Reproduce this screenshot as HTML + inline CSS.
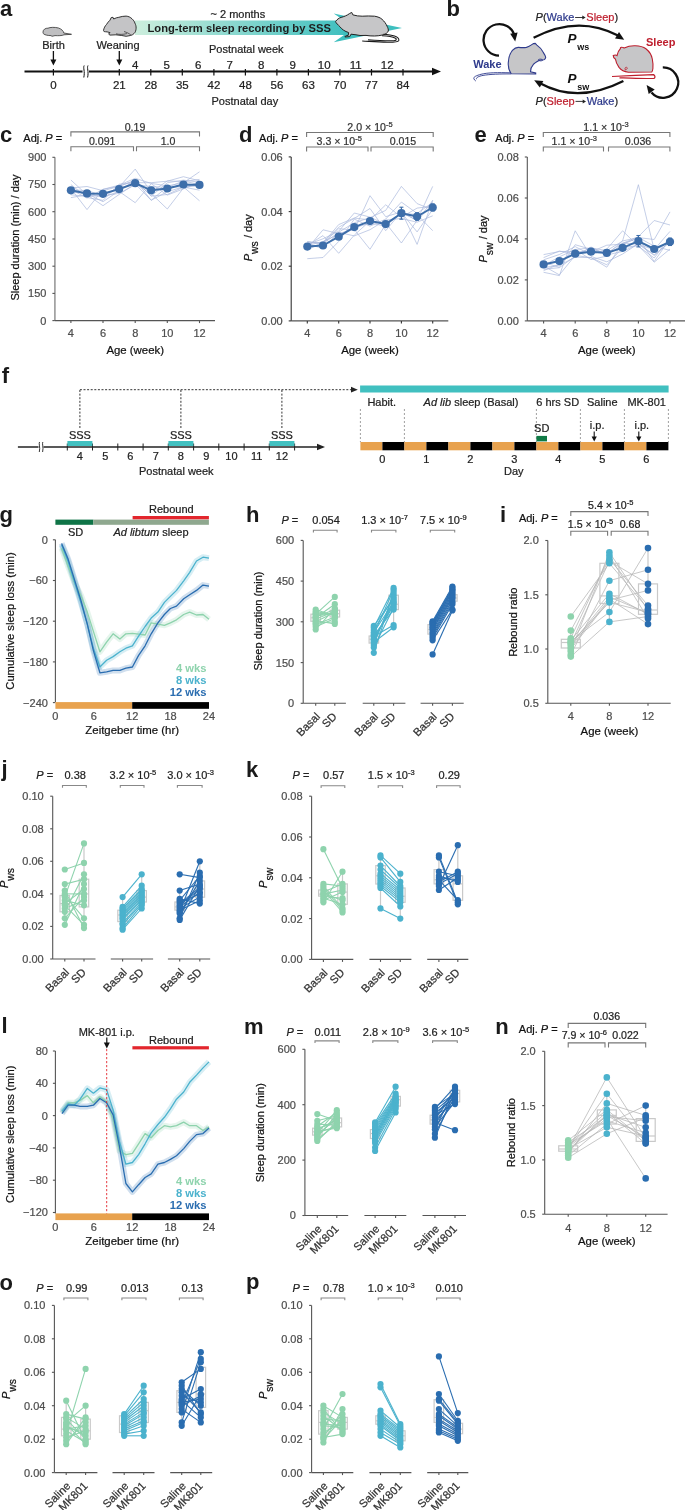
<!DOCTYPE html>
<html><head><meta charset="utf-8"><style>
html,body{margin:0;padding:0;background:#fff;}
svg{display:block;font-family:"Liberation Sans", sans-serif;will-change:transform;}
</style></head><body>
<svg width="685" height="1510" viewBox="0 0 685 1510">
<defs>
<linearGradient id="ban" x1="0" x2="1" y1="0" y2="0"><stop offset="0" stop-color="#cdeedd"/><stop offset="1" stop-color="#3ebfbf"/></linearGradient>
<marker id="ah" viewBox="0 0 10 10" refX="8" refY="5" markerWidth="5" markerHeight="5" orient="auto"><path d="M0,0 L10,5 L0,10 z" fill="#111"/></marker>
</defs>
<text x="0.0" y="16.3" font-size="22" text-anchor="start" fill="#1a1a1a" font-weight="bold">a</text>
<rect x="135.0" y="20.5" width="212.0" height="14.5" fill="url(#ban)"/>
<path d="M344,20.5 L333.7,13.5 L402,28 L333.7,42.3 L344,35 Z" fill="#3ebfbf" stroke="none" stroke-width="1"/>
<text x="147.5" y="32.2" font-size="11.2" text-anchor="start" fill="#1d1d1d" font-weight="bold">Long-term sleep recording by SSS</text>
<text x="210.5" y="18.3" font-size="11" text-anchor="start" fill="#222" stroke="#222" stroke-width="0.22">~ 2 months</text>
<path d="M43,32 C43,29.5 45.5,28 48,28.2 C50,27.2 55,27 58.5,28 C61.5,29 63.5,31 63.8,33 L71.5,34.3 L64,34.8 C62,35.8 58,35.8 55,35.6 L52,36.3 L51,35.6 C48,35.6 45,35 43.8,34 C43,33.5 43,32.8 43,32 Z" fill="#bfbfc1" stroke="#333" stroke-width="0.8"/>
<path d="M103.5,30.4 C104,28 105,26 106.4,24.6 C107.5,22.8 108.8,21.2 110,20.2 L111.2,17.6 L113,17.3 L113.7,19 C115.5,18 117,17.5 118.8,17.3 C121,16.6 123.5,16.1 126.1,16.1 C128.5,16.3 130.5,17.3 132,18.8 C133.5,20.2 134.5,21.5 134.9,23.1 C135.8,24.8 136.2,26.5 136.1,28.2 C136,30.5 135.4,32.2 134.2,33.4 C133,34.6 131.8,35.2 130.5,35.5 L126.1,36.3 L121.8,35.5 L115.9,34.8 L110,35.1 L108.6,34.1 L110,32.6 L107.2,31.9 C106,31.8 105,31.7 104.2,31.6 C103.7,31.3 103.5,30.9 103.5,30.4 Z" fill="#c4c4c6" stroke="#2a2a2a" stroke-width="0.95"/>
<path d="M116,33.8 C119,34.6 123,34.6 127,33.6 M124,31.5 C127,32.5 129.5,33.6 131,35.2" fill="none" stroke="#2a2a2a" stroke-width="0.7"/>
<path d="M335.5,21.7 C337,19.3 339,18 341.1,17.4 C344,16.6 347,15.5 349.5,13.6 L351.7,12.4 L352.9,14.9 C356,15.8 359,16.2 362.2,16.2 C366,16 370.5,15.8 374.6,16.2 C378,16.8 380.5,17.8 382,19.3 C384.5,21.5 386,23.8 387,26.1 C388,28 388.6,29.8 388.3,31 C387.5,33 385.5,34.2 383.3,34.8 C380,35.6 377.5,36 374.6,36 C371.5,36.1 368.5,35.8 366,35.4 L360,35.5 L356,34.8 L351,34.2 L349.8,36.6 L344.9,37 L345.5,36 L348.2,35.4 L348.6,32.5 C345,31.5 342,29.5 339.9,26.7 C338,24.8 336.2,23.2 335.5,21.7 Z" fill="#c6c6c8" stroke="#222" stroke-width="1"/>
<path d="M383.3,34.2 C388,34.6 392,35.2 394.5,36 C397.5,37 399.2,38.5 398.8,40.4 C398,42 394,42.3 387,42.2 C378,42 370,41.4 362.2,41 M382,35.8 C388,36 393,37 395.5,38.3 C397,39.3 396.5,40.6 393.5,40.8 C386,41 378,40.6 368,39.8" fill="none" stroke="#1a1a1a" stroke-width="1.05"/>
<text x="53.5" y="48.7" font-size="11" text-anchor="middle" fill="#222" stroke="#222" stroke-width="0.22">Birth</text>
<text x="118.0" y="48.7" font-size="11" text-anchor="middle" fill="#222" stroke="#222" stroke-width="0.22">Weaning</text>
<line x1="53.4" y1="51.0" x2="53.4" y2="61.0" stroke="#111" stroke-width="1.3"/>
<path d="M50.4,59.5 L56.4,59.5 L53.4,65.5 Z" fill="#111" stroke="none" stroke-width="1"/>
<line x1="119.3" y1="51.0" x2="119.3" y2="61.0" stroke="#111" stroke-width="1.3"/>
<path d="M116.3,59.5 L122.3,59.5 L119.3,65.5 Z" fill="#111" stroke="none" stroke-width="1"/>
<line x1="24.5" y1="71.5" x2="434.0" y2="71.5" stroke="#111" stroke-width="2"/>
<path d="M432,67.8 L441,71.5 L432,75.2 Z" fill="#111" stroke="none" stroke-width="1"/>
<rect x="82.5" y="65.0" width="6.5" height="13.0" fill="#fff"/>
<path d="M84.2,65.5 C82.8,68 85.2,71 83.8,77.5 M88,65.5 C86.6,68 89,71 87.6,77.5" fill="none" stroke="#111" stroke-width="1"/>
<line x1="53.4" y1="69.0" x2="53.4" y2="75.5" stroke="#111" stroke-width="1.2"/>
<text x="53.4" y="88.6" font-size="11.5" text-anchor="middle" fill="#222" stroke="#222" stroke-width="0.22">0</text>
<line x1="119.3" y1="69.0" x2="119.3" y2="75.5" stroke="#111" stroke-width="1.2"/>
<text x="119.3" y="88.6" font-size="11.5" text-anchor="middle" fill="#222" stroke="#222" stroke-width="0.22">21</text>
<text x="135.1" y="69.2" font-size="11.5" text-anchor="middle" fill="#222" stroke="#222" stroke-width="0.22">4</text>
<line x1="150.8" y1="69.0" x2="150.8" y2="75.5" stroke="#111" stroke-width="1.2"/>
<text x="150.8" y="88.6" font-size="11.5" text-anchor="middle" fill="#222" stroke="#222" stroke-width="0.22">28</text>
<text x="166.6" y="69.2" font-size="11.5" text-anchor="middle" fill="#222" stroke="#222" stroke-width="0.22">5</text>
<line x1="182.3" y1="69.0" x2="182.3" y2="75.5" stroke="#111" stroke-width="1.2"/>
<text x="182.3" y="88.6" font-size="11.5" text-anchor="middle" fill="#222" stroke="#222" stroke-width="0.22">35</text>
<text x="198.1" y="69.2" font-size="11.5" text-anchor="middle" fill="#222" stroke="#222" stroke-width="0.22">6</text>
<line x1="213.9" y1="69.0" x2="213.9" y2="75.5" stroke="#111" stroke-width="1.2"/>
<text x="213.9" y="88.6" font-size="11.5" text-anchor="middle" fill="#222" stroke="#222" stroke-width="0.22">42</text>
<text x="229.6" y="69.2" font-size="11.5" text-anchor="middle" fill="#222" stroke="#222" stroke-width="0.22">7</text>
<line x1="245.4" y1="69.0" x2="245.4" y2="75.5" stroke="#111" stroke-width="1.2"/>
<text x="245.4" y="88.6" font-size="11.5" text-anchor="middle" fill="#222" stroke="#222" stroke-width="0.22">48</text>
<text x="261.1" y="69.2" font-size="11.5" text-anchor="middle" fill="#222" stroke="#222" stroke-width="0.22">8</text>
<line x1="276.9" y1="69.0" x2="276.9" y2="75.5" stroke="#111" stroke-width="1.2"/>
<text x="276.9" y="88.6" font-size="11.5" text-anchor="middle" fill="#222" stroke="#222" stroke-width="0.22">56</text>
<text x="292.7" y="69.2" font-size="11.5" text-anchor="middle" fill="#222" stroke="#222" stroke-width="0.22">9</text>
<line x1="308.4" y1="69.0" x2="308.4" y2="75.5" stroke="#111" stroke-width="1.2"/>
<text x="308.4" y="88.6" font-size="11.5" text-anchor="middle" fill="#222" stroke="#222" stroke-width="0.22">63</text>
<text x="324.2" y="69.2" font-size="11.5" text-anchor="middle" fill="#222" stroke="#222" stroke-width="0.22">10</text>
<line x1="339.9" y1="69.0" x2="339.9" y2="75.5" stroke="#111" stroke-width="1.2"/>
<text x="339.9" y="88.6" font-size="11.5" text-anchor="middle" fill="#222" stroke="#222" stroke-width="0.22">70</text>
<text x="355.7" y="69.2" font-size="11.5" text-anchor="middle" fill="#222" stroke="#222" stroke-width="0.22">11</text>
<line x1="371.5" y1="69.0" x2="371.5" y2="75.5" stroke="#111" stroke-width="1.2"/>
<text x="371.5" y="88.6" font-size="11.5" text-anchor="middle" fill="#222" stroke="#222" stroke-width="0.22">77</text>
<text x="387.2" y="69.2" font-size="11.5" text-anchor="middle" fill="#222" stroke="#222" stroke-width="0.22">12</text>
<line x1="403.0" y1="69.0" x2="403.0" y2="75.5" stroke="#111" stroke-width="1.2"/>
<text x="403.0" y="88.6" font-size="11.5" text-anchor="middle" fill="#222" stroke="#222" stroke-width="0.22">84</text>
<text x="209.0" y="53.3" font-size="11" text-anchor="start" fill="#222" stroke="#222" stroke-width="0.22">Postnatal week</text>
<text x="211.5" y="105.0" font-size="11" text-anchor="start" fill="#222" stroke="#222" stroke-width="0.22">Postnatal day</text>
<text x="446.4" y="15.9" font-size="22" text-anchor="start" fill="#1a1a1a" font-weight="bold">b</text>
<text x="535.5" y="21.1" font-size="11" text-anchor="start" fill="#222" font-style="italic" stroke="#222" stroke-width="0.22">P</text>
<text x="542.9" y="21.1" font-size="11" text-anchor="start" fill="#222" stroke="#222" stroke-width="0.22">(</text>
<text x="546.6" y="21.1" font-size="11" text-anchor="start" fill="#2e3a8c" stroke="#2e3a8c" stroke-width="0.22">Wake</text>
<line x1="575.1" y1="17.5" x2="583.8" y2="17.5" stroke="#222" stroke-width="0.9"/>
<path d="M582.3,15.5 L585.6,17.5 L582.3,19.5 Z" fill="#222" stroke="none" stroke-width="1"/>
<text x="586.3" y="21.1" font-size="11" text-anchor="start" fill="#be1e2d" stroke="#be1e2d" stroke-width="0.22">Sleep</text>
<text x="614.4" y="21.1" font-size="11" text-anchor="start" fill="#222" stroke="#222" stroke-width="0.22">)</text>
<text x="535.5" y="105.0" font-size="11" text-anchor="start" fill="#222" font-style="italic" stroke="#222" stroke-width="0.22">P</text>
<text x="542.9" y="105.0" font-size="11" text-anchor="start" fill="#222" stroke="#222" stroke-width="0.22">(</text>
<text x="546.6" y="105.0" font-size="11" text-anchor="start" fill="#be1e2d" stroke="#be1e2d" stroke-width="0.22">Sleep</text>
<line x1="575.5" y1="101.4" x2="584.2" y2="101.4" stroke="#222" stroke-width="0.9"/>
<path d="M582.7,99.4 L586.0,101.4 L582.7,103.4 Z" fill="#222" stroke="none" stroke-width="1"/>
<text x="586.7" y="105.0" font-size="11" text-anchor="start" fill="#2e3a8c" stroke="#2e3a8c" stroke-width="0.22">Wake</text>
<text x="614.4" y="105.0" font-size="11" text-anchor="start" fill="#222" stroke="#222" stroke-width="0.22">)</text>
<path d="M533.6,37.8 Q578,14.5 618,35.5" fill="none" stroke="#111" stroke-width="2.3"/>
<path d="M624.2,39.8 L615.0,38.5 L619.0,32.1 Z" fill="#111" stroke="none" stroke-width="1"/>
<path d="M623.4,80.9 Q578,104 540,83.2" fill="none" stroke="#111" stroke-width="2.3"/>
<path d="M534.2,80.2 L543.4,81.1 L539.8,87.6 Z" fill="#111" stroke="none" stroke-width="1"/>
<text x="567.6" y="42.7" font-size="13.5" text-anchor="start" fill="#111" font-weight="bold" font-style="italic">P</text>
<text x="577.2" y="49.5" font-size="9" text-anchor="start" fill="#111" font-weight="bold">ws</text>
<text x="567.6" y="83.1" font-size="13.5" text-anchor="start" fill="#111" font-weight="bold" font-style="italic">P</text>
<text x="577.2" y="89.7" font-size="9" text-anchor="start" fill="#111" font-weight="bold">sw</text>
<text x="646.0" y="45.8" font-size="11" text-anchor="start" fill="#be1e2d" font-weight="bold">Sleep</text>
<text x="473.2" y="67.9" font-size="11" text-anchor="start" fill="#2e3a8c" font-weight="bold">Wake</text>
<path d="M499,55.7 A15.8,15.8 0 1 1 514.2,34.5" fill="none" stroke="#111" stroke-width="2.3"/>
<path d="M515.2,41.5 L510.2,33.7 L517.6,32.5 Z" fill="#111" stroke="none" stroke-width="1"/>
<path d="M662.8,67.4 A15.2,15.2 0 1 1 651.5,92.5" fill="none" stroke="#111" stroke-width="2.3"/>
<path d="M646.6,85.0 L654.7,89.5 L648.7,94.0 Z" fill="#111" stroke="none" stroke-width="1"/>
<path d="M511.2,73.7 C508.5,70 508,66 508.3,62.5 C508.5,58 509.8,53.5 512.4,50.4 C514.5,48.2 516.5,47.4 518.2,47.4 C521,47.6 523.5,47.8 526.4,47.4 C528.5,46.8 530,45.8 531,45.1 L533.5,43.6 L535.2,43.4 L536.9,45.1 C539.5,47 541.5,49 542.7,51.5 C544,53.5 545.5,55.5 545.7,57.4 C545.5,58.8 544.8,59.5 543.9,59.7 L539.5,60.2 C537,61.5 534.5,62.8 533.4,64.4 C531.5,66.5 530.5,69 530.5,71.8 L535.7,73 L535.7,74 Z" fill="#c6c6c8" stroke="#2e3a8c" stroke-width="1.1"/>
<path d="M538.2,59.8 C539.5,58.8 542,58.8 542.8,60.2 C541.5,61.2 539.2,61.2 538.2,59.8 Z" fill="none" stroke="#2e3a8c" stroke-width="0.8"/>
<path d="M510.5,72.8 C498,72.5 488,72.5 481,74.3 C476.5,75.5 473.5,76.8 473.8,78.5 C474,79.8 475.2,80.6 475.8,81 M511,73.9 C500,73.9 490,74.2 483,75.4 C478.5,76.3 476,77.5 476.5,79.2" fill="none" stroke="#2e3a8c" stroke-width="0.9"/>
<path d="M619,67.4 C617,64.5 615.8,62 615.5,59.2 C614.2,58.6 613.2,57.2 613.2,55.6 C614.8,54.8 616.2,55 617,55.6 C617.5,52.5 619,50 620.4,48.6 C620.2,47.6 621,47 622.2,47.3 C623.2,47.4 623.8,47.8 624.2,48 C627.5,46.4 631.5,45.6 635.4,45.8 C640,46 643.5,47 645.9,48.7 C649.5,51.5 651.6,55 652.3,59 C653,62.5 653.2,66 652.9,68.5 C652.7,70.5 652.2,71.6 651.7,72 L628.4,72.2 C624.5,71.8 621,70 619,67.4 Z" fill="#c6c6c8" stroke="#be1e2d" stroke-width="1.1"/>
<path d="M625.5,70 C624.5,68.5 625,67.2 626.5,67.3 C627.8,67.5 627.5,69.2 625.5,70 Z" fill="none" stroke="#be1e2d" stroke-width="0.8"/>
<path d="M612,76.5 C625,75.8 640,75.2 653.5,74.6 C655.2,75.5 655.5,77.5 654,78.4 C642,78.8 630,78.2 619.5,77.8" fill="none" stroke="#be1e2d" stroke-width="1.2"/>
<text x="0.0" y="141.5" font-size="22" text-anchor="start" fill="#1a1a1a" font-weight="bold">c</text>
<text x="23.3" y="141.5" font-size="11" text-anchor="start" fill="#111" stroke="#111" stroke-width="0.22"><tspan>Adj. </tspan><tspan font-style="italic">P</tspan><tspan> =</tspan></text>
<line x1="54.9" y1="157.3" x2="54.9" y2="320.6" stroke="#9a9a9a" stroke-width="1.6"/>
<line x1="54.9" y1="320.6" x2="215.0" y2="320.6" stroke="#555" stroke-width="1.1"/>
<line x1="52.4" y1="320.6" x2="54.9" y2="320.6" stroke="#555" stroke-width="1.1"/>
<text x="46.4" y="324.5" font-size="11" text-anchor="end" fill="#4d4d4d" stroke="#4d4d4d" stroke-width="0.22">0</text>
<line x1="52.4" y1="293.4" x2="54.9" y2="293.4" stroke="#555" stroke-width="1.1"/>
<text x="46.4" y="297.3" font-size="11" text-anchor="end" fill="#4d4d4d" stroke="#4d4d4d" stroke-width="0.22">150</text>
<line x1="52.4" y1="266.2" x2="54.9" y2="266.2" stroke="#555" stroke-width="1.1"/>
<text x="46.4" y="270.1" font-size="11" text-anchor="end" fill="#4d4d4d" stroke="#4d4d4d" stroke-width="0.22">300</text>
<line x1="52.4" y1="239.0" x2="54.9" y2="239.0" stroke="#555" stroke-width="1.1"/>
<text x="46.4" y="242.9" font-size="11" text-anchor="end" fill="#4d4d4d" stroke="#4d4d4d" stroke-width="0.22">450</text>
<line x1="52.4" y1="211.7" x2="54.9" y2="211.7" stroke="#555" stroke-width="1.1"/>
<text x="46.4" y="215.6" font-size="11" text-anchor="end" fill="#4d4d4d" stroke="#4d4d4d" stroke-width="0.22">600</text>
<line x1="52.4" y1="184.5" x2="54.9" y2="184.5" stroke="#555" stroke-width="1.1"/>
<text x="46.4" y="188.4" font-size="11" text-anchor="end" fill="#4d4d4d" stroke="#4d4d4d" stroke-width="0.22">750</text>
<line x1="52.4" y1="157.3" x2="54.9" y2="157.3" stroke="#555" stroke-width="1.1"/>
<text x="46.4" y="161.2" font-size="11" text-anchor="end" fill="#4d4d4d" stroke="#4d4d4d" stroke-width="0.22">900</text>
<line x1="70.9" y1="320.6" x2="70.9" y2="323.1" stroke="#555" stroke-width="1.1"/>
<text x="70.9" y="337.3" font-size="11" text-anchor="middle" fill="#4d4d4d" stroke="#4d4d4d" stroke-width="0.22">4</text>
<line x1="103.0" y1="320.6" x2="103.0" y2="323.1" stroke="#555" stroke-width="1.1"/>
<text x="103.0" y="337.3" font-size="11" text-anchor="middle" fill="#4d4d4d" stroke="#4d4d4d" stroke-width="0.22">6</text>
<line x1="135.2" y1="320.6" x2="135.2" y2="323.1" stroke="#555" stroke-width="1.1"/>
<text x="135.2" y="337.3" font-size="11" text-anchor="middle" fill="#4d4d4d" stroke="#4d4d4d" stroke-width="0.22">8</text>
<line x1="167.3" y1="320.6" x2="167.3" y2="323.1" stroke="#555" stroke-width="1.1"/>
<text x="167.3" y="337.3" font-size="11" text-anchor="middle" fill="#4d4d4d" stroke="#4d4d4d" stroke-width="0.22">10</text>
<line x1="199.5" y1="320.6" x2="199.5" y2="323.1" stroke="#555" stroke-width="1.1"/>
<text x="199.5" y="337.3" font-size="11" text-anchor="middle" fill="#4d4d4d" stroke="#4d4d4d" stroke-width="0.22">12</text>
<text x="135.2" y="354.0" font-size="11.4" text-anchor="middle" fill="#111" stroke="#111" stroke-width="0.22">Age (week)</text>
<text x="19.0" y="237.6" font-size="11" text-anchor="middle" fill="#111" transform="rotate(-90 19.0 237.6)" stroke="#111" stroke-width="0.22">Sleep duration (min) / day</text>
<polyline points="70.9,180.0 87.0,194.9 103.0,195.6 119.1,193.4 135.2,184.7 151.2,186.5 167.3,187.4 183.4,181.0 199.5,184.5" fill="none" stroke="#a7b7dc" stroke-width="0.8" stroke-linejoin="round" stroke-opacity="0.85"/>
<polyline points="70.9,188.6 87.0,209.6 103.0,189.4 119.1,186.1 135.2,180.3 151.2,196.1 167.3,194.5 183.4,187.1 199.5,185.8" fill="none" stroke="#a7b7dc" stroke-width="0.8" stroke-linejoin="round" stroke-opacity="0.85"/>
<polyline points="70.9,189.8 87.0,190.6 103.0,195.6 119.1,187.1 135.2,169.1 151.2,192.2 167.3,180.9 183.4,181.6 199.5,179.4" fill="none" stroke="#a7b7dc" stroke-width="0.8" stroke-linejoin="round" stroke-opacity="0.85"/>
<polyline points="70.9,194.8 87.0,196.3 103.0,195.7 119.1,188.0 135.2,183.7 151.2,193.6 167.3,209.0 183.4,188.1 199.5,181.5" fill="none" stroke="#a7b7dc" stroke-width="0.8" stroke-linejoin="round" stroke-opacity="0.85"/>
<polyline points="70.9,191.3 87.0,193.6 103.0,201.7 119.1,190.8 135.2,180.0 151.2,200.3 167.3,191.7 183.4,186.9 199.5,200.8" fill="none" stroke="#a7b7dc" stroke-width="0.8" stroke-linejoin="round" stroke-opacity="0.85"/>
<polyline points="70.9,189.4 87.0,198.1 103.0,189.3 119.1,185.2 135.2,178.3 151.2,183.4 167.3,185.9 183.4,182.8 199.5,171.8" fill="none" stroke="#a7b7dc" stroke-width="0.8" stroke-linejoin="round" stroke-opacity="0.85"/>
<polyline points="70.9,191.3 87.0,193.7 103.0,197.3 119.1,191.4 135.2,202.7 151.2,183.7 167.3,195.1 183.4,188.9 199.5,182.5" fill="none" stroke="#a7b7dc" stroke-width="0.8" stroke-linejoin="round" stroke-opacity="0.85"/>
<polyline points="70.9,184.6 87.0,197.5 103.0,200.4 119.1,184.2 135.2,182.7 151.2,182.7 167.3,181.2 183.4,176.7 199.5,180.8" fill="none" stroke="#a7b7dc" stroke-width="0.8" stroke-linejoin="round" stroke-opacity="0.85"/>
<polyline points="70.9,188.0 87.0,186.5 103.0,190.7 119.1,186.4 135.2,180.5 151.2,196.0 167.3,182.8 183.4,180.1 199.5,182.2" fill="none" stroke="#a7b7dc" stroke-width="0.8" stroke-linejoin="round" stroke-opacity="0.85"/>
<polyline points="70.9,197.6 87.0,194.8 103.0,205.7 119.1,194.5 135.2,183.9 151.2,200.3 167.3,186.8 183.4,187.0 199.5,190.2" fill="none" stroke="#a7b7dc" stroke-width="0.8" stroke-linejoin="round" stroke-opacity="0.85"/>
<polyline points="70.9,190.3 87.0,193.4 103.0,193.8 119.1,189.1 135.2,183.2 151.2,190.3 167.3,188.5 183.4,184.5 199.5,184.9" fill="none" stroke="#3d6eaa" stroke-width="2" stroke-linejoin="round"/>
<circle cx="70.9" cy="190.3" r="4.1" fill="#3d6eaa"/>
<circle cx="87.0" cy="193.4" r="4.1" fill="#3d6eaa"/>
<circle cx="103.0" cy="193.8" r="4.1" fill="#3d6eaa"/>
<circle cx="119.1" cy="189.1" r="4.1" fill="#3d6eaa"/>
<circle cx="135.2" cy="183.2" r="4.1" fill="#3d6eaa"/>
<circle cx="151.2" cy="190.3" r="4.1" fill="#3d6eaa"/>
<circle cx="167.3" cy="188.5" r="4.1" fill="#3d6eaa"/>
<circle cx="183.4" cy="184.5" r="4.1" fill="#3d6eaa"/>
<circle cx="199.5" cy="184.9" r="4.1" fill="#3d6eaa"/>
<path d="M70.9,136.4 L70.9,131.9 L199.5,131.9 L199.5,136.4" fill="none" stroke="#777" stroke-width="1.1"/>
<text x="135.0" y="130.6" font-size="10.6" text-anchor="middle" fill="#333" stroke="#333" stroke-width="0.22">0.19</text>
<path d="M70.9,151.3 L70.9,146.8 L133.5,146.8 L133.5,151.3" fill="none" stroke="#777" stroke-width="1.1"/>
<path d="M136.5,151.3 L136.5,146.8 L199.5,146.8 L199.5,151.3" fill="none" stroke="#777" stroke-width="1.1"/>
<text x="102.2" y="145.0" font-size="10.6" text-anchor="middle" fill="#333" stroke="#333" stroke-width="0.22">0.091</text>
<text x="168.0" y="145.0" font-size="10.6" text-anchor="middle" fill="#333" stroke="#333" stroke-width="0.22">1.0</text>
<text x="239.0" y="142.0" font-size="22" text-anchor="start" fill="#1a1a1a" font-weight="bold">d</text>
<text x="259.1" y="141.7" font-size="11" text-anchor="start" fill="#111" stroke="#111" stroke-width="0.22"><tspan>Adj. </tspan><tspan font-style="italic">P</tspan><tspan> =</tspan></text>
<line x1="291.2" y1="156.9" x2="291.2" y2="320.9" stroke="#333" stroke-width="1.1"/>
<line x1="291.2" y1="320.9" x2="448.3" y2="320.9" stroke="#555" stroke-width="1.1"/>
<line x1="288.7" y1="320.9" x2="291.2" y2="320.9" stroke="#333" stroke-width="1.1"/>
<text x="282.7" y="324.8" font-size="11" text-anchor="end" fill="#4d4d4d" stroke="#4d4d4d" stroke-width="0.22">0.00</text>
<line x1="288.7" y1="266.2" x2="291.2" y2="266.2" stroke="#333" stroke-width="1.1"/>
<text x="282.7" y="270.1" font-size="11" text-anchor="end" fill="#4d4d4d" stroke="#4d4d4d" stroke-width="0.22">0.02</text>
<line x1="288.7" y1="211.6" x2="291.2" y2="211.6" stroke="#333" stroke-width="1.1"/>
<text x="282.7" y="215.5" font-size="11" text-anchor="end" fill="#4d4d4d" stroke="#4d4d4d" stroke-width="0.22">0.04</text>
<line x1="288.7" y1="156.9" x2="291.2" y2="156.9" stroke="#333" stroke-width="1.1"/>
<text x="282.7" y="160.8" font-size="11" text-anchor="end" fill="#4d4d4d" stroke="#4d4d4d" stroke-width="0.22">0.06</text>
<line x1="307.3" y1="320.9" x2="307.3" y2="323.4" stroke="#333" stroke-width="1.1"/>
<text x="307.3" y="337.3" font-size="11" text-anchor="middle" fill="#4d4d4d" stroke="#4d4d4d" stroke-width="0.22">4</text>
<line x1="338.7" y1="320.9" x2="338.7" y2="323.4" stroke="#333" stroke-width="1.1"/>
<text x="338.7" y="337.3" font-size="11" text-anchor="middle" fill="#4d4d4d" stroke="#4d4d4d" stroke-width="0.22">6</text>
<line x1="370.0" y1="320.9" x2="370.0" y2="323.4" stroke="#333" stroke-width="1.1"/>
<text x="370.0" y="337.3" font-size="11" text-anchor="middle" fill="#4d4d4d" stroke="#4d4d4d" stroke-width="0.22">8</text>
<line x1="401.4" y1="320.9" x2="401.4" y2="323.4" stroke="#333" stroke-width="1.1"/>
<text x="401.4" y="337.3" font-size="11" text-anchor="middle" fill="#4d4d4d" stroke="#4d4d4d" stroke-width="0.22">10</text>
<line x1="432.7" y1="320.9" x2="432.7" y2="323.4" stroke="#333" stroke-width="1.1"/>
<text x="432.7" y="337.3" font-size="11" text-anchor="middle" fill="#4d4d4d" stroke="#4d4d4d" stroke-width="0.22">12</text>
<text x="370.0" y="354.0" font-size="11.4" text-anchor="middle" fill="#111" stroke="#111" stroke-width="0.22">Age (week)</text>
<text x="251.9" y="237.8" font-size="11" text-anchor="middle" fill="#111" transform="rotate(-90 251.9 237.8)" stroke="#111" stroke-width="0.22"><tspan font-style="italic">P</tspan><tspan font-size="10.5" dy="5.8">ws</tspan><tspan dy="-5.8"> / day</tspan></text>
<polyline points="307.3,241.5 323.0,243.6 338.7,228.7 354.3,230.0 370.0,195.7 385.7,216.7 401.4,211.9 417.1,220.6 432.7,200.6" fill="none" stroke="#a7b7dc" stroke-width="0.8" stroke-linejoin="round" stroke-opacity="0.85"/>
<polyline points="307.3,243.9 323.0,248.5 338.7,232.2 354.3,222.8 370.0,217.6 385.7,210.4 401.4,186.4 417.1,203.6 432.7,209.8" fill="none" stroke="#a7b7dc" stroke-width="0.8" stroke-linejoin="round" stroke-opacity="0.85"/>
<polyline points="307.3,245.6 323.0,241.5 338.7,234.4 354.3,227.9 370.0,223.1 385.7,226.1 401.4,212.6 417.1,220.4 432.7,186.4" fill="none" stroke="#a7b7dc" stroke-width="0.8" stroke-linejoin="round" stroke-opacity="0.85"/>
<polyline points="307.3,244.5 323.0,238.8 338.7,231.2 354.3,213.0 370.0,217.1 385.7,224.6 401.4,213.4 417.1,214.5 432.7,230.7" fill="none" stroke="#a7b7dc" stroke-width="0.8" stroke-linejoin="round" stroke-opacity="0.85"/>
<polyline points="307.3,245.4 323.0,235.6 338.7,253.3 354.3,235.1 370.0,220.9 385.7,223.0 401.4,243.0 417.1,220.3 432.7,204.7" fill="none" stroke="#a7b7dc" stroke-width="0.8" stroke-linejoin="round" stroke-opacity="0.85"/>
<polyline points="307.3,248.7 323.0,229.8 338.7,233.6 354.3,229.5 370.0,249.3 385.7,224.5 401.4,212.6 417.1,231.9 432.7,209.4" fill="none" stroke="#a7b7dc" stroke-width="0.8" stroke-linejoin="round" stroke-opacity="0.85"/>
<polyline points="307.3,249.9 323.0,242.2 338.7,227.3 354.3,218.4 370.0,208.5 385.7,230.7 401.4,211.7 417.1,244.4 432.7,200.1" fill="none" stroke="#a7b7dc" stroke-width="0.8" stroke-linejoin="round" stroke-opacity="0.85"/>
<polyline points="307.3,258.7 323.0,257.5 338.7,241.5 354.3,219.1 370.0,226.2 385.7,219.1 401.4,202.1 417.1,213.4 432.7,202.4" fill="none" stroke="#a7b7dc" stroke-width="0.8" stroke-linejoin="round" stroke-opacity="0.85"/>
<polyline points="307.3,242.8 323.0,243.1 338.7,224.6 354.3,218.0 370.0,220.0 385.7,204.8 401.4,217.2 417.1,208.1 432.7,206.2" fill="none" stroke="#a7b7dc" stroke-width="0.8" stroke-linejoin="round" stroke-opacity="0.85"/>
<polyline points="307.3,241.8 323.0,243.6 338.7,232.4 354.3,235.9 370.0,229.7 385.7,220.0 401.4,218.5 417.1,222.2 432.7,215.8" fill="none" stroke="#a7b7dc" stroke-width="0.8" stroke-linejoin="round" stroke-opacity="0.85"/>
<line x1="401.4" y1="207.2" x2="401.4" y2="219.2" stroke="#3d6eaa" stroke-width="1.2"/>
<line x1="399.4" y1="207.2" x2="403.4" y2="207.2" stroke="#3d6eaa" stroke-width="1.1"/>
<line x1="399.4" y1="219.2" x2="403.4" y2="219.2" stroke="#3d6eaa" stroke-width="1.1"/>
<line x1="417.1" y1="212.7" x2="417.1" y2="220.3" stroke="#3d6eaa" stroke-width="1.2"/>
<line x1="415.1" y1="212.7" x2="419.1" y2="212.7" stroke="#3d6eaa" stroke-width="1.1"/>
<line x1="415.1" y1="220.3" x2="419.1" y2="220.3" stroke="#3d6eaa" stroke-width="1.1"/>
<line x1="432.7" y1="203.9" x2="432.7" y2="211.0" stroke="#3d6eaa" stroke-width="1.2"/>
<line x1="430.7" y1="203.9" x2="434.7" y2="203.9" stroke="#3d6eaa" stroke-width="1.1"/>
<line x1="430.7" y1="211.0" x2="434.7" y2="211.0" stroke="#3d6eaa" stroke-width="1.1"/>
<polyline points="307.3,246.6 323.0,245.5 338.7,236.7 354.3,227.1 370.0,221.1 385.7,224.1 401.4,213.2 417.1,216.5 432.7,207.5" fill="none" stroke="#3d6eaa" stroke-width="2" stroke-linejoin="round"/>
<circle cx="307.3" cy="246.6" r="4.1" fill="#3d6eaa"/>
<circle cx="323.0" cy="245.5" r="4.1" fill="#3d6eaa"/>
<circle cx="338.7" cy="236.7" r="4.1" fill="#3d6eaa"/>
<circle cx="354.3" cy="227.1" r="4.1" fill="#3d6eaa"/>
<circle cx="370.0" cy="221.1" r="4.1" fill="#3d6eaa"/>
<circle cx="385.7" cy="224.1" r="4.1" fill="#3d6eaa"/>
<circle cx="401.4" cy="213.2" r="4.1" fill="#3d6eaa"/>
<circle cx="417.1" cy="216.5" r="4.1" fill="#3d6eaa"/>
<circle cx="432.7" cy="207.5" r="4.1" fill="#3d6eaa"/>
<path d="M306.6,137.0 L306.6,132.5 L433.2,132.5 L433.2,137.0" fill="none" stroke="#777" stroke-width="1.1"/>
<text x="370.0" y="130.5" font-size="10.6" text-anchor="middle" fill="#333" stroke="#333" stroke-width="0.22">2.0 × 10<tspan dy="-4" font-size="7.5">-5</tspan></text>
<path d="M306.6,151.5 L306.6,147.0 L368.0,147.0 L368.0,151.5" fill="none" stroke="#777" stroke-width="1.1"/>
<path d="M371.0,151.5 L371.0,147.0 L433.2,147.0 L433.2,151.5" fill="none" stroke="#777" stroke-width="1.1"/>
<text x="339.2" y="145.0" font-size="10.6" text-anchor="middle" fill="#333" stroke="#333" stroke-width="0.22">3.3 × 10<tspan dy="-4" font-size="7.5">-5</tspan></text>
<text x="403.0" y="145.0" font-size="10.6" text-anchor="middle" fill="#333" stroke="#333" stroke-width="0.22">0.015</text>
<text x="474.5" y="142.0" font-size="22" text-anchor="start" fill="#1a1a1a" font-weight="bold">e</text>
<text x="495.3" y="141.7" font-size="11" text-anchor="start" fill="#111" stroke="#111" stroke-width="0.22"><tspan>Adj. </tspan><tspan font-style="italic">P</tspan><tspan> =</tspan></text>
<line x1="527.3" y1="157.0" x2="527.3" y2="320.9" stroke="#555" stroke-width="1.1"/>
<line x1="527.3" y1="320.9" x2="685.0" y2="320.9" stroke="#555" stroke-width="1.1"/>
<line x1="524.8" y1="320.9" x2="527.3" y2="320.9" stroke="#555" stroke-width="1.1"/>
<text x="518.8" y="324.8" font-size="11" text-anchor="end" fill="#4d4d4d" stroke="#4d4d4d" stroke-width="0.22">0.00</text>
<line x1="524.8" y1="279.9" x2="527.3" y2="279.9" stroke="#555" stroke-width="1.1"/>
<text x="518.8" y="283.8" font-size="11" text-anchor="end" fill="#4d4d4d" stroke="#4d4d4d" stroke-width="0.22">0.02</text>
<line x1="524.8" y1="238.9" x2="527.3" y2="238.9" stroke="#555" stroke-width="1.1"/>
<text x="518.8" y="242.8" font-size="11" text-anchor="end" fill="#4d4d4d" stroke="#4d4d4d" stroke-width="0.22">0.04</text>
<line x1="524.8" y1="198.0" x2="527.3" y2="198.0" stroke="#555" stroke-width="1.1"/>
<text x="518.8" y="201.9" font-size="11" text-anchor="end" fill="#4d4d4d" stroke="#4d4d4d" stroke-width="0.22">0.06</text>
<line x1="524.8" y1="157.0" x2="527.3" y2="157.0" stroke="#555" stroke-width="1.1"/>
<text x="518.8" y="160.9" font-size="11" text-anchor="end" fill="#4d4d4d" stroke="#4d4d4d" stroke-width="0.22">0.08</text>
<line x1="543.6" y1="320.9" x2="543.6" y2="323.4" stroke="#555" stroke-width="1.1"/>
<text x="543.6" y="337.3" font-size="11" text-anchor="middle" fill="#4d4d4d" stroke="#4d4d4d" stroke-width="0.22">4</text>
<line x1="575.2" y1="320.9" x2="575.2" y2="323.4" stroke="#555" stroke-width="1.1"/>
<text x="575.2" y="337.3" font-size="11" text-anchor="middle" fill="#4d4d4d" stroke="#4d4d4d" stroke-width="0.22">6</text>
<line x1="606.8" y1="320.9" x2="606.8" y2="323.4" stroke="#555" stroke-width="1.1"/>
<text x="606.8" y="337.3" font-size="11" text-anchor="middle" fill="#4d4d4d" stroke="#4d4d4d" stroke-width="0.22">8</text>
<line x1="638.4" y1="320.9" x2="638.4" y2="323.4" stroke="#555" stroke-width="1.1"/>
<text x="638.4" y="337.3" font-size="11" text-anchor="middle" fill="#4d4d4d" stroke="#4d4d4d" stroke-width="0.22">10</text>
<line x1="670.0" y1="320.9" x2="670.0" y2="323.4" stroke="#555" stroke-width="1.1"/>
<text x="670.0" y="337.3" font-size="11" text-anchor="middle" fill="#4d4d4d" stroke="#4d4d4d" stroke-width="0.22">12</text>
<text x="606.8" y="354.0" font-size="11.4" text-anchor="middle" fill="#111" stroke="#111" stroke-width="0.22">Age (week)</text>
<text x="487.2" y="239.0" font-size="11" text-anchor="middle" fill="#111" transform="rotate(-90 487.2 239.0)" stroke="#111" stroke-width="0.22"><tspan font-style="italic">P</tspan><tspan font-size="10.5" dy="5.8">sw</tspan><tspan dy="-5.8"> / day</tspan></text>
<polyline points="543.6,257.6 559.4,251.0 575.2,254.5 591.0,248.2 606.8,254.6 622.6,240.9 638.4,184.7 654.2,249.6 670.0,231.4" fill="none" stroke="#a7b7dc" stroke-width="0.8" stroke-linejoin="round" stroke-opacity="0.85"/>
<polyline points="543.6,262.5 559.4,267.3 575.2,244.7 591.0,249.4 606.8,252.9 622.6,243.3 638.4,236.7 654.2,220.5 670.0,225.0" fill="none" stroke="#a7b7dc" stroke-width="0.8" stroke-linejoin="round" stroke-opacity="0.85"/>
<polyline points="543.6,254.6 559.4,251.5 575.2,251.4 591.0,251.9 606.8,245.2 622.6,244.2 638.4,237.6 654.2,239.5 670.0,211.9" fill="none" stroke="#a7b7dc" stroke-width="0.8" stroke-linejoin="round" stroke-opacity="0.85"/>
<polyline points="543.6,272.3 559.4,275.6 575.2,230.8 591.0,256.4 606.8,261.8 622.6,254.0 638.4,243.7 654.2,254.8 670.0,242.1" fill="none" stroke="#a7b7dc" stroke-width="0.8" stroke-linejoin="round" stroke-opacity="0.85"/>
<polyline points="543.6,259.8 559.4,254.5 575.2,246.6 591.0,254.8 606.8,249.1 622.6,230.8 638.4,246.3 654.2,258.0 670.0,237.2" fill="none" stroke="#a7b7dc" stroke-width="0.8" stroke-linejoin="round" stroke-opacity="0.85"/>
<polyline points="543.6,267.7 559.4,265.3 575.2,257.2 591.0,257.6 606.8,267.2 622.6,243.0 638.4,244.3 654.2,249.9 670.0,240.6" fill="none" stroke="#a7b7dc" stroke-width="0.8" stroke-linejoin="round" stroke-opacity="0.85"/>
<polyline points="543.6,270.6 559.4,264.1 575.2,249.4 591.0,259.6 606.8,256.1 622.6,243.8 638.4,238.2 654.2,261.5 670.0,238.7" fill="none" stroke="#a7b7dc" stroke-width="0.8" stroke-linejoin="round" stroke-opacity="0.85"/>
<polyline points="543.6,269.2 559.4,267.7 575.2,256.1 591.0,247.0 606.8,255.0 622.6,251.4 638.4,244.2 654.2,255.4 670.0,241.9" fill="none" stroke="#a7b7dc" stroke-width="0.8" stroke-linejoin="round" stroke-opacity="0.85"/>
<polyline points="543.6,265.9 559.4,274.9 575.2,255.4 591.0,257.7 606.8,264.8 622.6,247.7 638.4,245.6 654.2,262.2 670.0,249.0" fill="none" stroke="#a7b7dc" stroke-width="0.8" stroke-linejoin="round" stroke-opacity="0.85"/>
<polyline points="543.6,265.6 559.4,256.8 575.2,249.5 591.0,247.9 606.8,250.6 622.6,241.0 638.4,237.4 654.2,246.2 670.0,250.4" fill="none" stroke="#a7b7dc" stroke-width="0.8" stroke-linejoin="round" stroke-opacity="0.85"/>
<line x1="638.4" y1="235.5" x2="638.4" y2="246.9" stroke="#3d6eaa" stroke-width="1.2"/>
<line x1="636.4" y1="235.5" x2="640.4" y2="235.5" stroke="#3d6eaa" stroke-width="1.1"/>
<line x1="636.4" y1="246.9" x2="640.4" y2="246.9" stroke="#3d6eaa" stroke-width="1.1"/>
<line x1="670.0" y1="238.1" x2="670.0" y2="245.5" stroke="#3d6eaa" stroke-width="1.2"/>
<line x1="668.0" y1="238.1" x2="672.0" y2="238.1" stroke="#3d6eaa" stroke-width="1.1"/>
<line x1="668.0" y1="245.5" x2="672.0" y2="245.5" stroke="#3d6eaa" stroke-width="1.1"/>
<polyline points="543.6,264.4 559.4,261.1 575.2,253.7 591.0,251.7 606.8,252.9 622.6,247.8 638.4,241.2 654.2,249.0 670.0,241.8" fill="none" stroke="#3d6eaa" stroke-width="2" stroke-linejoin="round"/>
<circle cx="543.6" cy="264.4" r="4.1" fill="#3d6eaa"/>
<circle cx="559.4" cy="261.1" r="4.1" fill="#3d6eaa"/>
<circle cx="575.2" cy="253.7" r="4.1" fill="#3d6eaa"/>
<circle cx="591.0" cy="251.7" r="4.1" fill="#3d6eaa"/>
<circle cx="606.8" cy="252.9" r="4.1" fill="#3d6eaa"/>
<circle cx="622.6" cy="247.8" r="4.1" fill="#3d6eaa"/>
<circle cx="638.4" cy="241.2" r="4.1" fill="#3d6eaa"/>
<circle cx="654.2" cy="249.0" r="4.1" fill="#3d6eaa"/>
<circle cx="670.0" cy="241.8" r="4.1" fill="#3d6eaa"/>
<path d="M543.3,137.0 L543.3,132.5 L669.9,132.5 L669.9,137.0" fill="none" stroke="#777" stroke-width="1.1"/>
<text x="606.0" y="130.5" font-size="10.6" text-anchor="middle" fill="#333" stroke="#333" stroke-width="0.22">1.1 × 10<tspan dy="-4" font-size="7.5">-3</tspan></text>
<path d="M543.3,151.5 L543.3,147.0 L603.5,147.0 L603.5,151.5" fill="none" stroke="#777" stroke-width="1.1"/>
<path d="M608.5,151.5 L608.5,147.0 L669.9,147.0 L669.9,151.5" fill="none" stroke="#777" stroke-width="1.1"/>
<text x="574.2" y="145.0" font-size="10.6" text-anchor="middle" fill="#333" stroke="#333" stroke-width="0.22">1.1 × 10<tspan dy="-4" font-size="7.5">-3</tspan></text>
<text x="638.0" y="145.0" font-size="10.6" text-anchor="middle" fill="#333" stroke="#333" stroke-width="0.22">0.036</text>
<text x="1.8" y="383.0" font-size="22" text-anchor="start" fill="#1a1a1a" font-weight="bold">f</text>
<line x1="17.9" y1="447.0" x2="318.0" y2="447.0" stroke="#222" stroke-width="1.5"/>
<path d="M317,443.8 L325,447 L317,450.2 Z" fill="#222" stroke="none" stroke-width="1"/>
<rect x="38.5" y="441.0" width="5.0" height="12.0" fill="#fff"/>
<path d="M39.5,442 C38.5,444 40.5,447 39.3,452 M42.8,442 C41.8,444 43.8,447 42.6,452" fill="none" stroke="#222" stroke-width="0.9"/>
<text x="79.9" y="459.6" font-size="11" text-anchor="middle" fill="#222" stroke="#222" stroke-width="0.22">4</text>
<text x="105.2" y="459.6" font-size="11" text-anchor="middle" fill="#222" stroke="#222" stroke-width="0.22">5</text>
<text x="130.4" y="459.6" font-size="11" text-anchor="middle" fill="#222" stroke="#222" stroke-width="0.22">6</text>
<text x="155.7" y="459.6" font-size="11" text-anchor="middle" fill="#222" stroke="#222" stroke-width="0.22">7</text>
<text x="180.9" y="459.6" font-size="11" text-anchor="middle" fill="#222" stroke="#222" stroke-width="0.22">8</text>
<text x="206.2" y="459.6" font-size="11" text-anchor="middle" fill="#222" stroke="#222" stroke-width="0.22">9</text>
<text x="231.4" y="459.6" font-size="11" text-anchor="middle" fill="#222" stroke="#222" stroke-width="0.22">10</text>
<text x="256.6" y="459.6" font-size="11" text-anchor="middle" fill="#222" stroke="#222" stroke-width="0.22">11</text>
<text x="281.9" y="459.6" font-size="11" text-anchor="middle" fill="#222" stroke="#222" stroke-width="0.22">12</text>
<line x1="67.3" y1="443.5" x2="67.3" y2="450.5" stroke="#222" stroke-width="1"/>
<line x1="92.5" y1="443.5" x2="92.5" y2="450.5" stroke="#222" stroke-width="1"/>
<line x1="117.8" y1="443.5" x2="117.8" y2="450.5" stroke="#222" stroke-width="1"/>
<line x1="143.1" y1="443.5" x2="143.1" y2="450.5" stroke="#222" stroke-width="1"/>
<line x1="168.3" y1="443.5" x2="168.3" y2="450.5" stroke="#222" stroke-width="1"/>
<line x1="193.6" y1="443.5" x2="193.6" y2="450.5" stroke="#222" stroke-width="1"/>
<line x1="218.8" y1="443.5" x2="218.8" y2="450.5" stroke="#222" stroke-width="1"/>
<line x1="244.1" y1="443.5" x2="244.1" y2="450.5" stroke="#222" stroke-width="1"/>
<line x1="269.3" y1="443.5" x2="269.3" y2="450.5" stroke="#222" stroke-width="1"/>
<line x1="294.6" y1="443.5" x2="294.6" y2="450.5" stroke="#222" stroke-width="1"/>
<rect x="67.4" y="441.0" width="25.0" height="5.0" fill="#41c0c0"/>
<text x="79.9" y="439.2" font-size="11" text-anchor="middle" fill="#222" stroke="#222" stroke-width="0.22">SSS</text>
<line x1="79.9" y1="390.0" x2="79.9" y2="428.0" stroke="#333" stroke-width="1" stroke-dasharray="2,1.6"/>
<rect x="168.4" y="441.0" width="25.0" height="5.0" fill="#41c0c0"/>
<text x="180.9" y="439.2" font-size="11" text-anchor="middle" fill="#222" stroke="#222" stroke-width="0.22">SSS</text>
<line x1="180.9" y1="390.0" x2="180.9" y2="428.0" stroke="#333" stroke-width="1" stroke-dasharray="2,1.6"/>
<rect x="269.4" y="441.0" width="25.0" height="5.0" fill="#41c0c0"/>
<text x="281.9" y="439.2" font-size="11" text-anchor="middle" fill="#222" stroke="#222" stroke-width="0.22">SSS</text>
<line x1="281.9" y1="390.0" x2="281.9" y2="428.0" stroke="#333" stroke-width="1" stroke-dasharray="2,1.6"/>
<text x="176.3" y="475.4" font-size="11" text-anchor="middle" fill="#222" stroke="#222" stroke-width="0.22">Postnatal week</text>
<line x1="79.9" y1="389.7" x2="352.0" y2="389.7" stroke="#333" stroke-width="1" stroke-dasharray="2,1.6"/>
<path d="M351,386.8 L357.8,389.7 L351,392.6 Z" fill="#222" stroke="none" stroke-width="1"/>
<rect x="360.1" y="385.5" width="308.5" height="7.0" fill="#41c0c0"/>
<rect x="360.4" y="442.0" width="22.0" height="8.3" fill="#e8a24e"/>
<rect x="382.4" y="442.0" width="22.0" height="8.3" fill="#000"/>
<text x="382.4" y="463.4" font-size="11" text-anchor="middle" fill="#222" stroke="#222" stroke-width="0.22">0</text>
<rect x="404.4" y="442.0" width="22.0" height="8.3" fill="#e8a24e"/>
<rect x="426.4" y="442.0" width="22.0" height="8.3" fill="#000"/>
<text x="426.4" y="463.4" font-size="11" text-anchor="middle" fill="#222" stroke="#222" stroke-width="0.22">1</text>
<rect x="448.4" y="442.0" width="22.0" height="8.3" fill="#e8a24e"/>
<rect x="470.4" y="442.0" width="22.0" height="8.3" fill="#000"/>
<text x="470.4" y="463.4" font-size="11" text-anchor="middle" fill="#222" stroke="#222" stroke-width="0.22">2</text>
<rect x="492.4" y="442.0" width="22.0" height="8.3" fill="#e8a24e"/>
<rect x="514.4" y="442.0" width="22.0" height="8.3" fill="#000"/>
<text x="514.4" y="463.4" font-size="11" text-anchor="middle" fill="#222" stroke="#222" stroke-width="0.22">3</text>
<rect x="536.4" y="442.0" width="22.0" height="8.3" fill="#e8a24e"/>
<rect x="558.4" y="442.0" width="22.0" height="8.3" fill="#000"/>
<text x="558.4" y="463.4" font-size="11" text-anchor="middle" fill="#222" stroke="#222" stroke-width="0.22">4</text>
<rect x="580.4" y="442.0" width="22.0" height="8.3" fill="#e8a24e"/>
<rect x="602.4" y="442.0" width="22.0" height="8.3" fill="#000"/>
<text x="602.4" y="463.4" font-size="11" text-anchor="middle" fill="#222" stroke="#222" stroke-width="0.22">5</text>
<rect x="624.4" y="442.0" width="22.0" height="8.3" fill="#e8a24e"/>
<rect x="646.4" y="442.0" width="22.0" height="8.3" fill="#000"/>
<text x="646.4" y="463.4" font-size="11" text-anchor="middle" fill="#222" stroke="#222" stroke-width="0.22">6</text>
<line x1="360.4" y1="409.0" x2="360.4" y2="442.0" stroke="#777" stroke-width="0.7" stroke-dasharray="2,2"/>
<line x1="404.4" y1="409.0" x2="404.4" y2="442.0" stroke="#777" stroke-width="0.7" stroke-dasharray="2,2"/>
<line x1="536.4" y1="409.0" x2="536.4" y2="442.0" stroke="#777" stroke-width="0.7" stroke-dasharray="2,2"/>
<line x1="580.4" y1="409.0" x2="580.4" y2="442.0" stroke="#777" stroke-width="0.7" stroke-dasharray="2,2"/>
<line x1="624.4" y1="409.0" x2="624.4" y2="442.0" stroke="#777" stroke-width="0.7" stroke-dasharray="2,2"/>
<line x1="668.4" y1="409.0" x2="668.4" y2="442.0" stroke="#777" stroke-width="0.7" stroke-dasharray="2,2"/>
<text x="381.8" y="406.0" font-size="11" text-anchor="middle" fill="#222" stroke="#222" stroke-width="0.22">Habit.</text>
<text x="471.0" y="406.0" font-size="11" text-anchor="middle" fill="#222" stroke="#222" stroke-width="0.22"><tspan font-style="italic">Ad lib</tspan> sleep (Basal)</text>
<text x="557.7" y="406.0" font-size="11" text-anchor="middle" fill="#222" stroke="#222" stroke-width="0.22">6 hrs SD</text>
<text x="602.3" y="406.0" font-size="11" text-anchor="middle" fill="#222" stroke="#222" stroke-width="0.22">Saline</text>
<text x="646.7" y="406.0" font-size="11" text-anchor="middle" fill="#222" stroke="#222" stroke-width="0.22">MK-801</text>
<text x="541.7" y="431.8" font-size="11" text-anchor="middle" fill="#222" stroke="#222" stroke-width="0.22">SD</text>
<rect x="536.4" y="435.9" width="10.6" height="5.5" fill="#0f7a45"/>
<text x="597.2" y="428.9" font-size="11" text-anchor="middle" fill="#222" stroke="#222" stroke-width="0.22">i.p.</text>
<line x1="594.2" y1="431.5" x2="594.2" y2="437.5" stroke="#111" stroke-width="1.1"/>
<path d="M591.6,436.5 L596.8,436.5 L594.2,441.5 Z" fill="#111" stroke="none" stroke-width="1"/>
<text x="641.8" y="428.9" font-size="11" text-anchor="middle" fill="#222" stroke="#222" stroke-width="0.22">i.p.</text>
<line x1="638.8" y1="431.5" x2="638.8" y2="437.5" stroke="#111" stroke-width="1.1"/>
<path d="M636.2,436.5 L641.4,436.5 L638.8,441.5 Z" fill="#111" stroke="none" stroke-width="1"/>
<text x="513.8" y="474.7" font-size="11" text-anchor="middle" fill="#222" stroke="#222" stroke-width="0.22">Day</text>
<text x="-0.5" y="521.8" font-size="22" text-anchor="start" fill="#1a1a1a" font-weight="bold">g</text>
<rect x="55.4" y="519.6" width="38.0" height="5.2" fill="#0f7447"/>
<rect x="93.4" y="519.6" width="115.5" height="5.2" fill="#8fa88f"/>
<rect x="132.6" y="516.0" width="76.3" height="3.3" fill="#e3262d"/>
<text x="171.3" y="513.4" font-size="11" text-anchor="middle" fill="#222" stroke="#222" stroke-width="0.22">Rebound</text>
<text x="75.6" y="536.0" font-size="11" text-anchor="middle" fill="#222" stroke="#222" stroke-width="0.22">SD</text>
<text x="151.0" y="536.0" font-size="11" text-anchor="middle" fill="#222" stroke="#222" stroke-width="0.22"><tspan font-style="italic">Ad libtum</tspan> sleep</text>
<line x1="55.4" y1="539.8" x2="55.4" y2="702.1" stroke="#555" stroke-width="1.1"/>
<line x1="52.9" y1="539.8" x2="55.4" y2="539.8" stroke="#555" stroke-width="1.1"/>
<text x="47.9" y="543.7" font-size="11" text-anchor="end" fill="#4d4d4d" stroke="#4d4d4d" stroke-width="0.22">0</text>
<line x1="52.9" y1="580.5" x2="55.4" y2="580.5" stroke="#555" stroke-width="1.1"/>
<text x="47.9" y="584.4" font-size="11" text-anchor="end" fill="#4d4d4d" stroke="#4d4d4d" stroke-width="0.22">−60</text>
<line x1="52.9" y1="621.2" x2="55.4" y2="621.2" stroke="#555" stroke-width="1.1"/>
<text x="47.9" y="625.1" font-size="11" text-anchor="end" fill="#4d4d4d" stroke="#4d4d4d" stroke-width="0.22">−120</text>
<line x1="52.9" y1="661.9" x2="55.4" y2="661.9" stroke="#555" stroke-width="1.1"/>
<text x="47.9" y="665.8" font-size="11" text-anchor="end" fill="#4d4d4d" stroke="#4d4d4d" stroke-width="0.22">−180</text>
<line x1="52.9" y1="702.6" x2="55.4" y2="702.6" stroke="#555" stroke-width="1.1"/>
<text x="47.9" y="706.5" font-size="11" text-anchor="end" fill="#4d4d4d" stroke="#4d4d4d" stroke-width="0.22">−240</text>
<rect x="55.4" y="702.1" width="76.8" height="6.7" fill="#e8a24e"/>
<rect x="132.2" y="702.1" width="76.8" height="6.7" fill="#000"/>
<text x="55.4" y="719.6" font-size="11" text-anchor="middle" fill="#4d4d4d" stroke="#4d4d4d" stroke-width="0.22">0</text>
<text x="93.8" y="719.6" font-size="11" text-anchor="middle" fill="#4d4d4d" stroke="#4d4d4d" stroke-width="0.22">6</text>
<text x="132.2" y="719.6" font-size="11" text-anchor="middle" fill="#4d4d4d" stroke="#4d4d4d" stroke-width="0.22">12</text>
<text x="170.5" y="719.6" font-size="11" text-anchor="middle" fill="#4d4d4d" stroke="#4d4d4d" stroke-width="0.22">18</text>
<text x="208.9" y="719.6" font-size="11" text-anchor="middle" fill="#4d4d4d" stroke="#4d4d4d" stroke-width="0.22">24</text>
<text x="132.2" y="734.0" font-size="11.4" text-anchor="middle" fill="#111" stroke="#111" stroke-width="0.22">Zeitgeber time (hr)</text>
<text x="14.0" y="621.0" font-size="11.2" text-anchor="middle" fill="#111" transform="rotate(-90 14.0 621.0)" stroke="#111" stroke-width="0.22">Cumulative sleep loss (min)</text>
<polyline points="61.6,548.2 68.1,566.3 74.1,582.0 80.8,595.2 87.3,612.1 93.4,631.4 99.9,651.8 106.6,642.2 113.1,633.8 119.9,639.1 125.9,633.8 132.4,633.3 138.6,634.2 145.1,635.0 151.2,622.9 157.9,624.1 164.4,625.3 170.4,622.9 176.5,619.8 183.7,614.5 189.7,612.1 196.5,615.0 203.0,614.5 209.0,619.3" fill="none" stroke="#8ed3ad" stroke-width="6" stroke-linejoin="round" stroke-opacity="0.22"/>
<polyline points="61.6,545.1 68.1,561.5 74.1,580.8 80.8,602.4 87.3,624.1 93.4,648.2 99.9,667.0 106.6,660.3 113.1,656.6 119.9,651.8 125.9,648.2 132.4,645.8 138.6,636.2 145.1,626.5 151.2,618.1 157.9,612.1 164.4,602.4 170.4,596.4 176.5,590.4 183.7,580.8 189.7,572.3 196.5,561.0 203.0,557.2 209.0,558.1" fill="none" stroke="#4bb2cd" stroke-width="6" stroke-linejoin="round" stroke-opacity="0.22"/>
<polyline points="61.6,543.4 68.1,559.1 74.1,578.4 80.8,600.0 87.3,624.1 93.4,650.6 99.9,672.8 106.6,671.8 113.1,670.4 119.9,670.4 125.9,668.2 132.4,667.0 138.6,655.4 145.1,645.8 151.2,633.8 157.9,622.9 164.4,614.5 170.4,608.5 176.5,606.1 183.7,598.8 189.7,594.7 196.5,590.4 203.0,585.1 209.0,586.1" fill="none" stroke="#2a6db0" stroke-width="6" stroke-linejoin="round" stroke-opacity="0.22"/>
<polyline points="61.6,548.2 68.1,566.3 74.1,582.0 80.8,595.2 87.3,612.1 93.4,631.4 99.9,651.8 106.6,642.2 113.1,633.8 119.9,639.1 125.9,633.8 132.4,633.3 138.6,634.2 145.1,635.0 151.2,622.9 157.9,624.1 164.4,625.3 170.4,622.9 176.5,619.8 183.7,614.5 189.7,612.1 196.5,615.0 203.0,614.5 209.0,619.3" fill="none" stroke="#8ed3ad" stroke-width="1.3" stroke-linejoin="round"/>
<polyline points="61.6,545.1 68.1,561.5 74.1,580.8 80.8,602.4 87.3,624.1 93.4,648.2 99.9,667.0 106.6,660.3 113.1,656.6 119.9,651.8 125.9,648.2 132.4,645.8 138.6,636.2 145.1,626.5 151.2,618.1 157.9,612.1 164.4,602.4 170.4,596.4 176.5,590.4 183.7,580.8 189.7,572.3 196.5,561.0 203.0,557.2 209.0,558.1" fill="none" stroke="#4bb2cd" stroke-width="1.3" stroke-linejoin="round"/>
<polyline points="61.6,543.4 68.1,559.1 74.1,578.4 80.8,600.0 87.3,624.1 93.4,650.6 99.9,672.8 106.6,671.8 113.1,670.4 119.9,670.4 125.9,668.2 132.4,667.0 138.6,655.4 145.1,645.8 151.2,633.8 157.9,622.9 164.4,614.5 170.4,608.5 176.5,606.1 183.7,598.8 189.7,594.7 196.5,590.4 203.0,585.1 209.0,586.1" fill="none" stroke="#2a6db0" stroke-width="1.3" stroke-linejoin="round"/>
<text x="206.5" y="671.5" font-size="11.2" text-anchor="end" fill="#8ed3ad" font-weight="bold">4 wks</text>
<text x="206.5" y="683.6" font-size="11.2" text-anchor="end" fill="#4bb2cd" font-weight="bold">8 wks</text>
<text x="206.5" y="696.0" font-size="11.2" text-anchor="end" fill="#2a6db0" font-weight="bold">12 wks</text>
<line x1="303.2" y1="540.4" x2="303.2" y2="703.3" stroke="#555" stroke-width="1.1"/>
<line x1="300.7" y1="703.3" x2="303.2" y2="703.3" stroke="#555" stroke-width="1.1"/>
<text x="294.2" y="707.2" font-size="11" text-anchor="end" fill="#4d4d4d" stroke="#4d4d4d" stroke-width="0.22">0</text>
<line x1="300.7" y1="662.6" x2="303.2" y2="662.6" stroke="#555" stroke-width="1.1"/>
<text x="294.2" y="666.5" font-size="11" text-anchor="end" fill="#4d4d4d" stroke="#4d4d4d" stroke-width="0.22">150</text>
<line x1="300.7" y1="621.8" x2="303.2" y2="621.8" stroke="#555" stroke-width="1.1"/>
<text x="294.2" y="625.7" font-size="11" text-anchor="end" fill="#4d4d4d" stroke="#4d4d4d" stroke-width="0.22">300</text>
<line x1="300.7" y1="581.1" x2="303.2" y2="581.1" stroke="#555" stroke-width="1.1"/>
<text x="294.2" y="585.0" font-size="11" text-anchor="end" fill="#4d4d4d" stroke="#4d4d4d" stroke-width="0.22">450</text>
<line x1="300.7" y1="540.4" x2="303.2" y2="540.4" stroke="#555" stroke-width="1.1"/>
<text x="294.2" y="544.3" font-size="11" text-anchor="end" fill="#4d4d4d" stroke="#4d4d4d" stroke-width="0.22">600</text>
<line x1="303.2" y1="703.3" x2="345.9" y2="703.3" stroke="#555" stroke-width="1.1"/>
<line x1="362.7" y1="703.3" x2="405.4" y2="703.3" stroke="#555" stroke-width="1.1"/>
<line x1="420.6" y1="703.3" x2="463.7" y2="703.3" stroke="#555" stroke-width="1.1"/>
<line x1="315.7" y1="703.3" x2="315.7" y2="705.8" stroke="#555" stroke-width="1.1"/>
<line x1="334.8" y1="703.3" x2="334.8" y2="705.8" stroke="#555" stroke-width="1.1"/>
<line x1="315.7" y1="609.6" x2="315.7" y2="614.2" stroke="#c9c9c9" stroke-width="1.2"/>
<line x1="315.7" y1="629.5" x2="315.7" y2="621.3" stroke="#c9c9c9" stroke-width="1.2"/>
<rect x="310.9" y="614.2" width="9.5" height="7.1" fill="none" stroke="#c9c9c9" stroke-width="1.2"/>
<line x1="310.9" y1="617.8" x2="320.4" y2="617.8" stroke="#c9c9c9" stroke-width="1.2"/>
<line x1="334.8" y1="604.2" x2="334.8" y2="610.2" stroke="#c9c9c9" stroke-width="1.2"/>
<line x1="334.8" y1="624.0" x2="334.8" y2="617.0" stroke="#c9c9c9" stroke-width="1.2"/>
<rect x="330.1" y="610.2" width="9.5" height="6.8" fill="none" stroke="#c9c9c9" stroke-width="1.2"/>
<line x1="330.1" y1="613.7" x2="339.6" y2="613.7" stroke="#c9c9c9" stroke-width="1.2"/>
<line x1="315.7" y1="609.6" x2="334.8" y2="615.9" stroke="#8ed3ad" stroke-width="1.1"/>
<line x1="315.7" y1="611.5" x2="334.8" y2="615.1" stroke="#8ed3ad" stroke-width="1.1"/>
<line x1="315.7" y1="613.2" x2="334.8" y2="613.7" stroke="#8ed3ad" stroke-width="1.1"/>
<line x1="315.7" y1="614.2" x2="334.8" y2="596.9" stroke="#8ed3ad" stroke-width="1.1"/>
<line x1="315.7" y1="615.9" x2="334.8" y2="613.2" stroke="#8ed3ad" stroke-width="1.1"/>
<line x1="315.7" y1="617.0" x2="334.8" y2="609.6" stroke="#8ed3ad" stroke-width="1.1"/>
<line x1="315.7" y1="617.8" x2="334.8" y2="604.2" stroke="#8ed3ad" stroke-width="1.1"/>
<line x1="315.7" y1="619.1" x2="334.8" y2="611.5" stroke="#8ed3ad" stroke-width="1.1"/>
<line x1="315.7" y1="620.5" x2="334.8" y2="624.0" stroke="#8ed3ad" stroke-width="1.1"/>
<line x1="315.7" y1="621.8" x2="334.8" y2="612.3" stroke="#8ed3ad" stroke-width="1.1"/>
<line x1="315.7" y1="623.2" x2="334.8" y2="621.8" stroke="#8ed3ad" stroke-width="1.1"/>
<line x1="315.7" y1="624.6" x2="334.8" y2="617.0" stroke="#8ed3ad" stroke-width="1.1"/>
<line x1="315.7" y1="626.7" x2="334.8" y2="618.6" stroke="#8ed3ad" stroke-width="1.1"/>
<line x1="315.7" y1="629.5" x2="334.8" y2="608.3" stroke="#8ed3ad" stroke-width="1.1"/>
<circle cx="315.7" cy="609.6" r="3.1" fill="#8ed3ad"/>
<circle cx="315.7" cy="611.5" r="3.1" fill="#8ed3ad"/>
<circle cx="315.7" cy="613.2" r="3.1" fill="#8ed3ad"/>
<circle cx="315.7" cy="614.2" r="3.1" fill="#8ed3ad"/>
<circle cx="315.7" cy="615.9" r="3.1" fill="#8ed3ad"/>
<circle cx="315.7" cy="617.0" r="3.1" fill="#8ed3ad"/>
<circle cx="315.7" cy="617.8" r="3.1" fill="#8ed3ad"/>
<circle cx="315.7" cy="619.1" r="3.1" fill="#8ed3ad"/>
<circle cx="315.7" cy="620.5" r="3.1" fill="#8ed3ad"/>
<circle cx="315.7" cy="621.8" r="3.1" fill="#8ed3ad"/>
<circle cx="315.7" cy="623.2" r="3.1" fill="#8ed3ad"/>
<circle cx="315.7" cy="624.6" r="3.1" fill="#8ed3ad"/>
<circle cx="315.7" cy="626.7" r="3.1" fill="#8ed3ad"/>
<circle cx="315.7" cy="629.5" r="3.1" fill="#8ed3ad"/>
<circle cx="334.8" cy="615.9" r="3.1" fill="#8ed3ad"/>
<circle cx="334.8" cy="615.1" r="3.1" fill="#8ed3ad"/>
<circle cx="334.8" cy="613.7" r="3.1" fill="#8ed3ad"/>
<circle cx="334.8" cy="596.9" r="3.1" fill="#8ed3ad"/>
<circle cx="334.8" cy="613.2" r="3.1" fill="#8ed3ad"/>
<circle cx="334.8" cy="609.6" r="3.1" fill="#8ed3ad"/>
<circle cx="334.8" cy="604.2" r="3.1" fill="#8ed3ad"/>
<circle cx="334.8" cy="611.5" r="3.1" fill="#8ed3ad"/>
<circle cx="334.8" cy="624.0" r="3.1" fill="#8ed3ad"/>
<circle cx="334.8" cy="612.3" r="3.1" fill="#8ed3ad"/>
<circle cx="334.8" cy="621.8" r="3.1" fill="#8ed3ad"/>
<circle cx="334.8" cy="617.0" r="3.1" fill="#8ed3ad"/>
<circle cx="334.8" cy="618.6" r="3.1" fill="#8ed3ad"/>
<circle cx="334.8" cy="608.3" r="3.1" fill="#8ed3ad"/>
<text x="320.7" y="717.3" font-size="11.2" text-anchor="end" fill="#333" transform="rotate(-45 320.7 717.3)" stroke="#333" stroke-width="0.22">Basal</text>
<text x="337.5" y="717.3" font-size="11.2" text-anchor="end" fill="#333" transform="rotate(-45 337.5 717.3)" stroke="#333" stroke-width="0.22">SD</text>
<path d="M313.4,532.4 L313.4,530.2 L337.1,530.2 L337.1,532.4" fill="none" stroke="#888" stroke-width="1.1"/>
<text x="326.1" y="524.0" font-size="11" text-anchor="middle" fill="#222" stroke="#222" stroke-width="0.22">0.054</text>
<line x1="373.8" y1="703.3" x2="373.8" y2="705.8" stroke="#555" stroke-width="1.1"/>
<line x1="393.6" y1="703.3" x2="393.6" y2="705.8" stroke="#555" stroke-width="1.1"/>
<line x1="373.8" y1="625.9" x2="373.8" y2="636.0" stroke="#c9c9c9" stroke-width="1.2"/>
<line x1="373.8" y1="652.8" x2="373.8" y2="643.0" stroke="#c9c9c9" stroke-width="1.2"/>
<rect x="369.1" y="636.0" width="9.5" height="7.1" fill="none" stroke="#c9c9c9" stroke-width="1.2"/>
<line x1="369.1" y1="639.2" x2="378.6" y2="639.2" stroke="#c9c9c9" stroke-width="1.2"/>
<line x1="393.6" y1="587.9" x2="393.6" y2="595.2" stroke="#c9c9c9" stroke-width="1.2"/>
<line x1="393.6" y1="627.3" x2="393.6" y2="609.6" stroke="#c9c9c9" stroke-width="1.2"/>
<rect x="388.9" y="595.2" width="9.5" height="14.4" fill="none" stroke="#c9c9c9" stroke-width="1.2"/>
<line x1="388.9" y1="604.2" x2="398.4" y2="604.2" stroke="#c9c9c9" stroke-width="1.2"/>
<line x1="373.8" y1="625.9" x2="393.6" y2="598.8" stroke="#4bb2cd" stroke-width="1.1"/>
<line x1="373.8" y1="627.8" x2="393.6" y2="587.9" stroke="#4bb2cd" stroke-width="1.1"/>
<line x1="373.8" y1="630.0" x2="393.6" y2="596.9" stroke="#4bb2cd" stroke-width="1.1"/>
<line x1="373.8" y1="632.2" x2="393.6" y2="602.3" stroke="#4bb2cd" stroke-width="1.1"/>
<line x1="373.8" y1="634.1" x2="393.6" y2="589.8" stroke="#4bb2cd" stroke-width="1.1"/>
<line x1="373.8" y1="635.4" x2="393.6" y2="609.6" stroke="#4bb2cd" stroke-width="1.1"/>
<line x1="373.8" y1="636.5" x2="393.6" y2="625.1" stroke="#4bb2cd" stroke-width="1.1"/>
<line x1="373.8" y1="638.1" x2="393.6" y2="605.6" stroke="#4bb2cd" stroke-width="1.1"/>
<line x1="373.8" y1="639.5" x2="393.6" y2="603.4" stroke="#4bb2cd" stroke-width="1.1"/>
<line x1="373.8" y1="640.9" x2="393.6" y2="600.7" stroke="#4bb2cd" stroke-width="1.1"/>
<line x1="373.8" y1="642.2" x2="393.6" y2="627.3" stroke="#4bb2cd" stroke-width="1.1"/>
<line x1="373.8" y1="644.9" x2="393.6" y2="594.7" stroke="#4bb2cd" stroke-width="1.1"/>
<line x1="373.8" y1="647.6" x2="393.6" y2="607.7" stroke="#4bb2cd" stroke-width="1.1"/>
<line x1="373.8" y1="652.8" x2="393.6" y2="592.0" stroke="#4bb2cd" stroke-width="1.1"/>
<circle cx="373.8" cy="625.9" r="3.1" fill="#4bb2cd"/>
<circle cx="373.8" cy="627.8" r="3.1" fill="#4bb2cd"/>
<circle cx="373.8" cy="630.0" r="3.1" fill="#4bb2cd"/>
<circle cx="373.8" cy="632.2" r="3.1" fill="#4bb2cd"/>
<circle cx="373.8" cy="634.1" r="3.1" fill="#4bb2cd"/>
<circle cx="373.8" cy="635.4" r="3.1" fill="#4bb2cd"/>
<circle cx="373.8" cy="636.5" r="3.1" fill="#4bb2cd"/>
<circle cx="373.8" cy="638.1" r="3.1" fill="#4bb2cd"/>
<circle cx="373.8" cy="639.5" r="3.1" fill="#4bb2cd"/>
<circle cx="373.8" cy="640.9" r="3.1" fill="#4bb2cd"/>
<circle cx="373.8" cy="642.2" r="3.1" fill="#4bb2cd"/>
<circle cx="373.8" cy="644.9" r="3.1" fill="#4bb2cd"/>
<circle cx="373.8" cy="647.6" r="3.1" fill="#4bb2cd"/>
<circle cx="373.8" cy="652.8" r="3.1" fill="#4bb2cd"/>
<circle cx="393.6" cy="598.8" r="3.1" fill="#4bb2cd"/>
<circle cx="393.6" cy="587.9" r="3.1" fill="#4bb2cd"/>
<circle cx="393.6" cy="596.9" r="3.1" fill="#4bb2cd"/>
<circle cx="393.6" cy="602.3" r="3.1" fill="#4bb2cd"/>
<circle cx="393.6" cy="589.8" r="3.1" fill="#4bb2cd"/>
<circle cx="393.6" cy="609.6" r="3.1" fill="#4bb2cd"/>
<circle cx="393.6" cy="625.1" r="3.1" fill="#4bb2cd"/>
<circle cx="393.6" cy="605.6" r="3.1" fill="#4bb2cd"/>
<circle cx="393.6" cy="603.4" r="3.1" fill="#4bb2cd"/>
<circle cx="393.6" cy="600.7" r="3.1" fill="#4bb2cd"/>
<circle cx="393.6" cy="627.3" r="3.1" fill="#4bb2cd"/>
<circle cx="393.6" cy="594.7" r="3.1" fill="#4bb2cd"/>
<circle cx="393.6" cy="607.7" r="3.1" fill="#4bb2cd"/>
<circle cx="393.6" cy="592.0" r="3.1" fill="#4bb2cd"/>
<text x="378.8" y="717.3" font-size="11.2" text-anchor="end" fill="#333" transform="rotate(-45 378.8 717.3)" stroke="#333" stroke-width="0.22">Basal</text>
<text x="396.3" y="717.3" font-size="11.2" text-anchor="end" fill="#333" transform="rotate(-45 396.3 717.3)" stroke="#333" stroke-width="0.22">SD</text>
<path d="M371.5,532.4 L371.5,530.2 L395.9,530.2 L395.9,532.4" fill="none" stroke="#888" stroke-width="1.1"/>
<text x="384.5" y="524.0" font-size="11" text-anchor="middle" fill="#222" stroke="#222" stroke-width="0.22">1.3 × 10<tspan dy="-4" font-size="7.5">-7</tspan></text>
<line x1="432.6" y1="703.3" x2="432.6" y2="705.8" stroke="#555" stroke-width="1.1"/>
<line x1="452.4" y1="703.3" x2="452.4" y2="705.8" stroke="#555" stroke-width="1.1"/>
<line x1="432.6" y1="621.3" x2="432.6" y2="624.6" stroke="#c9c9c9" stroke-width="1.2"/>
<line x1="432.6" y1="640.3" x2="432.6" y2="634.1" stroke="#c9c9c9" stroke-width="1.2"/>
<rect x="427.9" y="624.6" width="9.5" height="9.5" fill="none" stroke="#c9c9c9" stroke-width="1.2"/>
<line x1="427.9" y1="629.5" x2="437.4" y2="629.5" stroke="#c9c9c9" stroke-width="1.2"/>
<line x1="452.4" y1="586.6" x2="452.4" y2="594.7" stroke="#c9c9c9" stroke-width="1.2"/>
<line x1="452.4" y1="610.4" x2="452.4" y2="601.2" stroke="#c9c9c9" stroke-width="1.2"/>
<rect x="447.6" y="594.7" width="9.5" height="6.5" fill="none" stroke="#c9c9c9" stroke-width="1.2"/>
<line x1="447.6" y1="598.0" x2="457.1" y2="598.0" stroke="#c9c9c9" stroke-width="1.2"/>
<line x1="432.6" y1="621.3" x2="452.4" y2="586.6" stroke="#2a6db0" stroke-width="1.1"/>
<line x1="432.6" y1="622.4" x2="452.4" y2="587.9" stroke="#2a6db0" stroke-width="1.1"/>
<line x1="432.6" y1="623.2" x2="452.4" y2="589.3" stroke="#2a6db0" stroke-width="1.1"/>
<line x1="432.6" y1="624.6" x2="452.4" y2="590.6" stroke="#2a6db0" stroke-width="1.1"/>
<line x1="432.6" y1="625.9" x2="452.4" y2="592.0" stroke="#2a6db0" stroke-width="1.1"/>
<line x1="432.6" y1="627.3" x2="452.4" y2="593.6" stroke="#2a6db0" stroke-width="1.1"/>
<line x1="432.6" y1="628.6" x2="452.4" y2="595.2" stroke="#2a6db0" stroke-width="1.1"/>
<line x1="432.6" y1="630.0" x2="452.4" y2="596.9" stroke="#2a6db0" stroke-width="1.1"/>
<line x1="432.6" y1="632.2" x2="452.4" y2="598.0" stroke="#2a6db0" stroke-width="1.1"/>
<line x1="432.6" y1="634.1" x2="452.4" y2="600.1" stroke="#2a6db0" stroke-width="1.1"/>
<line x1="432.6" y1="636.0" x2="452.4" y2="602.3" stroke="#2a6db0" stroke-width="1.1"/>
<line x1="432.6" y1="638.1" x2="452.4" y2="604.2" stroke="#2a6db0" stroke-width="1.1"/>
<line x1="432.6" y1="640.3" x2="452.4" y2="609.6" stroke="#2a6db0" stroke-width="1.1"/>
<line x1="432.6" y1="654.4" x2="452.4" y2="610.4" stroke="#2a6db0" stroke-width="1.1"/>
<circle cx="432.6" cy="621.3" r="3.1" fill="#2a6db0"/>
<circle cx="432.6" cy="622.4" r="3.1" fill="#2a6db0"/>
<circle cx="432.6" cy="623.2" r="3.1" fill="#2a6db0"/>
<circle cx="432.6" cy="624.6" r="3.1" fill="#2a6db0"/>
<circle cx="432.6" cy="625.9" r="3.1" fill="#2a6db0"/>
<circle cx="432.6" cy="627.3" r="3.1" fill="#2a6db0"/>
<circle cx="432.6" cy="628.6" r="3.1" fill="#2a6db0"/>
<circle cx="432.6" cy="630.0" r="3.1" fill="#2a6db0"/>
<circle cx="432.6" cy="632.2" r="3.1" fill="#2a6db0"/>
<circle cx="432.6" cy="634.1" r="3.1" fill="#2a6db0"/>
<circle cx="432.6" cy="636.0" r="3.1" fill="#2a6db0"/>
<circle cx="432.6" cy="638.1" r="3.1" fill="#2a6db0"/>
<circle cx="432.6" cy="640.3" r="3.1" fill="#2a6db0"/>
<circle cx="432.6" cy="654.4" r="3.1" fill="#2a6db0"/>
<circle cx="452.4" cy="586.6" r="3.1" fill="#2a6db0"/>
<circle cx="452.4" cy="587.9" r="3.1" fill="#2a6db0"/>
<circle cx="452.4" cy="589.3" r="3.1" fill="#2a6db0"/>
<circle cx="452.4" cy="590.6" r="3.1" fill="#2a6db0"/>
<circle cx="452.4" cy="592.0" r="3.1" fill="#2a6db0"/>
<circle cx="452.4" cy="593.6" r="3.1" fill="#2a6db0"/>
<circle cx="452.4" cy="595.2" r="3.1" fill="#2a6db0"/>
<circle cx="452.4" cy="596.9" r="3.1" fill="#2a6db0"/>
<circle cx="452.4" cy="598.0" r="3.1" fill="#2a6db0"/>
<circle cx="452.4" cy="600.1" r="3.1" fill="#2a6db0"/>
<circle cx="452.4" cy="602.3" r="3.1" fill="#2a6db0"/>
<circle cx="452.4" cy="604.2" r="3.1" fill="#2a6db0"/>
<circle cx="452.4" cy="609.6" r="3.1" fill="#2a6db0"/>
<circle cx="452.4" cy="610.4" r="3.1" fill="#2a6db0"/>
<text x="437.6" y="717.3" font-size="11.2" text-anchor="end" fill="#333" transform="rotate(-45 437.6 717.3)" stroke="#333" stroke-width="0.22">Basal</text>
<text x="455.1" y="717.3" font-size="11.2" text-anchor="end" fill="#333" transform="rotate(-45 455.1 717.3)" stroke="#333" stroke-width="0.22">SD</text>
<path d="M430.3,532.4 L430.3,530.2 L454.7,530.2 L454.7,532.4" fill="none" stroke="#888" stroke-width="1.1"/>
<text x="443.3" y="524.0" font-size="11" text-anchor="middle" fill="#222" stroke="#222" stroke-width="0.22">7.5 × 10<tspan dy="-4" font-size="7.5">-9</tspan></text>
<text x="261.9" y="621.0" font-size="11" text-anchor="middle" fill="#111" transform="rotate(-90 261.9 621.0)" stroke="#111" stroke-width="0.22">Sleep duration (min)</text>
<text x="246.0" y="522.0" font-size="22" text-anchor="start" fill="#1a1a1a" font-weight="bold">h</text>
<text x="281.4" y="524.0" font-size="11" text-anchor="start" fill="#222" stroke="#222" stroke-width="0.22"><tspan font-style="italic">P</tspan> =</text>
<text x="500.0" y="521.9" font-size="22" text-anchor="start" fill="#1a1a1a" font-weight="bold">i</text>
<text x="518.9" y="521.7" font-size="11" text-anchor="start" fill="#111" stroke="#111" stroke-width="0.22"><tspan>Adj. </tspan><tspan font-style="italic">P</tspan><tspan> =</tspan></text>
<line x1="547.8" y1="540.5" x2="547.8" y2="703.3" stroke="#555" stroke-width="1.1"/>
<line x1="545.3" y1="703.3" x2="547.8" y2="703.3" stroke="#555" stroke-width="1.1"/>
<text x="538.8" y="707.2" font-size="11" text-anchor="end" fill="#4d4d4d" stroke="#4d4d4d" stroke-width="0.22">0.5</text>
<line x1="545.3" y1="649.0" x2="547.8" y2="649.0" stroke="#555" stroke-width="1.1"/>
<text x="538.8" y="652.9" font-size="11" text-anchor="end" fill="#4d4d4d" stroke="#4d4d4d" stroke-width="0.22">1.0</text>
<line x1="545.3" y1="594.8" x2="547.8" y2="594.8" stroke="#555" stroke-width="1.1"/>
<text x="538.8" y="598.7" font-size="11" text-anchor="end" fill="#4d4d4d" stroke="#4d4d4d" stroke-width="0.22">1.5</text>
<line x1="545.3" y1="540.5" x2="547.8" y2="540.5" stroke="#555" stroke-width="1.1"/>
<text x="538.8" y="544.4" font-size="11" text-anchor="end" fill="#4d4d4d" stroke="#4d4d4d" stroke-width="0.22">2.0</text>
<line x1="547.8" y1="703.3" x2="670.7" y2="703.3" stroke="#555" stroke-width="1.1"/>
<line x1="570.8" y1="703.3" x2="570.8" y2="705.8" stroke="#555" stroke-width="1.1"/>
<line x1="609.4" y1="703.3" x2="609.4" y2="705.8" stroke="#555" stroke-width="1.1"/>
<line x1="648.0" y1="703.3" x2="648.0" y2="705.8" stroke="#555" stroke-width="1.1"/>
<polyline points="570.8,616.5 609.4,563.3 648.0,608.9" fill="none" stroke="#b4b4b4" stroke-width="0.75" stroke-linejoin="round"/>
<polyline points="570.8,630.6 609.4,559.0 648.0,605.6" fill="none" stroke="#b4b4b4" stroke-width="0.75" stroke-linejoin="round"/>
<polyline points="570.8,638.2 609.4,555.7 648.0,618.6" fill="none" stroke="#b4b4b4" stroke-width="0.75" stroke-linejoin="round"/>
<polyline points="570.8,640.4 609.4,593.7 648.0,614.3" fill="none" stroke="#b4b4b4" stroke-width="0.75" stroke-linejoin="round"/>
<polyline points="570.8,641.4 609.4,612.1 648.0,548.1" fill="none" stroke="#b4b4b4" stroke-width="0.75" stroke-linejoin="round"/>
<polyline points="570.8,642.5 609.4,602.4 648.0,612.1" fill="none" stroke="#b4b4b4" stroke-width="0.75" stroke-linejoin="round"/>
<polyline points="570.8,643.6 609.4,561.1 648.0,583.9" fill="none" stroke="#b4b4b4" stroke-width="0.75" stroke-linejoin="round"/>
<polyline points="570.8,644.7 609.4,596.9 648.0,613.2" fill="none" stroke="#b4b4b4" stroke-width="0.75" stroke-linejoin="round"/>
<polyline points="570.8,646.9 609.4,599.1 648.0,624.1" fill="none" stroke="#b4b4b4" stroke-width="0.75" stroke-linejoin="round"/>
<polyline points="570.8,649.0 609.4,600.2 648.0,590.4" fill="none" stroke="#b4b4b4" stroke-width="0.75" stroke-linejoin="round"/>
<polyline points="570.8,651.2 609.4,552.4 648.0,610.0" fill="none" stroke="#b4b4b4" stroke-width="0.75" stroke-linejoin="round"/>
<polyline points="570.8,654.5 609.4,580.7 648.0,569.8" fill="none" stroke="#b4b4b4" stroke-width="0.75" stroke-linejoin="round"/>
<polyline points="570.8,656.6 609.4,621.9 648.0,616.5" fill="none" stroke="#b4b4b4" stroke-width="0.75" stroke-linejoin="round"/>
<line x1="570.8" y1="630.6" x2="570.8" y2="639.3" stroke="#c9c9c9" stroke-width="1.2"/>
<line x1="570.8" y1="656.6" x2="570.8" y2="647.9" stroke="#c9c9c9" stroke-width="1.2"/>
<rect x="561.3" y="639.3" width="19.0" height="8.7" fill="none" stroke="#c9c9c9" stroke-width="1.2"/>
<line x1="561.3" y1="642.5" x2="580.3" y2="642.5" stroke="#c9c9c9" stroke-width="1.2"/>
<line x1="609.4" y1="552.4" x2="609.4" y2="563.3" stroke="#c9c9c9" stroke-width="1.2"/>
<line x1="609.4" y1="621.9" x2="609.4" y2="603.4" stroke="#c9c9c9" stroke-width="1.2"/>
<rect x="599.9" y="563.3" width="19.0" height="40.2" fill="none" stroke="#c9c9c9" stroke-width="1.2"/>
<line x1="599.9" y1="595.9" x2="618.9" y2="595.9" stroke="#c9c9c9" stroke-width="1.2"/>
<line x1="648.0" y1="548.1" x2="648.0" y2="583.9" stroke="#c9c9c9" stroke-width="1.2"/>
<line x1="648.0" y1="624.1" x2="648.0" y2="614.3" stroke="#c9c9c9" stroke-width="1.2"/>
<rect x="638.5" y="583.9" width="19.0" height="30.4" fill="none" stroke="#c9c9c9" stroke-width="1.2"/>
<line x1="638.5" y1="610.0" x2="657.5" y2="610.0" stroke="#c9c9c9" stroke-width="1.2"/>
<circle cx="570.8" cy="616.5" r="3.3" fill="#8ed3ad"/>
<circle cx="570.8" cy="630.6" r="3.3" fill="#8ed3ad"/>
<circle cx="570.8" cy="638.2" r="3.3" fill="#8ed3ad"/>
<circle cx="570.8" cy="640.4" r="3.3" fill="#8ed3ad"/>
<circle cx="570.8" cy="641.4" r="3.3" fill="#8ed3ad"/>
<circle cx="570.8" cy="642.5" r="3.3" fill="#8ed3ad"/>
<circle cx="570.8" cy="643.6" r="3.3" fill="#8ed3ad"/>
<circle cx="570.8" cy="644.7" r="3.3" fill="#8ed3ad"/>
<circle cx="570.8" cy="646.9" r="3.3" fill="#8ed3ad"/>
<circle cx="570.8" cy="649.0" r="3.3" fill="#8ed3ad"/>
<circle cx="570.8" cy="651.2" r="3.3" fill="#8ed3ad"/>
<circle cx="570.8" cy="654.5" r="3.3" fill="#8ed3ad"/>
<circle cx="570.8" cy="656.6" r="3.3" fill="#8ed3ad"/>
<circle cx="609.4" cy="552.4" r="3.3" fill="#4bb2cd"/>
<circle cx="609.4" cy="555.7" r="3.3" fill="#4bb2cd"/>
<circle cx="609.4" cy="559.0" r="3.3" fill="#4bb2cd"/>
<circle cx="609.4" cy="561.1" r="3.3" fill="#4bb2cd"/>
<circle cx="609.4" cy="563.3" r="3.3" fill="#4bb2cd"/>
<circle cx="609.4" cy="580.7" r="3.3" fill="#4bb2cd"/>
<circle cx="609.4" cy="593.7" r="3.3" fill="#4bb2cd"/>
<circle cx="609.4" cy="596.9" r="3.3" fill="#4bb2cd"/>
<circle cx="609.4" cy="599.1" r="3.3" fill="#4bb2cd"/>
<circle cx="609.4" cy="602.4" r="3.3" fill="#4bb2cd"/>
<circle cx="609.4" cy="612.1" r="3.3" fill="#4bb2cd"/>
<circle cx="609.4" cy="621.9" r="3.3" fill="#4bb2cd"/>
<circle cx="609.4" cy="600.2" r="3.3" fill="#4bb2cd"/>
<circle cx="648.0" cy="548.1" r="3.3" fill="#2a6db0"/>
<circle cx="648.0" cy="569.8" r="3.3" fill="#2a6db0"/>
<circle cx="648.0" cy="583.9" r="3.3" fill="#2a6db0"/>
<circle cx="648.0" cy="590.4" r="3.3" fill="#2a6db0"/>
<circle cx="648.0" cy="605.6" r="3.3" fill="#2a6db0"/>
<circle cx="648.0" cy="608.9" r="3.3" fill="#2a6db0"/>
<circle cx="648.0" cy="612.1" r="3.3" fill="#2a6db0"/>
<circle cx="648.0" cy="614.3" r="3.3" fill="#2a6db0"/>
<circle cx="648.0" cy="616.5" r="3.3" fill="#2a6db0"/>
<circle cx="648.0" cy="618.6" r="3.3" fill="#2a6db0"/>
<circle cx="648.0" cy="624.1" r="3.3" fill="#2a6db0"/>
<circle cx="648.0" cy="610.0" r="3.3" fill="#2a6db0"/>
<circle cx="648.0" cy="613.2" r="3.3" fill="#2a6db0"/>
<text x="570.8" y="720.2" font-size="11" text-anchor="middle" fill="#4d4d4d" stroke="#4d4d4d" stroke-width="0.22">4</text>
<text x="609.4" y="720.2" font-size="11" text-anchor="middle" fill="#4d4d4d" stroke="#4d4d4d" stroke-width="0.22">8</text>
<text x="648.0" y="720.2" font-size="11" text-anchor="middle" fill="#4d4d4d" stroke="#4d4d4d" stroke-width="0.22">12</text>
<text x="609.4" y="734.5" font-size="11.4" text-anchor="middle" fill="#111" stroke="#111" stroke-width="0.22">Age (week)</text>
<text x="517.4" y="622.3" font-size="11" text-anchor="middle" fill="#111" transform="rotate(-90 517.4 622.3)" stroke="#111" stroke-width="0.22">Rebound ratio</text>
<path d="M570.8,516.1 L570.8,511.6 L648.0,511.6 L648.0,516.1" fill="none" stroke="#777" stroke-width="1.1"/>
<text x="610.7" y="508.8" font-size="10.6" text-anchor="middle" fill="#222" stroke="#222" stroke-width="0.22">5.4 × 10<tspan dy="-4" font-size="7.5">-5</tspan></text>
<path d="M570.8,535.8 L570.8,531.3 L607.6,531.3 L607.6,535.8" fill="none" stroke="#777" stroke-width="1.1"/>
<path d="M611.2,535.8 L611.2,531.3 L648.0,531.3 L648.0,535.8" fill="none" stroke="#777" stroke-width="1.1"/>
<text x="590.5" y="528.2" font-size="10.6" text-anchor="middle" fill="#222" stroke="#222" stroke-width="0.22">1.5 × 10<tspan dy="-4" font-size="7.5">-5</tspan></text>
<text x="630.0" y="528.2" font-size="10.6" text-anchor="middle" fill="#222" stroke="#222" stroke-width="0.22">0.68</text>
<line x1="52.7" y1="796.2" x2="52.7" y2="959.0" stroke="#555" stroke-width="1.1"/>
<line x1="50.2" y1="959.0" x2="52.7" y2="959.0" stroke="#555" stroke-width="1.1"/>
<text x="43.7" y="962.9" font-size="11" text-anchor="end" fill="#4d4d4d" stroke="#4d4d4d" stroke-width="0.22">0.00</text>
<line x1="50.2" y1="926.4" x2="52.7" y2="926.4" stroke="#555" stroke-width="1.1"/>
<text x="43.7" y="930.3" font-size="11" text-anchor="end" fill="#4d4d4d" stroke="#4d4d4d" stroke-width="0.22">0.02</text>
<line x1="50.2" y1="893.9" x2="52.7" y2="893.9" stroke="#555" stroke-width="1.1"/>
<text x="43.7" y="897.8" font-size="11" text-anchor="end" fill="#4d4d4d" stroke="#4d4d4d" stroke-width="0.22">0.04</text>
<line x1="50.2" y1="861.3" x2="52.7" y2="861.3" stroke="#555" stroke-width="1.1"/>
<text x="43.7" y="865.2" font-size="11" text-anchor="end" fill="#4d4d4d" stroke="#4d4d4d" stroke-width="0.22">0.06</text>
<line x1="50.2" y1="828.8" x2="52.7" y2="828.8" stroke="#555" stroke-width="1.1"/>
<text x="43.7" y="832.7" font-size="11" text-anchor="end" fill="#4d4d4d" stroke="#4d4d4d" stroke-width="0.22">0.08</text>
<line x1="50.2" y1="796.2" x2="52.7" y2="796.2" stroke="#555" stroke-width="1.1"/>
<text x="43.7" y="800.1" font-size="11" text-anchor="end" fill="#4d4d4d" stroke="#4d4d4d" stroke-width="0.22">0.10</text>
<line x1="52.7" y1="959.0" x2="95.5" y2="959.0" stroke="#555" stroke-width="1.1"/>
<line x1="110.8" y1="959.0" x2="153.1" y2="959.0" stroke="#555" stroke-width="1.1"/>
<line x1="167.9" y1="959.0" x2="210.2" y2="959.0" stroke="#555" stroke-width="1.1"/>
<line x1="64.8" y1="959.0" x2="64.8" y2="961.5" stroke="#555" stroke-width="1.1"/>
<line x1="84.0" y1="959.0" x2="84.0" y2="961.5" stroke="#555" stroke-width="1.1"/>
<line x1="64.8" y1="884.1" x2="64.8" y2="895.5" stroke="#c9c9c9" stroke-width="1.2"/>
<line x1="64.8" y1="924.8" x2="64.8" y2="911.8" stroke="#c9c9c9" stroke-width="1.2"/>
<rect x="60.0" y="895.5" width="9.5" height="16.3" fill="none" stroke="#c9c9c9" stroke-width="1.2"/>
<line x1="60.0" y1="903.6" x2="69.5" y2="903.6" stroke="#c9c9c9" stroke-width="1.2"/>
<line x1="84.0" y1="843.4" x2="84.0" y2="879.2" stroke="#c9c9c9" stroke-width="1.2"/>
<line x1="84.0" y1="928.1" x2="84.0" y2="906.9" stroke="#c9c9c9" stroke-width="1.2"/>
<rect x="79.2" y="879.2" width="9.5" height="27.7" fill="none" stroke="#c9c9c9" stroke-width="1.2"/>
<line x1="79.2" y1="893.9" x2="88.8" y2="893.9" stroke="#c9c9c9" stroke-width="1.2"/>
<line x1="64.8" y1="869.5" x2="84.0" y2="862.9" stroke="#8ed3ad" stroke-width="1.1"/>
<line x1="64.8" y1="884.1" x2="84.0" y2="879.2" stroke="#8ed3ad" stroke-width="1.1"/>
<line x1="64.8" y1="890.6" x2="84.0" y2="928.1" stroke="#8ed3ad" stroke-width="1.1"/>
<line x1="64.8" y1="895.5" x2="84.0" y2="918.3" stroke="#8ed3ad" stroke-width="1.1"/>
<line x1="64.8" y1="897.1" x2="84.0" y2="843.4" stroke="#8ed3ad" stroke-width="1.1"/>
<line x1="64.8" y1="900.4" x2="84.0" y2="905.3" stroke="#8ed3ad" stroke-width="1.1"/>
<line x1="64.8" y1="903.6" x2="84.0" y2="889.0" stroke="#8ed3ad" stroke-width="1.1"/>
<line x1="64.8" y1="908.5" x2="84.0" y2="900.4" stroke="#8ed3ad" stroke-width="1.1"/>
<line x1="64.8" y1="911.8" x2="84.0" y2="874.3" stroke="#8ed3ad" stroke-width="1.1"/>
<line x1="64.8" y1="918.3" x2="84.0" y2="897.1" stroke="#8ed3ad" stroke-width="1.1"/>
<line x1="64.8" y1="924.8" x2="84.0" y2="884.1" stroke="#8ed3ad" stroke-width="1.1"/>
<line x1="64.8" y1="905.3" x2="84.0" y2="924.8" stroke="#8ed3ad" stroke-width="1.1"/>
<line x1="64.8" y1="893.9" x2="84.0" y2="893.9" stroke="#8ed3ad" stroke-width="1.1"/>
<circle cx="64.8" cy="869.5" r="3.1" fill="#8ed3ad"/>
<circle cx="64.8" cy="884.1" r="3.1" fill="#8ed3ad"/>
<circle cx="64.8" cy="890.6" r="3.1" fill="#8ed3ad"/>
<circle cx="64.8" cy="895.5" r="3.1" fill="#8ed3ad"/>
<circle cx="64.8" cy="897.1" r="3.1" fill="#8ed3ad"/>
<circle cx="64.8" cy="900.4" r="3.1" fill="#8ed3ad"/>
<circle cx="64.8" cy="903.6" r="3.1" fill="#8ed3ad"/>
<circle cx="64.8" cy="908.5" r="3.1" fill="#8ed3ad"/>
<circle cx="64.8" cy="911.8" r="3.1" fill="#8ed3ad"/>
<circle cx="64.8" cy="918.3" r="3.1" fill="#8ed3ad"/>
<circle cx="64.8" cy="924.8" r="3.1" fill="#8ed3ad"/>
<circle cx="64.8" cy="905.3" r="3.1" fill="#8ed3ad"/>
<circle cx="64.8" cy="893.9" r="3.1" fill="#8ed3ad"/>
<circle cx="84.0" cy="862.9" r="3.1" fill="#8ed3ad"/>
<circle cx="84.0" cy="879.2" r="3.1" fill="#8ed3ad"/>
<circle cx="84.0" cy="928.1" r="3.1" fill="#8ed3ad"/>
<circle cx="84.0" cy="918.3" r="3.1" fill="#8ed3ad"/>
<circle cx="84.0" cy="843.4" r="3.1" fill="#8ed3ad"/>
<circle cx="84.0" cy="905.3" r="3.1" fill="#8ed3ad"/>
<circle cx="84.0" cy="889.0" r="3.1" fill="#8ed3ad"/>
<circle cx="84.0" cy="900.4" r="3.1" fill="#8ed3ad"/>
<circle cx="84.0" cy="874.3" r="3.1" fill="#8ed3ad"/>
<circle cx="84.0" cy="897.1" r="3.1" fill="#8ed3ad"/>
<circle cx="84.0" cy="884.1" r="3.1" fill="#8ed3ad"/>
<circle cx="84.0" cy="924.8" r="3.1" fill="#8ed3ad"/>
<circle cx="84.0" cy="893.9" r="3.1" fill="#8ed3ad"/>
<text x="69.8" y="973.0" font-size="11.2" text-anchor="end" fill="#333" transform="rotate(-45 69.8 973.0)" stroke="#333" stroke-width="0.22">Basal</text>
<text x="86.7" y="973.0" font-size="11.2" text-anchor="end" fill="#333" transform="rotate(-45 86.7 973.0)" stroke="#333" stroke-width="0.22">SD</text>
<path d="M62.5,787.7 L62.5,785.5 L86.3,785.5 L86.3,787.7" fill="none" stroke="#888" stroke-width="1.1"/>
<text x="75.2" y="779.3" font-size="11" text-anchor="middle" fill="#222" stroke="#222" stroke-width="0.22">0.38</text>
<line x1="122.6" y1="959.0" x2="122.6" y2="961.5" stroke="#555" stroke-width="1.1"/>
<line x1="141.7" y1="959.0" x2="141.7" y2="961.5" stroke="#555" stroke-width="1.1"/>
<line x1="122.6" y1="897.1" x2="122.6" y2="910.2" stroke="#c9c9c9" stroke-width="1.2"/>
<line x1="122.6" y1="929.7" x2="122.6" y2="921.6" stroke="#c9c9c9" stroke-width="1.2"/>
<rect x="117.8" y="910.2" width="9.5" height="11.4" fill="none" stroke="#c9c9c9" stroke-width="1.2"/>
<line x1="117.8" y1="915.0" x2="127.3" y2="915.0" stroke="#c9c9c9" stroke-width="1.2"/>
<line x1="141.7" y1="874.3" x2="141.7" y2="890.6" stroke="#c9c9c9" stroke-width="1.2"/>
<line x1="141.7" y1="908.5" x2="141.7" y2="902.0" stroke="#c9c9c9" stroke-width="1.2"/>
<rect x="136.9" y="890.6" width="9.5" height="11.4" fill="none" stroke="#c9c9c9" stroke-width="1.2"/>
<line x1="136.9" y1="897.1" x2="146.4" y2="897.1" stroke="#c9c9c9" stroke-width="1.2"/>
<line x1="122.6" y1="897.1" x2="141.7" y2="874.3" stroke="#4bb2cd" stroke-width="1.1"/>
<line x1="122.6" y1="906.9" x2="141.7" y2="885.7" stroke="#4bb2cd" stroke-width="1.1"/>
<line x1="122.6" y1="910.2" x2="141.7" y2="890.6" stroke="#4bb2cd" stroke-width="1.1"/>
<line x1="122.6" y1="911.8" x2="141.7" y2="892.3" stroke="#4bb2cd" stroke-width="1.1"/>
<line x1="122.6" y1="913.4" x2="141.7" y2="893.9" stroke="#4bb2cd" stroke-width="1.1"/>
<line x1="122.6" y1="915.0" x2="141.7" y2="895.5" stroke="#4bb2cd" stroke-width="1.1"/>
<line x1="122.6" y1="916.7" x2="141.7" y2="897.1" stroke="#4bb2cd" stroke-width="1.1"/>
<line x1="122.6" y1="918.3" x2="141.7" y2="898.8" stroke="#4bb2cd" stroke-width="1.1"/>
<line x1="122.6" y1="919.9" x2="141.7" y2="900.4" stroke="#4bb2cd" stroke-width="1.1"/>
<line x1="122.6" y1="923.2" x2="141.7" y2="902.0" stroke="#4bb2cd" stroke-width="1.1"/>
<line x1="122.6" y1="924.8" x2="141.7" y2="903.6" stroke="#4bb2cd" stroke-width="1.1"/>
<line x1="122.6" y1="928.1" x2="141.7" y2="905.3" stroke="#4bb2cd" stroke-width="1.1"/>
<line x1="122.6" y1="929.7" x2="141.7" y2="908.5" stroke="#4bb2cd" stroke-width="1.1"/>
<line x1="122.6" y1="908.5" x2="141.7" y2="889.0" stroke="#4bb2cd" stroke-width="1.1"/>
<circle cx="122.6" cy="897.1" r="3.1" fill="#4bb2cd"/>
<circle cx="122.6" cy="906.9" r="3.1" fill="#4bb2cd"/>
<circle cx="122.6" cy="910.2" r="3.1" fill="#4bb2cd"/>
<circle cx="122.6" cy="911.8" r="3.1" fill="#4bb2cd"/>
<circle cx="122.6" cy="913.4" r="3.1" fill="#4bb2cd"/>
<circle cx="122.6" cy="915.0" r="3.1" fill="#4bb2cd"/>
<circle cx="122.6" cy="916.7" r="3.1" fill="#4bb2cd"/>
<circle cx="122.6" cy="918.3" r="3.1" fill="#4bb2cd"/>
<circle cx="122.6" cy="919.9" r="3.1" fill="#4bb2cd"/>
<circle cx="122.6" cy="923.2" r="3.1" fill="#4bb2cd"/>
<circle cx="122.6" cy="924.8" r="3.1" fill="#4bb2cd"/>
<circle cx="122.6" cy="928.1" r="3.1" fill="#4bb2cd"/>
<circle cx="122.6" cy="929.7" r="3.1" fill="#4bb2cd"/>
<circle cx="122.6" cy="908.5" r="3.1" fill="#4bb2cd"/>
<circle cx="141.7" cy="874.3" r="3.1" fill="#4bb2cd"/>
<circle cx="141.7" cy="885.7" r="3.1" fill="#4bb2cd"/>
<circle cx="141.7" cy="890.6" r="3.1" fill="#4bb2cd"/>
<circle cx="141.7" cy="892.3" r="3.1" fill="#4bb2cd"/>
<circle cx="141.7" cy="893.9" r="3.1" fill="#4bb2cd"/>
<circle cx="141.7" cy="895.5" r="3.1" fill="#4bb2cd"/>
<circle cx="141.7" cy="897.1" r="3.1" fill="#4bb2cd"/>
<circle cx="141.7" cy="898.8" r="3.1" fill="#4bb2cd"/>
<circle cx="141.7" cy="900.4" r="3.1" fill="#4bb2cd"/>
<circle cx="141.7" cy="902.0" r="3.1" fill="#4bb2cd"/>
<circle cx="141.7" cy="903.6" r="3.1" fill="#4bb2cd"/>
<circle cx="141.7" cy="905.3" r="3.1" fill="#4bb2cd"/>
<circle cx="141.7" cy="908.5" r="3.1" fill="#4bb2cd"/>
<circle cx="141.7" cy="889.0" r="3.1" fill="#4bb2cd"/>
<text x="127.6" y="973.0" font-size="11.2" text-anchor="end" fill="#333" transform="rotate(-45 127.6 973.0)" stroke="#333" stroke-width="0.22">Basal</text>
<text x="144.4" y="973.0" font-size="11.2" text-anchor="end" fill="#333" transform="rotate(-45 144.4 973.0)" stroke="#333" stroke-width="0.22">SD</text>
<path d="M120.3,787.7 L120.3,785.5 L144.0,785.5 L144.0,787.7" fill="none" stroke="#888" stroke-width="1.1"/>
<text x="132.9" y="779.3" font-size="11" text-anchor="middle" fill="#222" stroke="#222" stroke-width="0.22">3.2 × 10<tspan dy="-4" font-size="7.5">-5</tspan></text>
<line x1="179.7" y1="959.0" x2="179.7" y2="961.5" stroke="#555" stroke-width="1.1"/>
<line x1="199.8" y1="959.0" x2="199.8" y2="961.5" stroke="#555" stroke-width="1.1"/>
<line x1="179.7" y1="890.6" x2="179.7" y2="902.0" stroke="#c9c9c9" stroke-width="1.2"/>
<line x1="179.7" y1="919.9" x2="179.7" y2="910.2" stroke="#c9c9c9" stroke-width="1.2"/>
<rect x="174.9" y="902.0" width="9.5" height="8.1" fill="none" stroke="#c9c9c9" stroke-width="1.2"/>
<line x1="174.9" y1="906.9" x2="184.4" y2="906.9" stroke="#c9c9c9" stroke-width="1.2"/>
<line x1="199.8" y1="861.3" x2="199.8" y2="880.9" stroke="#c9c9c9" stroke-width="1.2"/>
<line x1="199.8" y1="903.6" x2="199.8" y2="897.1" stroke="#c9c9c9" stroke-width="1.2"/>
<rect x="195.1" y="880.9" width="9.5" height="16.3" fill="none" stroke="#c9c9c9" stroke-width="1.2"/>
<line x1="195.1" y1="889.0" x2="204.6" y2="889.0" stroke="#c9c9c9" stroke-width="1.2"/>
<line x1="179.7" y1="874.3" x2="199.8" y2="877.6" stroke="#2a6db0" stroke-width="1.1"/>
<line x1="179.7" y1="890.6" x2="199.8" y2="884.1" stroke="#2a6db0" stroke-width="1.1"/>
<line x1="179.7" y1="898.8" x2="199.8" y2="903.6" stroke="#2a6db0" stroke-width="1.1"/>
<line x1="179.7" y1="900.4" x2="199.8" y2="876.0" stroke="#2a6db0" stroke-width="1.1"/>
<line x1="179.7" y1="902.0" x2="199.8" y2="893.9" stroke="#2a6db0" stroke-width="1.1"/>
<line x1="179.7" y1="903.6" x2="199.8" y2="887.4" stroke="#2a6db0" stroke-width="1.1"/>
<line x1="179.7" y1="905.3" x2="199.8" y2="889.0" stroke="#2a6db0" stroke-width="1.1"/>
<line x1="179.7" y1="906.9" x2="199.8" y2="892.3" stroke="#2a6db0" stroke-width="1.1"/>
<line x1="179.7" y1="908.5" x2="199.8" y2="897.1" stroke="#2a6db0" stroke-width="1.1"/>
<line x1="179.7" y1="910.2" x2="199.8" y2="900.4" stroke="#2a6db0" stroke-width="1.1"/>
<line x1="179.7" y1="911.8" x2="199.8" y2="861.3" stroke="#2a6db0" stroke-width="1.1"/>
<line x1="179.7" y1="913.4" x2="199.8" y2="880.9" stroke="#2a6db0" stroke-width="1.1"/>
<line x1="179.7" y1="918.3" x2="199.8" y2="872.7" stroke="#2a6db0" stroke-width="1.1"/>
<line x1="179.7" y1="919.9" x2="199.8" y2="885.7" stroke="#2a6db0" stroke-width="1.1"/>
<circle cx="179.7" cy="874.3" r="3.1" fill="#2a6db0"/>
<circle cx="179.7" cy="890.6" r="3.1" fill="#2a6db0"/>
<circle cx="179.7" cy="898.8" r="3.1" fill="#2a6db0"/>
<circle cx="179.7" cy="900.4" r="3.1" fill="#2a6db0"/>
<circle cx="179.7" cy="902.0" r="3.1" fill="#2a6db0"/>
<circle cx="179.7" cy="903.6" r="3.1" fill="#2a6db0"/>
<circle cx="179.7" cy="905.3" r="3.1" fill="#2a6db0"/>
<circle cx="179.7" cy="906.9" r="3.1" fill="#2a6db0"/>
<circle cx="179.7" cy="908.5" r="3.1" fill="#2a6db0"/>
<circle cx="179.7" cy="910.2" r="3.1" fill="#2a6db0"/>
<circle cx="179.7" cy="911.8" r="3.1" fill="#2a6db0"/>
<circle cx="179.7" cy="913.4" r="3.1" fill="#2a6db0"/>
<circle cx="179.7" cy="918.3" r="3.1" fill="#2a6db0"/>
<circle cx="179.7" cy="919.9" r="3.1" fill="#2a6db0"/>
<circle cx="199.8" cy="877.6" r="3.1" fill="#2a6db0"/>
<circle cx="199.8" cy="884.1" r="3.1" fill="#2a6db0"/>
<circle cx="199.8" cy="903.6" r="3.1" fill="#2a6db0"/>
<circle cx="199.8" cy="876.0" r="3.1" fill="#2a6db0"/>
<circle cx="199.8" cy="893.9" r="3.1" fill="#2a6db0"/>
<circle cx="199.8" cy="887.4" r="3.1" fill="#2a6db0"/>
<circle cx="199.8" cy="889.0" r="3.1" fill="#2a6db0"/>
<circle cx="199.8" cy="892.3" r="3.1" fill="#2a6db0"/>
<circle cx="199.8" cy="897.1" r="3.1" fill="#2a6db0"/>
<circle cx="199.8" cy="900.4" r="3.1" fill="#2a6db0"/>
<circle cx="199.8" cy="861.3" r="3.1" fill="#2a6db0"/>
<circle cx="199.8" cy="880.9" r="3.1" fill="#2a6db0"/>
<circle cx="199.8" cy="872.7" r="3.1" fill="#2a6db0"/>
<circle cx="199.8" cy="885.7" r="3.1" fill="#2a6db0"/>
<text x="184.7" y="973.0" font-size="11.2" text-anchor="end" fill="#333" transform="rotate(-45 184.7 973.0)" stroke="#333" stroke-width="0.22">Basal</text>
<text x="202.5" y="973.0" font-size="11.2" text-anchor="end" fill="#333" transform="rotate(-45 202.5 973.0)" stroke="#333" stroke-width="0.22">SD</text>
<path d="M177.4,787.7 L177.4,785.5 L202.1,785.5 L202.1,787.7" fill="none" stroke="#888" stroke-width="1.1"/>
<text x="190.6" y="779.3" font-size="11" text-anchor="middle" fill="#222" stroke="#222" stroke-width="0.22">3.0 × 10<tspan dy="-4" font-size="7.5">-3</tspan></text>
<text x="7.8" y="878.0" font-size="11" text-anchor="middle" fill="#111" transform="rotate(-90 7.8 878.0)" stroke="#111" stroke-width="0.22"><tspan font-style="italic">P</tspan><tspan font-size="10.5" dy="6">ws</tspan></text>
<text x="1.5" y="776.0" font-size="22" text-anchor="start" fill="#1a1a1a" font-weight="bold">j</text>
<text x="36.3" y="779.3" font-size="11" text-anchor="start" fill="#222" stroke="#222" stroke-width="0.22"><tspan font-style="italic">P</tspan> =</text>
<line x1="311.6" y1="796.2" x2="311.6" y2="959.4" stroke="#555" stroke-width="1.1"/>
<line x1="309.1" y1="959.4" x2="311.6" y2="959.4" stroke="#555" stroke-width="1.1"/>
<text x="302.6" y="963.3" font-size="11" text-anchor="end" fill="#4d4d4d" stroke="#4d4d4d" stroke-width="0.22">0.00</text>
<line x1="309.1" y1="918.6" x2="311.6" y2="918.6" stroke="#555" stroke-width="1.1"/>
<text x="302.6" y="922.5" font-size="11" text-anchor="end" fill="#4d4d4d" stroke="#4d4d4d" stroke-width="0.22">0.02</text>
<line x1="309.1" y1="877.8" x2="311.6" y2="877.8" stroke="#555" stroke-width="1.1"/>
<text x="302.6" y="881.7" font-size="11" text-anchor="end" fill="#4d4d4d" stroke="#4d4d4d" stroke-width="0.22">0.04</text>
<line x1="309.1" y1="837.0" x2="311.6" y2="837.0" stroke="#555" stroke-width="1.1"/>
<text x="302.6" y="840.9" font-size="11" text-anchor="end" fill="#4d4d4d" stroke="#4d4d4d" stroke-width="0.22">0.06</text>
<line x1="309.1" y1="796.2" x2="311.6" y2="796.2" stroke="#555" stroke-width="1.1"/>
<text x="302.6" y="800.1" font-size="11" text-anchor="end" fill="#4d4d4d" stroke="#4d4d4d" stroke-width="0.22">0.08</text>
<line x1="311.6" y1="959.4" x2="353.3" y2="959.4" stroke="#555" stroke-width="1.1"/>
<line x1="369.4" y1="959.4" x2="411.4" y2="959.4" stroke="#555" stroke-width="1.1"/>
<line x1="427.2" y1="959.4" x2="468.3" y2="959.4" stroke="#555" stroke-width="1.1"/>
<line x1="323.4" y1="959.4" x2="323.4" y2="961.9" stroke="#555" stroke-width="1.1"/>
<line x1="342.5" y1="959.4" x2="342.5" y2="961.9" stroke="#555" stroke-width="1.1"/>
<line x1="323.4" y1="883.9" x2="323.4" y2="890.0" stroke="#c9c9c9" stroke-width="1.2"/>
<line x1="323.4" y1="902.3" x2="323.4" y2="896.2" stroke="#c9c9c9" stroke-width="1.2"/>
<rect x="318.6" y="890.0" width="9.5" height="6.1" fill="none" stroke="#c9c9c9" stroke-width="1.2"/>
<line x1="318.6" y1="894.1" x2="328.1" y2="894.1" stroke="#c9c9c9" stroke-width="1.2"/>
<line x1="342.5" y1="871.7" x2="342.5" y2="883.9" stroke="#c9c9c9" stroke-width="1.2"/>
<line x1="342.5" y1="912.5" x2="342.5" y2="904.3" stroke="#c9c9c9" stroke-width="1.2"/>
<rect x="337.8" y="883.9" width="9.5" height="20.4" fill="none" stroke="#c9c9c9" stroke-width="1.2"/>
<line x1="337.8" y1="892.1" x2="347.2" y2="892.1" stroke="#c9c9c9" stroke-width="1.2"/>
<line x1="323.4" y1="849.2" x2="342.5" y2="888.0" stroke="#8ed3ad" stroke-width="1.1"/>
<line x1="323.4" y1="883.9" x2="342.5" y2="886.0" stroke="#8ed3ad" stroke-width="1.1"/>
<line x1="323.4" y1="886.0" x2="342.5" y2="908.4" stroke="#8ed3ad" stroke-width="1.1"/>
<line x1="323.4" y1="888.0" x2="342.5" y2="910.4" stroke="#8ed3ad" stroke-width="1.1"/>
<line x1="323.4" y1="890.0" x2="342.5" y2="912.5" stroke="#8ed3ad" stroke-width="1.1"/>
<line x1="323.4" y1="892.1" x2="342.5" y2="883.9" stroke="#8ed3ad" stroke-width="1.1"/>
<line x1="323.4" y1="894.1" x2="342.5" y2="900.2" stroke="#8ed3ad" stroke-width="1.1"/>
<line x1="323.4" y1="894.1" x2="342.5" y2="890.0" stroke="#8ed3ad" stroke-width="1.1"/>
<line x1="323.4" y1="896.2" x2="342.5" y2="898.2" stroke="#8ed3ad" stroke-width="1.1"/>
<line x1="323.4" y1="898.2" x2="342.5" y2="904.3" stroke="#8ed3ad" stroke-width="1.1"/>
<line x1="323.4" y1="900.2" x2="342.5" y2="892.1" stroke="#8ed3ad" stroke-width="1.1"/>
<line x1="323.4" y1="902.3" x2="342.5" y2="871.7" stroke="#8ed3ad" stroke-width="1.1"/>
<circle cx="323.4" cy="849.2" r="3.1" fill="#8ed3ad"/>
<circle cx="323.4" cy="883.9" r="3.1" fill="#8ed3ad"/>
<circle cx="323.4" cy="886.0" r="3.1" fill="#8ed3ad"/>
<circle cx="323.4" cy="888.0" r="3.1" fill="#8ed3ad"/>
<circle cx="323.4" cy="890.0" r="3.1" fill="#8ed3ad"/>
<circle cx="323.4" cy="892.1" r="3.1" fill="#8ed3ad"/>
<circle cx="323.4" cy="894.1" r="3.1" fill="#8ed3ad"/>
<circle cx="323.4" cy="894.1" r="3.1" fill="#8ed3ad"/>
<circle cx="323.4" cy="896.2" r="3.1" fill="#8ed3ad"/>
<circle cx="323.4" cy="898.2" r="3.1" fill="#8ed3ad"/>
<circle cx="323.4" cy="900.2" r="3.1" fill="#8ed3ad"/>
<circle cx="323.4" cy="902.3" r="3.1" fill="#8ed3ad"/>
<circle cx="342.5" cy="888.0" r="3.1" fill="#8ed3ad"/>
<circle cx="342.5" cy="886.0" r="3.1" fill="#8ed3ad"/>
<circle cx="342.5" cy="908.4" r="3.1" fill="#8ed3ad"/>
<circle cx="342.5" cy="910.4" r="3.1" fill="#8ed3ad"/>
<circle cx="342.5" cy="912.5" r="3.1" fill="#8ed3ad"/>
<circle cx="342.5" cy="883.9" r="3.1" fill="#8ed3ad"/>
<circle cx="342.5" cy="900.2" r="3.1" fill="#8ed3ad"/>
<circle cx="342.5" cy="890.0" r="3.1" fill="#8ed3ad"/>
<circle cx="342.5" cy="898.2" r="3.1" fill="#8ed3ad"/>
<circle cx="342.5" cy="904.3" r="3.1" fill="#8ed3ad"/>
<circle cx="342.5" cy="892.1" r="3.1" fill="#8ed3ad"/>
<circle cx="342.5" cy="871.7" r="3.1" fill="#8ed3ad"/>
<text x="328.4" y="973.4" font-size="11.2" text-anchor="end" fill="#333" transform="rotate(-45 328.4 973.4)" stroke="#333" stroke-width="0.22">Basal</text>
<text x="345.2" y="973.4" font-size="11.2" text-anchor="end" fill="#333" transform="rotate(-45 345.2 973.4)" stroke="#333" stroke-width="0.22">SD</text>
<path d="M321.1,787.9 L321.1,785.7 L344.8,785.7 L344.8,787.9" fill="none" stroke="#888" stroke-width="1.1"/>
<text x="333.8" y="779.3" font-size="11" text-anchor="middle" fill="#222" stroke="#222" stroke-width="0.22">0.57</text>
<line x1="380.5" y1="959.4" x2="380.5" y2="961.9" stroke="#555" stroke-width="1.1"/>
<line x1="400.3" y1="959.4" x2="400.3" y2="961.9" stroke="#555" stroke-width="1.1"/>
<line x1="380.5" y1="855.4" x2="380.5" y2="865.6" stroke="#c9c9c9" stroke-width="1.2"/>
<line x1="380.5" y1="908.4" x2="380.5" y2="883.9" stroke="#c9c9c9" stroke-width="1.2"/>
<rect x="375.8" y="865.6" width="9.5" height="18.4" fill="none" stroke="#c9c9c9" stroke-width="1.2"/>
<line x1="375.8" y1="875.8" x2="385.2" y2="875.8" stroke="#c9c9c9" stroke-width="1.2"/>
<line x1="400.3" y1="873.7" x2="400.3" y2="888.0" stroke="#c9c9c9" stroke-width="1.2"/>
<line x1="400.3" y1="918.6" x2="400.3" y2="902.3" stroke="#c9c9c9" stroke-width="1.2"/>
<rect x="395.6" y="888.0" width="9.5" height="14.3" fill="none" stroke="#c9c9c9" stroke-width="1.2"/>
<line x1="395.6" y1="896.2" x2="405.1" y2="896.2" stroke="#c9c9c9" stroke-width="1.2"/>
<line x1="380.5" y1="855.4" x2="400.3" y2="873.7" stroke="#4bb2cd" stroke-width="1.1"/>
<line x1="380.5" y1="857.4" x2="400.3" y2="881.9" stroke="#4bb2cd" stroke-width="1.1"/>
<line x1="380.5" y1="865.6" x2="400.3" y2="886.0" stroke="#4bb2cd" stroke-width="1.1"/>
<line x1="380.5" y1="869.6" x2="400.3" y2="888.0" stroke="#4bb2cd" stroke-width="1.1"/>
<line x1="380.5" y1="873.7" x2="400.3" y2="890.0" stroke="#4bb2cd" stroke-width="1.1"/>
<line x1="380.5" y1="875.8" x2="400.3" y2="892.1" stroke="#4bb2cd" stroke-width="1.1"/>
<line x1="380.5" y1="877.8" x2="400.3" y2="894.1" stroke="#4bb2cd" stroke-width="1.1"/>
<line x1="380.5" y1="879.8" x2="400.3" y2="896.2" stroke="#4bb2cd" stroke-width="1.1"/>
<line x1="380.5" y1="881.9" x2="400.3" y2="898.2" stroke="#4bb2cd" stroke-width="1.1"/>
<line x1="380.5" y1="883.9" x2="400.3" y2="900.2" stroke="#4bb2cd" stroke-width="1.1"/>
<line x1="380.5" y1="886.0" x2="400.3" y2="902.3" stroke="#4bb2cd" stroke-width="1.1"/>
<line x1="380.5" y1="888.0" x2="400.3" y2="906.4" stroke="#4bb2cd" stroke-width="1.1"/>
<line x1="380.5" y1="908.4" x2="400.3" y2="918.6" stroke="#4bb2cd" stroke-width="1.1"/>
<circle cx="380.5" cy="855.4" r="3.1" fill="#4bb2cd"/>
<circle cx="380.5" cy="857.4" r="3.1" fill="#4bb2cd"/>
<circle cx="380.5" cy="865.6" r="3.1" fill="#4bb2cd"/>
<circle cx="380.5" cy="869.6" r="3.1" fill="#4bb2cd"/>
<circle cx="380.5" cy="873.7" r="3.1" fill="#4bb2cd"/>
<circle cx="380.5" cy="875.8" r="3.1" fill="#4bb2cd"/>
<circle cx="380.5" cy="877.8" r="3.1" fill="#4bb2cd"/>
<circle cx="380.5" cy="879.8" r="3.1" fill="#4bb2cd"/>
<circle cx="380.5" cy="881.9" r="3.1" fill="#4bb2cd"/>
<circle cx="380.5" cy="883.9" r="3.1" fill="#4bb2cd"/>
<circle cx="380.5" cy="886.0" r="3.1" fill="#4bb2cd"/>
<circle cx="380.5" cy="888.0" r="3.1" fill="#4bb2cd"/>
<circle cx="380.5" cy="908.4" r="3.1" fill="#4bb2cd"/>
<circle cx="400.3" cy="873.7" r="3.1" fill="#4bb2cd"/>
<circle cx="400.3" cy="881.9" r="3.1" fill="#4bb2cd"/>
<circle cx="400.3" cy="886.0" r="3.1" fill="#4bb2cd"/>
<circle cx="400.3" cy="888.0" r="3.1" fill="#4bb2cd"/>
<circle cx="400.3" cy="890.0" r="3.1" fill="#4bb2cd"/>
<circle cx="400.3" cy="892.1" r="3.1" fill="#4bb2cd"/>
<circle cx="400.3" cy="894.1" r="3.1" fill="#4bb2cd"/>
<circle cx="400.3" cy="896.2" r="3.1" fill="#4bb2cd"/>
<circle cx="400.3" cy="898.2" r="3.1" fill="#4bb2cd"/>
<circle cx="400.3" cy="900.2" r="3.1" fill="#4bb2cd"/>
<circle cx="400.3" cy="902.3" r="3.1" fill="#4bb2cd"/>
<circle cx="400.3" cy="906.4" r="3.1" fill="#4bb2cd"/>
<circle cx="400.3" cy="918.6" r="3.1" fill="#4bb2cd"/>
<text x="385.5" y="973.4" font-size="11.2" text-anchor="end" fill="#333" transform="rotate(-45 385.5 973.4)" stroke="#333" stroke-width="0.22">Basal</text>
<text x="403.0" y="973.4" font-size="11.2" text-anchor="end" fill="#333" transform="rotate(-45 403.0 973.4)" stroke="#333" stroke-width="0.22">SD</text>
<path d="M378.2,787.9 L378.2,785.7 L402.6,785.7 L402.6,787.9" fill="none" stroke="#888" stroke-width="1.1"/>
<text x="391.2" y="779.3" font-size="11" text-anchor="middle" fill="#222" stroke="#222" stroke-width="0.22">1.5 × 10<tspan dy="-4" font-size="7.5">-3</tspan></text>
<line x1="438.9" y1="959.4" x2="438.9" y2="961.9" stroke="#555" stroke-width="1.1"/>
<line x1="457.8" y1="959.4" x2="457.8" y2="961.9" stroke="#555" stroke-width="1.1"/>
<line x1="438.9" y1="855.4" x2="438.9" y2="869.6" stroke="#c9c9c9" stroke-width="1.2"/>
<line x1="438.9" y1="890.0" x2="438.9" y2="883.9" stroke="#c9c9c9" stroke-width="1.2"/>
<rect x="434.1" y="869.6" width="9.5" height="14.3" fill="none" stroke="#c9c9c9" stroke-width="1.2"/>
<line x1="434.1" y1="879.8" x2="443.6" y2="879.8" stroke="#c9c9c9" stroke-width="1.2"/>
<line x1="457.8" y1="845.2" x2="457.8" y2="875.8" stroke="#c9c9c9" stroke-width="1.2"/>
<line x1="457.8" y1="904.3" x2="457.8" y2="900.2" stroke="#c9c9c9" stroke-width="1.2"/>
<rect x="453.1" y="875.8" width="9.5" height="24.5" fill="none" stroke="#c9c9c9" stroke-width="1.2"/>
<line x1="453.1" y1="883.9" x2="462.6" y2="883.9" stroke="#c9c9c9" stroke-width="1.2"/>
<line x1="438.9" y1="855.4" x2="457.8" y2="902.3" stroke="#2a6db0" stroke-width="1.1"/>
<line x1="438.9" y1="857.4" x2="457.8" y2="904.3" stroke="#2a6db0" stroke-width="1.1"/>
<line x1="438.9" y1="871.7" x2="457.8" y2="875.8" stroke="#2a6db0" stroke-width="1.1"/>
<line x1="438.9" y1="875.8" x2="457.8" y2="881.9" stroke="#2a6db0" stroke-width="1.1"/>
<line x1="438.9" y1="877.8" x2="457.8" y2="879.8" stroke="#2a6db0" stroke-width="1.1"/>
<line x1="438.9" y1="879.8" x2="457.8" y2="900.2" stroke="#2a6db0" stroke-width="1.1"/>
<line x1="438.9" y1="881.9" x2="457.8" y2="871.7" stroke="#2a6db0" stroke-width="1.1"/>
<line x1="438.9" y1="883.9" x2="457.8" y2="873.7" stroke="#2a6db0" stroke-width="1.1"/>
<line x1="438.9" y1="886.0" x2="457.8" y2="845.2" stroke="#2a6db0" stroke-width="1.1"/>
<line x1="438.9" y1="890.0" x2="457.8" y2="877.8" stroke="#2a6db0" stroke-width="1.1"/>
<circle cx="438.9" cy="855.4" r="3.1" fill="#2a6db0"/>
<circle cx="438.9" cy="857.4" r="3.1" fill="#2a6db0"/>
<circle cx="438.9" cy="871.7" r="3.1" fill="#2a6db0"/>
<circle cx="438.9" cy="875.8" r="3.1" fill="#2a6db0"/>
<circle cx="438.9" cy="877.8" r="3.1" fill="#2a6db0"/>
<circle cx="438.9" cy="879.8" r="3.1" fill="#2a6db0"/>
<circle cx="438.9" cy="881.9" r="3.1" fill="#2a6db0"/>
<circle cx="438.9" cy="883.9" r="3.1" fill="#2a6db0"/>
<circle cx="438.9" cy="886.0" r="3.1" fill="#2a6db0"/>
<circle cx="438.9" cy="890.0" r="3.1" fill="#2a6db0"/>
<circle cx="457.8" cy="902.3" r="3.1" fill="#2a6db0"/>
<circle cx="457.8" cy="904.3" r="3.1" fill="#2a6db0"/>
<circle cx="457.8" cy="875.8" r="3.1" fill="#2a6db0"/>
<circle cx="457.8" cy="881.9" r="3.1" fill="#2a6db0"/>
<circle cx="457.8" cy="879.8" r="3.1" fill="#2a6db0"/>
<circle cx="457.8" cy="900.2" r="3.1" fill="#2a6db0"/>
<circle cx="457.8" cy="871.7" r="3.1" fill="#2a6db0"/>
<circle cx="457.8" cy="873.7" r="3.1" fill="#2a6db0"/>
<circle cx="457.8" cy="845.2" r="3.1" fill="#2a6db0"/>
<circle cx="457.8" cy="877.8" r="3.1" fill="#2a6db0"/>
<text x="443.9" y="973.4" font-size="11.2" text-anchor="end" fill="#333" transform="rotate(-45 443.9 973.4)" stroke="#333" stroke-width="0.22">Basal</text>
<text x="460.5" y="973.4" font-size="11.2" text-anchor="end" fill="#333" transform="rotate(-45 460.5 973.4)" stroke="#333" stroke-width="0.22">SD</text>
<path d="M436.6,787.9 L436.6,785.7 L460.1,785.7 L460.1,787.9" fill="none" stroke="#888" stroke-width="1.1"/>
<text x="449.2" y="779.3" font-size="11" text-anchor="middle" fill="#222" stroke="#222" stroke-width="0.22">0.29</text>
<text x="266.8" y="877.8" font-size="11" text-anchor="middle" fill="#111" transform="rotate(-90 266.8 877.8)" stroke="#111" stroke-width="0.22"><tspan font-style="italic">P</tspan><tspan font-size="10.5" dy="6">sw</tspan></text>
<text x="246.0" y="777.0" font-size="22" text-anchor="start" fill="#1a1a1a" font-weight="bold">k</text>
<text x="292.5" y="779.3" font-size="11" text-anchor="start" fill="#222" stroke="#222" stroke-width="0.22"><tspan font-style="italic">P</tspan> =</text>
<text x="1.5" y="1032.8" font-size="22" text-anchor="start" fill="#1a1a1a" font-weight="bold">l</text>
<text x="106.8" y="1035.9" font-size="11" text-anchor="middle" fill="#222" stroke="#222" stroke-width="0.22">MK-801 i.p.</text>
<line x1="106.8" y1="1037.5" x2="106.8" y2="1044.0" stroke="#111" stroke-width="1.2"/>
<path d="M103.8,1042.5 L109.8,1042.5 L106.8,1048.5 Z" fill="#111" stroke="none" stroke-width="1"/>
<rect x="132.4" y="1046.2" width="76.5" height="3.2" fill="#e3262d"/>
<text x="171.3" y="1043.6" font-size="11" text-anchor="middle" fill="#222" stroke="#222" stroke-width="0.22">Rebound</text>
<line x1="55.4" y1="1051.0" x2="55.4" y2="1213.4" stroke="#555" stroke-width="1.1"/>
<line x1="52.9" y1="1051.0" x2="55.4" y2="1051.0" stroke="#555" stroke-width="1.1"/>
<text x="47.9" y="1054.9" font-size="11" text-anchor="end" fill="#4d4d4d" stroke="#4d4d4d" stroke-width="0.22">80</text>
<line x1="52.9" y1="1083.3" x2="55.4" y2="1083.3" stroke="#555" stroke-width="1.1"/>
<text x="47.9" y="1087.2" font-size="11" text-anchor="end" fill="#4d4d4d" stroke="#4d4d4d" stroke-width="0.22">40</text>
<line x1="52.9" y1="1115.6" x2="55.4" y2="1115.6" stroke="#555" stroke-width="1.1"/>
<text x="47.9" y="1119.5" font-size="11" text-anchor="end" fill="#4d4d4d" stroke="#4d4d4d" stroke-width="0.22">0</text>
<line x1="52.9" y1="1147.9" x2="55.4" y2="1147.9" stroke="#555" stroke-width="1.1"/>
<text x="47.9" y="1151.8" font-size="11" text-anchor="end" fill="#4d4d4d" stroke="#4d4d4d" stroke-width="0.22">−40</text>
<line x1="52.9" y1="1180.2" x2="55.4" y2="1180.2" stroke="#555" stroke-width="1.1"/>
<text x="47.9" y="1184.1" font-size="11" text-anchor="end" fill="#4d4d4d" stroke="#4d4d4d" stroke-width="0.22">−80</text>
<line x1="52.9" y1="1212.5" x2="55.4" y2="1212.5" stroke="#555" stroke-width="1.1"/>
<text x="47.9" y="1216.4" font-size="11" text-anchor="end" fill="#4d4d4d" stroke="#4d4d4d" stroke-width="0.22">−120</text>
<rect x="55.4" y="1213.4" width="76.8" height="6.7" fill="#e8a24e"/>
<rect x="132.2" y="1213.4" width="76.8" height="6.7" fill="#000"/>
<text x="55.4" y="1230.5" font-size="11" text-anchor="middle" fill="#4d4d4d" stroke="#4d4d4d" stroke-width="0.22">0</text>
<text x="93.8" y="1230.5" font-size="11" text-anchor="middle" fill="#4d4d4d" stroke="#4d4d4d" stroke-width="0.22">6</text>
<text x="132.2" y="1230.5" font-size="11" text-anchor="middle" fill="#4d4d4d" stroke="#4d4d4d" stroke-width="0.22">12</text>
<text x="170.5" y="1230.5" font-size="11" text-anchor="middle" fill="#4d4d4d" stroke="#4d4d4d" stroke-width="0.22">18</text>
<text x="208.9" y="1230.5" font-size="11" text-anchor="middle" fill="#4d4d4d" stroke="#4d4d4d" stroke-width="0.22">24</text>
<text x="132.2" y="1244.6" font-size="11.4" text-anchor="middle" fill="#111" stroke="#111" stroke-width="0.22">Zeitgeber time (hr)</text>
<text x="14.0" y="1134.2" font-size="11.2" text-anchor="middle" fill="#111" transform="rotate(-90 14.0 1134.2)" stroke="#111" stroke-width="0.22">Cumulative sleep loss (min)</text>
<polyline points="62.0,1112.4 68.1,1102.8 74.1,1102.8 80.1,1100.4 87.3,1095.6 93.4,1102.8 99.9,1096.8 106.6,1101.6 113.1,1119.7 119.4,1151.0 125.9,1154.6 132.4,1153.4 138.6,1143.8 145.1,1133.6 151.2,1137.7 157.9,1130.5 164.4,1125.7 170.4,1126.9 176.5,1125.7 183.7,1122.1 189.7,1125.7 196.5,1125.7 203.0,1130.5 209.0,1126.9" fill="none" stroke="#8ed3ad" stroke-width="6" stroke-linejoin="round" stroke-opacity="0.22"/>
<polyline points="62.0,1111.2 68.1,1104.0 74.1,1105.2 80.1,1099.2 87.3,1088.4 93.4,1093.2 99.9,1087.9 106.6,1089.6 113.1,1110.0 119.4,1141.4 125.9,1164.2 132.4,1162.5 138.6,1154.6 145.1,1143.8 151.2,1132.9 157.9,1124.5 164.4,1117.3 170.4,1108.8 176.5,1099.2 183.7,1092.0 189.7,1082.3 196.5,1075.1 203.0,1067.9 209.0,1061.9" fill="none" stroke="#4bb2cd" stroke-width="6" stroke-linejoin="round" stroke-opacity="0.22"/>
<polyline points="62.0,1113.6 68.1,1105.2 74.1,1105.2 80.1,1106.4 87.3,1106.4 93.4,1105.2 99.9,1098.5 106.6,1102.8 113.1,1114.9 119.4,1146.2 125.9,1183.5 132.4,1191.9 138.6,1184.7 145.1,1177.5 151.2,1173.9 157.9,1164.2 164.4,1162.5 170.4,1159.4 176.5,1155.8 183.7,1148.6 189.7,1141.4 196.5,1134.6 203.0,1133.6 209.0,1128.1" fill="none" stroke="#2a6db0" stroke-width="6" stroke-linejoin="round" stroke-opacity="0.22"/>
<polyline points="62.0,1112.4 68.1,1102.8 74.1,1102.8 80.1,1100.4 87.3,1095.6 93.4,1102.8 99.9,1096.8 106.6,1101.6 113.1,1119.7 119.4,1151.0 125.9,1154.6 132.4,1153.4 138.6,1143.8 145.1,1133.6 151.2,1137.7 157.9,1130.5 164.4,1125.7 170.4,1126.9 176.5,1125.7 183.7,1122.1 189.7,1125.7 196.5,1125.7 203.0,1130.5 209.0,1126.9" fill="none" stroke="#8ed3ad" stroke-width="1.3" stroke-linejoin="round"/>
<polyline points="62.0,1111.2 68.1,1104.0 74.1,1105.2 80.1,1099.2 87.3,1088.4 93.4,1093.2 99.9,1087.9 106.6,1089.6 113.1,1110.0 119.4,1141.4 125.9,1164.2 132.4,1162.5 138.6,1154.6 145.1,1143.8 151.2,1132.9 157.9,1124.5 164.4,1117.3 170.4,1108.8 176.5,1099.2 183.7,1092.0 189.7,1082.3 196.5,1075.1 203.0,1067.9 209.0,1061.9" fill="none" stroke="#4bb2cd" stroke-width="1.3" stroke-linejoin="round"/>
<polyline points="62.0,1113.6 68.1,1105.2 74.1,1105.2 80.1,1106.4 87.3,1106.4 93.4,1105.2 99.9,1098.5 106.6,1102.8 113.1,1114.9 119.4,1146.2 125.9,1183.5 132.4,1191.9 138.6,1184.7 145.1,1177.5 151.2,1173.9 157.9,1164.2 164.4,1162.5 170.4,1159.4 176.5,1155.8 183.7,1148.6 189.7,1141.4 196.5,1134.6 203.0,1133.6 209.0,1128.1" fill="none" stroke="#2a6db0" stroke-width="1.3" stroke-linejoin="round"/>
<text x="206.5" y="1184.5" font-size="11.2" text-anchor="end" fill="#8ed3ad" font-weight="bold">4 wks</text>
<text x="206.5" y="1196.8" font-size="11.2" text-anchor="end" fill="#4bb2cd" font-weight="bold">8 wks</text>
<text x="206.5" y="1208.6" font-size="11.2" text-anchor="end" fill="#2a6db0" font-weight="bold">12 wks</text>
<line x1="106.7" y1="1049.0" x2="106.7" y2="1213.4" stroke="#e3262d" stroke-width="0.9" stroke-dasharray="2.2,1.8"/>
<line x1="304.9" y1="1049.3" x2="304.9" y2="1215.5" stroke="#555" stroke-width="1.1"/>
<line x1="302.4" y1="1215.5" x2="304.9" y2="1215.5" stroke="#555" stroke-width="1.1"/>
<text x="295.9" y="1219.4" font-size="11" text-anchor="end" fill="#4d4d4d" stroke="#4d4d4d" stroke-width="0.22">0</text>
<line x1="302.4" y1="1160.1" x2="304.9" y2="1160.1" stroke="#555" stroke-width="1.1"/>
<text x="295.9" y="1164.0" font-size="11" text-anchor="end" fill="#4d4d4d" stroke="#4d4d4d" stroke-width="0.22">200</text>
<line x1="302.4" y1="1104.7" x2="304.9" y2="1104.7" stroke="#555" stroke-width="1.1"/>
<text x="295.9" y="1108.6" font-size="11" text-anchor="end" fill="#4d4d4d" stroke="#4d4d4d" stroke-width="0.22">400</text>
<line x1="302.4" y1="1049.3" x2="304.9" y2="1049.3" stroke="#555" stroke-width="1.1"/>
<text x="295.9" y="1053.2" font-size="11" text-anchor="end" fill="#4d4d4d" stroke="#4d4d4d" stroke-width="0.22">600</text>
<line x1="304.9" y1="1215.5" x2="348.2" y2="1215.5" stroke="#555" stroke-width="1.1"/>
<line x1="364.4" y1="1215.5" x2="406.3" y2="1215.5" stroke="#555" stroke-width="1.1"/>
<line x1="422.5" y1="1215.5" x2="466.0" y2="1215.5" stroke="#555" stroke-width="1.1"/>
<line x1="317.3" y1="1215.5" x2="317.3" y2="1218.0" stroke="#555" stroke-width="1.1"/>
<line x1="336.8" y1="1215.5" x2="336.8" y2="1218.0" stroke="#555" stroke-width="1.1"/>
<line x1="317.3" y1="1120.8" x2="317.3" y2="1128.2" stroke="#c9c9c9" stroke-width="1.2"/>
<line x1="317.3" y1="1141.0" x2="317.3" y2="1135.2" stroke="#c9c9c9" stroke-width="1.2"/>
<rect x="312.6" y="1128.2" width="9.5" height="6.9" fill="none" stroke="#c9c9c9" stroke-width="1.2"/>
<line x1="312.6" y1="1131.8" x2="322.1" y2="1131.8" stroke="#c9c9c9" stroke-width="1.2"/>
<line x1="336.8" y1="1110.2" x2="336.8" y2="1118.0" stroke="#c9c9c9" stroke-width="1.2"/>
<line x1="336.8" y1="1128.2" x2="336.8" y2="1126.9" stroke="#c9c9c9" stroke-width="1.2"/>
<rect x="332.1" y="1118.0" width="9.5" height="8.9" fill="none" stroke="#c9c9c9" stroke-width="1.2"/>
<line x1="332.1" y1="1122.7" x2="341.6" y2="1122.7" stroke="#c9c9c9" stroke-width="1.2"/>
<line x1="317.3" y1="1114.1" x2="336.8" y2="1120.8" stroke="#8ed3ad" stroke-width="1.1"/>
<line x1="317.3" y1="1120.8" x2="336.8" y2="1115.8" stroke="#8ed3ad" stroke-width="1.1"/>
<line x1="317.3" y1="1124.1" x2="336.8" y2="1125.2" stroke="#8ed3ad" stroke-width="1.1"/>
<line x1="317.3" y1="1126.3" x2="336.8" y2="1112.5" stroke="#8ed3ad" stroke-width="1.1"/>
<line x1="317.3" y1="1128.2" x2="336.8" y2="1122.7" stroke="#8ed3ad" stroke-width="1.1"/>
<line x1="317.3" y1="1129.6" x2="336.8" y2="1119.7" stroke="#8ed3ad" stroke-width="1.1"/>
<line x1="317.3" y1="1131.0" x2="336.8" y2="1128.2" stroke="#8ed3ad" stroke-width="1.1"/>
<line x1="317.3" y1="1132.4" x2="336.8" y2="1126.9" stroke="#8ed3ad" stroke-width="1.1"/>
<line x1="317.3" y1="1133.5" x2="336.8" y2="1110.2" stroke="#8ed3ad" stroke-width="1.1"/>
<line x1="317.3" y1="1134.6" x2="336.8" y2="1118.5" stroke="#8ed3ad" stroke-width="1.1"/>
<line x1="317.3" y1="1135.7" x2="336.8" y2="1117.2" stroke="#8ed3ad" stroke-width="1.1"/>
<line x1="317.3" y1="1137.4" x2="336.8" y2="1114.4" stroke="#8ed3ad" stroke-width="1.1"/>
<line x1="317.3" y1="1139.3" x2="336.8" y2="1124.1" stroke="#8ed3ad" stroke-width="1.1"/>
<line x1="317.3" y1="1141.0" x2="336.8" y2="1121.9" stroke="#8ed3ad" stroke-width="1.1"/>
<circle cx="317.3" cy="1114.1" r="3.1" fill="#8ed3ad"/>
<circle cx="317.3" cy="1120.8" r="3.1" fill="#8ed3ad"/>
<circle cx="317.3" cy="1124.1" r="3.1" fill="#8ed3ad"/>
<circle cx="317.3" cy="1126.3" r="3.1" fill="#8ed3ad"/>
<circle cx="317.3" cy="1128.2" r="3.1" fill="#8ed3ad"/>
<circle cx="317.3" cy="1129.6" r="3.1" fill="#8ed3ad"/>
<circle cx="317.3" cy="1131.0" r="3.1" fill="#8ed3ad"/>
<circle cx="317.3" cy="1132.4" r="3.1" fill="#8ed3ad"/>
<circle cx="317.3" cy="1133.5" r="3.1" fill="#8ed3ad"/>
<circle cx="317.3" cy="1134.6" r="3.1" fill="#8ed3ad"/>
<circle cx="317.3" cy="1135.7" r="3.1" fill="#8ed3ad"/>
<circle cx="317.3" cy="1137.4" r="3.1" fill="#8ed3ad"/>
<circle cx="317.3" cy="1139.3" r="3.1" fill="#8ed3ad"/>
<circle cx="317.3" cy="1141.0" r="3.1" fill="#8ed3ad"/>
<circle cx="336.8" cy="1120.8" r="3.1" fill="#8ed3ad"/>
<circle cx="336.8" cy="1115.8" r="3.1" fill="#8ed3ad"/>
<circle cx="336.8" cy="1125.2" r="3.1" fill="#8ed3ad"/>
<circle cx="336.8" cy="1112.5" r="3.1" fill="#8ed3ad"/>
<circle cx="336.8" cy="1122.7" r="3.1" fill="#8ed3ad"/>
<circle cx="336.8" cy="1119.7" r="3.1" fill="#8ed3ad"/>
<circle cx="336.8" cy="1128.2" r="3.1" fill="#8ed3ad"/>
<circle cx="336.8" cy="1126.9" r="3.1" fill="#8ed3ad"/>
<circle cx="336.8" cy="1110.2" r="3.1" fill="#8ed3ad"/>
<circle cx="336.8" cy="1118.5" r="3.1" fill="#8ed3ad"/>
<circle cx="336.8" cy="1117.2" r="3.1" fill="#8ed3ad"/>
<circle cx="336.8" cy="1114.4" r="3.1" fill="#8ed3ad"/>
<circle cx="336.8" cy="1124.1" r="3.1" fill="#8ed3ad"/>
<circle cx="336.8" cy="1121.9" r="3.1" fill="#8ed3ad"/>
<text x="322.3" y="1229.5" font-size="11.2" text-anchor="end" fill="#333" transform="rotate(-45 322.3 1229.5)" stroke="#333" stroke-width="0.22">Saline</text>
<text x="339.5" y="1229.5" font-size="11.2" text-anchor="end" fill="#333" transform="rotate(-45 339.5 1229.5)" stroke="#333" stroke-width="0.22">MK801</text>
<path d="M315.0,1043.1 L315.0,1040.9 L339.1,1040.9 L339.1,1043.1" fill="none" stroke="#888" stroke-width="1.1"/>
<text x="327.9" y="1035.7" font-size="11" text-anchor="middle" fill="#222" stroke="#222" stroke-width="0.22">0.011</text>
<line x1="375.1" y1="1215.5" x2="375.1" y2="1218.0" stroke="#555" stroke-width="1.1"/>
<line x1="395.6" y1="1215.5" x2="395.6" y2="1218.0" stroke="#555" stroke-width="1.1"/>
<line x1="375.1" y1="1122.4" x2="375.1" y2="1129.6" stroke="#c9c9c9" stroke-width="1.2"/>
<line x1="375.1" y1="1151.0" x2="375.1" y2="1138.5" stroke="#c9c9c9" stroke-width="1.2"/>
<rect x="370.4" y="1129.6" width="9.5" height="8.9" fill="none" stroke="#c9c9c9" stroke-width="1.2"/>
<line x1="370.4" y1="1133.5" x2="379.9" y2="1133.5" stroke="#c9c9c9" stroke-width="1.2"/>
<line x1="395.6" y1="1086.7" x2="395.6" y2="1096.4" stroke="#c9c9c9" stroke-width="1.2"/>
<line x1="395.6" y1="1112.5" x2="395.6" y2="1106.1" stroke="#c9c9c9" stroke-width="1.2"/>
<rect x="390.9" y="1096.4" width="9.5" height="9.7" fill="none" stroke="#c9c9c9" stroke-width="1.2"/>
<line x1="390.9" y1="1099.7" x2="400.4" y2="1099.7" stroke="#c9c9c9" stroke-width="1.2"/>
<line x1="375.1" y1="1122.4" x2="395.6" y2="1086.7" stroke="#4bb2cd" stroke-width="1.1"/>
<line x1="375.1" y1="1124.1" x2="395.6" y2="1093.6" stroke="#4bb2cd" stroke-width="1.1"/>
<line x1="375.1" y1="1126.3" x2="395.6" y2="1095.8" stroke="#4bb2cd" stroke-width="1.1"/>
<line x1="375.1" y1="1128.2" x2="395.6" y2="1096.9" stroke="#4bb2cd" stroke-width="1.1"/>
<line x1="375.1" y1="1130.2" x2="395.6" y2="1098.1" stroke="#4bb2cd" stroke-width="1.1"/>
<line x1="375.1" y1="1132.4" x2="395.6" y2="1099.2" stroke="#4bb2cd" stroke-width="1.1"/>
<line x1="375.1" y1="1133.8" x2="395.6" y2="1100.3" stroke="#4bb2cd" stroke-width="1.1"/>
<line x1="375.1" y1="1135.2" x2="395.6" y2="1101.4" stroke="#4bb2cd" stroke-width="1.1"/>
<line x1="375.1" y1="1136.6" x2="395.6" y2="1102.5" stroke="#4bb2cd" stroke-width="1.1"/>
<line x1="375.1" y1="1138.5" x2="395.6" y2="1103.6" stroke="#4bb2cd" stroke-width="1.1"/>
<line x1="375.1" y1="1140.7" x2="395.6" y2="1105.3" stroke="#4bb2cd" stroke-width="1.1"/>
<line x1="375.1" y1="1142.9" x2="395.6" y2="1106.9" stroke="#4bb2cd" stroke-width="1.1"/>
<line x1="375.1" y1="1147.6" x2="395.6" y2="1108.9" stroke="#4bb2cd" stroke-width="1.1"/>
<line x1="375.1" y1="1151.0" x2="395.6" y2="1112.5" stroke="#4bb2cd" stroke-width="1.1"/>
<circle cx="375.1" cy="1122.4" r="3.1" fill="#4bb2cd"/>
<circle cx="375.1" cy="1124.1" r="3.1" fill="#4bb2cd"/>
<circle cx="375.1" cy="1126.3" r="3.1" fill="#4bb2cd"/>
<circle cx="375.1" cy="1128.2" r="3.1" fill="#4bb2cd"/>
<circle cx="375.1" cy="1130.2" r="3.1" fill="#4bb2cd"/>
<circle cx="375.1" cy="1132.4" r="3.1" fill="#4bb2cd"/>
<circle cx="375.1" cy="1133.8" r="3.1" fill="#4bb2cd"/>
<circle cx="375.1" cy="1135.2" r="3.1" fill="#4bb2cd"/>
<circle cx="375.1" cy="1136.6" r="3.1" fill="#4bb2cd"/>
<circle cx="375.1" cy="1138.5" r="3.1" fill="#4bb2cd"/>
<circle cx="375.1" cy="1140.7" r="3.1" fill="#4bb2cd"/>
<circle cx="375.1" cy="1142.9" r="3.1" fill="#4bb2cd"/>
<circle cx="375.1" cy="1147.6" r="3.1" fill="#4bb2cd"/>
<circle cx="375.1" cy="1151.0" r="3.1" fill="#4bb2cd"/>
<circle cx="395.6" cy="1086.7" r="3.1" fill="#4bb2cd"/>
<circle cx="395.6" cy="1093.6" r="3.1" fill="#4bb2cd"/>
<circle cx="395.6" cy="1095.8" r="3.1" fill="#4bb2cd"/>
<circle cx="395.6" cy="1096.9" r="3.1" fill="#4bb2cd"/>
<circle cx="395.6" cy="1098.1" r="3.1" fill="#4bb2cd"/>
<circle cx="395.6" cy="1099.2" r="3.1" fill="#4bb2cd"/>
<circle cx="395.6" cy="1100.3" r="3.1" fill="#4bb2cd"/>
<circle cx="395.6" cy="1101.4" r="3.1" fill="#4bb2cd"/>
<circle cx="395.6" cy="1102.5" r="3.1" fill="#4bb2cd"/>
<circle cx="395.6" cy="1103.6" r="3.1" fill="#4bb2cd"/>
<circle cx="395.6" cy="1105.3" r="3.1" fill="#4bb2cd"/>
<circle cx="395.6" cy="1106.9" r="3.1" fill="#4bb2cd"/>
<circle cx="395.6" cy="1108.9" r="3.1" fill="#4bb2cd"/>
<circle cx="395.6" cy="1112.5" r="3.1" fill="#4bb2cd"/>
<text x="380.1" y="1229.5" font-size="11.2" text-anchor="end" fill="#333" transform="rotate(-45 380.1 1229.5)" stroke="#333" stroke-width="0.22">Saline</text>
<text x="398.3" y="1229.5" font-size="11.2" text-anchor="end" fill="#333" transform="rotate(-45 398.3 1229.5)" stroke="#333" stroke-width="0.22">MK801</text>
<path d="M372.8,1043.1 L372.8,1040.9 L397.9,1040.9 L397.9,1043.1" fill="none" stroke="#888" stroke-width="1.1"/>
<text x="386.2" y="1035.7" font-size="11" text-anchor="middle" fill="#222" stroke="#222" stroke-width="0.22">2.8 × 10<tspan dy="-4" font-size="7.5">-9</tspan></text>
<line x1="434.9" y1="1215.5" x2="434.9" y2="1218.0" stroke="#555" stroke-width="1.1"/>
<line x1="455.0" y1="1215.5" x2="455.0" y2="1218.0" stroke="#555" stroke-width="1.1"/>
<line x1="434.9" y1="1106.9" x2="434.9" y2="1115.2" stroke="#c9c9c9" stroke-width="1.2"/>
<line x1="434.9" y1="1133.8" x2="434.9" y2="1124.1" stroke="#c9c9c9" stroke-width="1.2"/>
<rect x="430.1" y="1115.2" width="9.5" height="8.9" fill="none" stroke="#c9c9c9" stroke-width="1.2"/>
<line x1="430.1" y1="1119.9" x2="439.6" y2="1119.9" stroke="#c9c9c9" stroke-width="1.2"/>
<line x1="455.0" y1="1086.7" x2="455.0" y2="1090.3" stroke="#c9c9c9" stroke-width="1.2"/>
<line x1="455.0" y1="1104.1" x2="455.0" y2="1101.9" stroke="#c9c9c9" stroke-width="1.2"/>
<rect x="450.2" y="1090.3" width="9.5" height="11.6" fill="none" stroke="#c9c9c9" stroke-width="1.2"/>
<line x1="450.2" y1="1093.6" x2="459.8" y2="1093.6" stroke="#c9c9c9" stroke-width="1.2"/>
<line x1="434.9" y1="1106.9" x2="455.0" y2="1093.6" stroke="#2a6db0" stroke-width="1.1"/>
<line x1="434.9" y1="1108.9" x2="455.0" y2="1086.7" stroke="#2a6db0" stroke-width="1.1"/>
<line x1="434.9" y1="1110.8" x2="455.0" y2="1093.6" stroke="#2a6db0" stroke-width="1.1"/>
<line x1="434.9" y1="1113.0" x2="455.0" y2="1097.8" stroke="#2a6db0" stroke-width="1.1"/>
<line x1="434.9" y1="1115.2" x2="455.0" y2="1104.1" stroke="#2a6db0" stroke-width="1.1"/>
<line x1="434.9" y1="1117.2" x2="455.0" y2="1089.5" stroke="#2a6db0" stroke-width="1.1"/>
<line x1="434.9" y1="1119.1" x2="455.0" y2="1092.2" stroke="#2a6db0" stroke-width="1.1"/>
<line x1="434.9" y1="1120.8" x2="455.0" y2="1099.7" stroke="#2a6db0" stroke-width="1.1"/>
<line x1="434.9" y1="1122.4" x2="455.0" y2="1130.2" stroke="#2a6db0" stroke-width="1.1"/>
<line x1="434.9" y1="1124.1" x2="455.0" y2="1095.0" stroke="#2a6db0" stroke-width="1.1"/>
<line x1="434.9" y1="1126.9" x2="455.0" y2="1101.9" stroke="#2a6db0" stroke-width="1.1"/>
<line x1="434.9" y1="1129.6" x2="455.0" y2="1088.1" stroke="#2a6db0" stroke-width="1.1"/>
<line x1="434.9" y1="1133.8" x2="455.0" y2="1096.4" stroke="#2a6db0" stroke-width="1.1"/>
<line x1="434.9" y1="1137.7" x2="455.0" y2="1090.8" stroke="#2a6db0" stroke-width="1.1"/>
<circle cx="434.9" cy="1106.9" r="3.1" fill="#2a6db0"/>
<circle cx="434.9" cy="1108.9" r="3.1" fill="#2a6db0"/>
<circle cx="434.9" cy="1110.8" r="3.1" fill="#2a6db0"/>
<circle cx="434.9" cy="1113.0" r="3.1" fill="#2a6db0"/>
<circle cx="434.9" cy="1115.2" r="3.1" fill="#2a6db0"/>
<circle cx="434.9" cy="1117.2" r="3.1" fill="#2a6db0"/>
<circle cx="434.9" cy="1119.1" r="3.1" fill="#2a6db0"/>
<circle cx="434.9" cy="1120.8" r="3.1" fill="#2a6db0"/>
<circle cx="434.9" cy="1122.4" r="3.1" fill="#2a6db0"/>
<circle cx="434.9" cy="1124.1" r="3.1" fill="#2a6db0"/>
<circle cx="434.9" cy="1126.9" r="3.1" fill="#2a6db0"/>
<circle cx="434.9" cy="1129.6" r="3.1" fill="#2a6db0"/>
<circle cx="434.9" cy="1133.8" r="3.1" fill="#2a6db0"/>
<circle cx="434.9" cy="1137.7" r="3.1" fill="#2a6db0"/>
<circle cx="455.0" cy="1093.6" r="3.1" fill="#2a6db0"/>
<circle cx="455.0" cy="1086.7" r="3.1" fill="#2a6db0"/>
<circle cx="455.0" cy="1093.6" r="3.1" fill="#2a6db0"/>
<circle cx="455.0" cy="1097.8" r="3.1" fill="#2a6db0"/>
<circle cx="455.0" cy="1104.1" r="3.1" fill="#2a6db0"/>
<circle cx="455.0" cy="1089.5" r="3.1" fill="#2a6db0"/>
<circle cx="455.0" cy="1092.2" r="3.1" fill="#2a6db0"/>
<circle cx="455.0" cy="1099.7" r="3.1" fill="#2a6db0"/>
<circle cx="455.0" cy="1130.2" r="3.1" fill="#2a6db0"/>
<circle cx="455.0" cy="1095.0" r="3.1" fill="#2a6db0"/>
<circle cx="455.0" cy="1101.9" r="3.1" fill="#2a6db0"/>
<circle cx="455.0" cy="1088.1" r="3.1" fill="#2a6db0"/>
<circle cx="455.0" cy="1096.4" r="3.1" fill="#2a6db0"/>
<circle cx="455.0" cy="1090.8" r="3.1" fill="#2a6db0"/>
<text x="439.9" y="1229.5" font-size="11.2" text-anchor="end" fill="#333" transform="rotate(-45 439.9 1229.5)" stroke="#333" stroke-width="0.22">Saline</text>
<text x="457.7" y="1229.5" font-size="11.2" text-anchor="end" fill="#333" transform="rotate(-45 457.7 1229.5)" stroke="#333" stroke-width="0.22">MK801</text>
<path d="M432.6,1043.1 L432.6,1040.9 L457.3,1040.9 L457.3,1043.1" fill="none" stroke="#888" stroke-width="1.1"/>
<text x="445.8" y="1035.7" font-size="11" text-anchor="middle" fill="#222" stroke="#222" stroke-width="0.22">3.6 × 10<tspan dy="-4" font-size="7.5">-5</tspan></text>
<text x="264.2" y="1132.6" font-size="11" text-anchor="middle" fill="#111" transform="rotate(-90 264.2 1132.6)" stroke="#111" stroke-width="0.22">Sleep duration (min)</text>
<text x="244.0" y="1033.5" font-size="22" text-anchor="start" fill="#1a1a1a" font-weight="bold">m</text>
<text x="286.4" y="1035.7" font-size="11" text-anchor="start" fill="#222" stroke="#222" stroke-width="0.22"><tspan font-style="italic">P</tspan> =</text>
<text x="495.2" y="1033.7" font-size="22" text-anchor="start" fill="#1a1a1a" font-weight="bold">n</text>
<text x="518.8" y="1033.4" font-size="11" text-anchor="start" fill="#111" stroke="#111" stroke-width="0.22"><tspan>Adj. </tspan><tspan font-style="italic">P</tspan><tspan> =</tspan></text>
<line x1="544.7" y1="1051.3" x2="544.7" y2="1214.2" stroke="#555" stroke-width="1.1"/>
<line x1="542.2" y1="1214.2" x2="544.7" y2="1214.2" stroke="#555" stroke-width="1.1"/>
<text x="535.7" y="1218.1" font-size="11" text-anchor="end" fill="#4d4d4d" stroke="#4d4d4d" stroke-width="0.22">0.5</text>
<line x1="542.2" y1="1159.9" x2="544.7" y2="1159.9" stroke="#555" stroke-width="1.1"/>
<text x="535.7" y="1163.8" font-size="11" text-anchor="end" fill="#4d4d4d" stroke="#4d4d4d" stroke-width="0.22">1.0</text>
<line x1="542.2" y1="1105.6" x2="544.7" y2="1105.6" stroke="#555" stroke-width="1.1"/>
<text x="535.7" y="1109.5" font-size="11" text-anchor="end" fill="#4d4d4d" stroke="#4d4d4d" stroke-width="0.22">1.5</text>
<line x1="542.2" y1="1051.3" x2="544.7" y2="1051.3" stroke="#555" stroke-width="1.1"/>
<text x="535.7" y="1055.2" font-size="11" text-anchor="end" fill="#4d4d4d" stroke="#4d4d4d" stroke-width="0.22">2.0</text>
<line x1="544.7" y1="1214.2" x2="667.6" y2="1214.2" stroke="#555" stroke-width="1.1"/>
<line x1="568.2" y1="1214.2" x2="568.2" y2="1216.7" stroke="#555" stroke-width="1.1"/>
<line x1="606.8" y1="1214.2" x2="606.8" y2="1216.7" stroke="#555" stroke-width="1.1"/>
<line x1="645.7" y1="1214.2" x2="645.7" y2="1216.7" stroke="#555" stroke-width="1.1"/>
<polyline points="568.2,1140.4 606.8,1109.9 645.7,1140.4" fill="none" stroke="#b4b4b4" stroke-width="0.75" stroke-linejoin="round"/>
<polyline points="568.2,1142.5 606.8,1116.5 645.7,1120.8" fill="none" stroke="#b4b4b4" stroke-width="0.75" stroke-linejoin="round"/>
<polyline points="568.2,1144.7 606.8,1120.8 645.7,1132.8" fill="none" stroke="#b4b4b4" stroke-width="0.75" stroke-linejoin="round"/>
<polyline points="568.2,1145.8 606.8,1112.1 645.7,1143.6" fill="none" stroke="#b4b4b4" stroke-width="0.75" stroke-linejoin="round"/>
<polyline points="568.2,1146.9 606.8,1118.6 645.7,1178.4" fill="none" stroke="#b4b4b4" stroke-width="0.75" stroke-linejoin="round"/>
<polyline points="568.2,1148.0 606.8,1093.7 645.7,1142.5" fill="none" stroke="#b4b4b4" stroke-width="0.75" stroke-linejoin="round"/>
<polyline points="568.2,1149.0 606.8,1077.4 645.7,1138.2" fill="none" stroke="#b4b4b4" stroke-width="0.75" stroke-linejoin="round"/>
<polyline points="568.2,1150.1 606.8,1114.3 645.7,1127.3" fill="none" stroke="#b4b4b4" stroke-width="0.75" stroke-linejoin="round"/>
<polyline points="568.2,1151.2 606.8,1115.4 645.7,1137.1" fill="none" stroke="#b4b4b4" stroke-width="0.75" stroke-linejoin="round"/>
<polyline points="568.2,1153.4 606.8,1103.4 645.7,1115.4" fill="none" stroke="#b4b4b4" stroke-width="0.75" stroke-linejoin="round"/>
<polyline points="568.2,1155.6 606.8,1124.1 645.7,1105.6" fill="none" stroke="#b4b4b4" stroke-width="0.75" stroke-linejoin="round"/>
<polyline points="568.2,1157.7 606.8,1133.8 645.7,1117.5" fill="none" stroke="#b4b4b4" stroke-width="0.75" stroke-linejoin="round"/>
<polyline points="568.2,1149.0 606.8,1127.3 645.7,1136.0" fill="none" stroke="#b4b4b4" stroke-width="0.75" stroke-linejoin="round"/>
<line x1="568.2" y1="1140.4" x2="568.2" y2="1145.8" stroke="#c9c9c9" stroke-width="1.2"/>
<line x1="568.2" y1="1157.7" x2="568.2" y2="1151.2" stroke="#c9c9c9" stroke-width="1.2"/>
<rect x="558.7" y="1145.8" width="19.0" height="5.4" fill="none" stroke="#c9c9c9" stroke-width="1.2"/>
<line x1="558.7" y1="1149.0" x2="577.7" y2="1149.0" stroke="#c9c9c9" stroke-width="1.2"/>
<line x1="606.8" y1="1093.7" x2="606.8" y2="1109.9" stroke="#c9c9c9" stroke-width="1.2"/>
<line x1="606.8" y1="1133.8" x2="606.8" y2="1124.1" stroke="#c9c9c9" stroke-width="1.2"/>
<rect x="597.3" y="1109.9" width="19.0" height="14.1" fill="none" stroke="#c9c9c9" stroke-width="1.2"/>
<line x1="597.3" y1="1115.4" x2="616.3" y2="1115.4" stroke="#c9c9c9" stroke-width="1.2"/>
<line x1="645.7" y1="1105.6" x2="645.7" y2="1118.6" stroke="#c9c9c9" stroke-width="1.2"/>
<line x1="645.7" y1="1143.6" x2="645.7" y2="1141.4" stroke="#c9c9c9" stroke-width="1.2"/>
<rect x="636.2" y="1118.6" width="19.0" height="22.8" fill="none" stroke="#c9c9c9" stroke-width="1.2"/>
<line x1="636.2" y1="1136.0" x2="655.2" y2="1136.0" stroke="#c9c9c9" stroke-width="1.2"/>
<circle cx="568.2" cy="1140.4" r="3.3" fill="#8ed3ad"/>
<circle cx="568.2" cy="1142.5" r="3.3" fill="#8ed3ad"/>
<circle cx="568.2" cy="1144.7" r="3.3" fill="#8ed3ad"/>
<circle cx="568.2" cy="1145.8" r="3.3" fill="#8ed3ad"/>
<circle cx="568.2" cy="1146.9" r="3.3" fill="#8ed3ad"/>
<circle cx="568.2" cy="1148.0" r="3.3" fill="#8ed3ad"/>
<circle cx="568.2" cy="1149.0" r="3.3" fill="#8ed3ad"/>
<circle cx="568.2" cy="1150.1" r="3.3" fill="#8ed3ad"/>
<circle cx="568.2" cy="1151.2" r="3.3" fill="#8ed3ad"/>
<circle cx="568.2" cy="1153.4" r="3.3" fill="#8ed3ad"/>
<circle cx="568.2" cy="1155.6" r="3.3" fill="#8ed3ad"/>
<circle cx="568.2" cy="1157.7" r="3.3" fill="#8ed3ad"/>
<circle cx="568.2" cy="1149.0" r="3.3" fill="#8ed3ad"/>
<circle cx="606.8" cy="1077.4" r="3.3" fill="#4bb2cd"/>
<circle cx="606.8" cy="1093.7" r="3.3" fill="#4bb2cd"/>
<circle cx="606.8" cy="1103.4" r="3.3" fill="#4bb2cd"/>
<circle cx="606.8" cy="1109.9" r="3.3" fill="#4bb2cd"/>
<circle cx="606.8" cy="1112.1" r="3.3" fill="#4bb2cd"/>
<circle cx="606.8" cy="1114.3" r="3.3" fill="#4bb2cd"/>
<circle cx="606.8" cy="1115.4" r="3.3" fill="#4bb2cd"/>
<circle cx="606.8" cy="1116.5" r="3.3" fill="#4bb2cd"/>
<circle cx="606.8" cy="1118.6" r="3.3" fill="#4bb2cd"/>
<circle cx="606.8" cy="1120.8" r="3.3" fill="#4bb2cd"/>
<circle cx="606.8" cy="1124.1" r="3.3" fill="#4bb2cd"/>
<circle cx="606.8" cy="1127.3" r="3.3" fill="#4bb2cd"/>
<circle cx="606.8" cy="1133.8" r="3.3" fill="#4bb2cd"/>
<circle cx="645.7" cy="1105.6" r="3.3" fill="#2a6db0"/>
<circle cx="645.7" cy="1115.4" r="3.3" fill="#2a6db0"/>
<circle cx="645.7" cy="1117.5" r="3.3" fill="#2a6db0"/>
<circle cx="645.7" cy="1120.8" r="3.3" fill="#2a6db0"/>
<circle cx="645.7" cy="1127.3" r="3.3" fill="#2a6db0"/>
<circle cx="645.7" cy="1132.8" r="3.3" fill="#2a6db0"/>
<circle cx="645.7" cy="1136.0" r="3.3" fill="#2a6db0"/>
<circle cx="645.7" cy="1138.2" r="3.3" fill="#2a6db0"/>
<circle cx="645.7" cy="1140.4" r="3.3" fill="#2a6db0"/>
<circle cx="645.7" cy="1142.5" r="3.3" fill="#2a6db0"/>
<circle cx="645.7" cy="1143.6" r="3.3" fill="#2a6db0"/>
<circle cx="645.7" cy="1178.4" r="3.3" fill="#2a6db0"/>
<circle cx="645.7" cy="1137.1" r="3.3" fill="#2a6db0"/>
<text x="568.2" y="1232.2" font-size="11" text-anchor="middle" fill="#4d4d4d" stroke="#4d4d4d" stroke-width="0.22">4</text>
<text x="606.8" y="1232.2" font-size="11" text-anchor="middle" fill="#4d4d4d" stroke="#4d4d4d" stroke-width="0.22">8</text>
<text x="645.7" y="1232.2" font-size="11" text-anchor="middle" fill="#4d4d4d" stroke="#4d4d4d" stroke-width="0.22">12</text>
<text x="606.8" y="1245.0" font-size="11.4" text-anchor="middle" fill="#111" stroke="#111" stroke-width="0.22">Age (week)</text>
<text x="515.0" y="1132.6" font-size="11" text-anchor="middle" fill="#111" transform="rotate(-90 515.0 1132.6)" stroke="#111" stroke-width="0.22">Rebound ratio</text>
<path d="M568.2,1027.9 L568.2,1023.4 L645.7,1023.4 L645.7,1027.9" fill="none" stroke="#777" stroke-width="1.1"/>
<text x="606.8" y="1019.9" font-size="10.6" text-anchor="middle" fill="#222" stroke="#222" stroke-width="0.22">0.036</text>
<path d="M568.2,1047.4 L568.2,1042.9 L605.0,1042.9 L605.0,1047.4" fill="none" stroke="#777" stroke-width="1.1"/>
<path d="M608.5,1047.4 L608.5,1042.9 L645.7,1042.9 L645.7,1047.4" fill="none" stroke="#777" stroke-width="1.1"/>
<text x="584.3" y="1039.1" font-size="10.6" text-anchor="middle" fill="#222" stroke="#222" stroke-width="0.22">7.9 × 10<tspan dy="-4" font-size="7.5">-6</tspan></text>
<text x="625.5" y="1039.1" font-size="10.6" text-anchor="middle" fill="#222" stroke="#222" stroke-width="0.22">0.022</text>
<line x1="54.4" y1="1305.4" x2="54.4" y2="1472.6" stroke="#555" stroke-width="1.1"/>
<line x1="51.9" y1="1472.6" x2="54.4" y2="1472.6" stroke="#555" stroke-width="1.1"/>
<text x="45.4" y="1476.5" font-size="11" text-anchor="end" fill="#4d4d4d" stroke="#4d4d4d" stroke-width="0.22">0.00</text>
<line x1="51.9" y1="1439.2" x2="54.4" y2="1439.2" stroke="#555" stroke-width="1.1"/>
<text x="45.4" y="1443.1" font-size="11" text-anchor="end" fill="#4d4d4d" stroke="#4d4d4d" stroke-width="0.22">0.02</text>
<line x1="51.9" y1="1405.7" x2="54.4" y2="1405.7" stroke="#555" stroke-width="1.1"/>
<text x="45.4" y="1409.6" font-size="11" text-anchor="end" fill="#4d4d4d" stroke="#4d4d4d" stroke-width="0.22">0.04</text>
<line x1="51.9" y1="1372.3" x2="54.4" y2="1372.3" stroke="#555" stroke-width="1.1"/>
<text x="45.4" y="1376.2" font-size="11" text-anchor="end" fill="#4d4d4d" stroke="#4d4d4d" stroke-width="0.22">0.06</text>
<line x1="51.9" y1="1338.8" x2="54.4" y2="1338.8" stroke="#555" stroke-width="1.1"/>
<text x="45.4" y="1342.7" font-size="11" text-anchor="end" fill="#4d4d4d" stroke="#4d4d4d" stroke-width="0.22">0.08</text>
<line x1="51.9" y1="1305.4" x2="54.4" y2="1305.4" stroke="#555" stroke-width="1.1"/>
<text x="45.4" y="1309.3" font-size="11" text-anchor="end" fill="#4d4d4d" stroke="#4d4d4d" stroke-width="0.22">0.10</text>
<line x1="54.4" y1="1472.6" x2="97.4" y2="1472.6" stroke="#555" stroke-width="1.1"/>
<line x1="112.5" y1="1472.6" x2="154.5" y2="1472.6" stroke="#555" stroke-width="1.1"/>
<line x1="170.2" y1="1472.6" x2="212.2" y2="1472.6" stroke="#555" stroke-width="1.1"/>
<line x1="66.2" y1="1472.6" x2="66.2" y2="1475.1" stroke="#555" stroke-width="1.1"/>
<line x1="85.6" y1="1472.6" x2="85.6" y2="1475.1" stroke="#555" stroke-width="1.1"/>
<line x1="66.2" y1="1400.7" x2="66.2" y2="1417.4" stroke="#c9c9c9" stroke-width="1.2"/>
<line x1="66.2" y1="1444.2" x2="66.2" y2="1435.8" stroke="#c9c9c9" stroke-width="1.2"/>
<rect x="61.5" y="1417.4" width="9.5" height="18.4" fill="none" stroke="#c9c9c9" stroke-width="1.2"/>
<line x1="61.5" y1="1429.1" x2="71.0" y2="1429.1" stroke="#c9c9c9" stroke-width="1.2"/>
<line x1="85.6" y1="1405.7" x2="85.6" y2="1419.1" stroke="#c9c9c9" stroke-width="1.2"/>
<line x1="85.6" y1="1444.2" x2="85.6" y2="1439.2" stroke="#c9c9c9" stroke-width="1.2"/>
<rect x="80.8" y="1419.1" width="9.5" height="20.1" fill="none" stroke="#c9c9c9" stroke-width="1.2"/>
<line x1="80.8" y1="1430.8" x2="90.3" y2="1430.8" stroke="#c9c9c9" stroke-width="1.2"/>
<line x1="66.2" y1="1400.7" x2="85.6" y2="1440.8" stroke="#8ed3ad" stroke-width="1.1"/>
<line x1="66.2" y1="1414.1" x2="85.6" y2="1419.1" stroke="#8ed3ad" stroke-width="1.1"/>
<line x1="66.2" y1="1417.4" x2="85.6" y2="1429.1" stroke="#8ed3ad" stroke-width="1.1"/>
<line x1="66.2" y1="1419.1" x2="85.6" y2="1439.2" stroke="#8ed3ad" stroke-width="1.1"/>
<line x1="66.2" y1="1422.4" x2="85.6" y2="1405.7" stroke="#8ed3ad" stroke-width="1.1"/>
<line x1="66.2" y1="1424.1" x2="85.6" y2="1444.2" stroke="#8ed3ad" stroke-width="1.1"/>
<line x1="66.2" y1="1425.8" x2="85.6" y2="1435.8" stroke="#8ed3ad" stroke-width="1.1"/>
<line x1="66.2" y1="1427.5" x2="85.6" y2="1432.5" stroke="#8ed3ad" stroke-width="1.1"/>
<line x1="66.2" y1="1429.1" x2="85.6" y2="1425.8" stroke="#8ed3ad" stroke-width="1.1"/>
<line x1="66.2" y1="1430.8" x2="85.6" y2="1442.5" stroke="#8ed3ad" stroke-width="1.1"/>
<line x1="66.2" y1="1434.1" x2="85.6" y2="1368.9" stroke="#8ed3ad" stroke-width="1.1"/>
<line x1="66.2" y1="1437.5" x2="85.6" y2="1430.8" stroke="#8ed3ad" stroke-width="1.1"/>
<line x1="66.2" y1="1440.8" x2="85.6" y2="1422.4" stroke="#8ed3ad" stroke-width="1.1"/>
<line x1="66.2" y1="1444.2" x2="85.6" y2="1417.4" stroke="#8ed3ad" stroke-width="1.1"/>
<circle cx="66.2" cy="1400.7" r="3.1" fill="#8ed3ad"/>
<circle cx="66.2" cy="1414.1" r="3.1" fill="#8ed3ad"/>
<circle cx="66.2" cy="1417.4" r="3.1" fill="#8ed3ad"/>
<circle cx="66.2" cy="1419.1" r="3.1" fill="#8ed3ad"/>
<circle cx="66.2" cy="1422.4" r="3.1" fill="#8ed3ad"/>
<circle cx="66.2" cy="1424.1" r="3.1" fill="#8ed3ad"/>
<circle cx="66.2" cy="1425.8" r="3.1" fill="#8ed3ad"/>
<circle cx="66.2" cy="1427.5" r="3.1" fill="#8ed3ad"/>
<circle cx="66.2" cy="1429.1" r="3.1" fill="#8ed3ad"/>
<circle cx="66.2" cy="1430.8" r="3.1" fill="#8ed3ad"/>
<circle cx="66.2" cy="1434.1" r="3.1" fill="#8ed3ad"/>
<circle cx="66.2" cy="1437.5" r="3.1" fill="#8ed3ad"/>
<circle cx="66.2" cy="1440.8" r="3.1" fill="#8ed3ad"/>
<circle cx="66.2" cy="1444.2" r="3.1" fill="#8ed3ad"/>
<circle cx="85.6" cy="1440.8" r="3.1" fill="#8ed3ad"/>
<circle cx="85.6" cy="1419.1" r="3.1" fill="#8ed3ad"/>
<circle cx="85.6" cy="1429.1" r="3.1" fill="#8ed3ad"/>
<circle cx="85.6" cy="1439.2" r="3.1" fill="#8ed3ad"/>
<circle cx="85.6" cy="1405.7" r="3.1" fill="#8ed3ad"/>
<circle cx="85.6" cy="1444.2" r="3.1" fill="#8ed3ad"/>
<circle cx="85.6" cy="1435.8" r="3.1" fill="#8ed3ad"/>
<circle cx="85.6" cy="1432.5" r="3.1" fill="#8ed3ad"/>
<circle cx="85.6" cy="1425.8" r="3.1" fill="#8ed3ad"/>
<circle cx="85.6" cy="1442.5" r="3.1" fill="#8ed3ad"/>
<circle cx="85.6" cy="1368.9" r="3.1" fill="#8ed3ad"/>
<circle cx="85.6" cy="1430.8" r="3.1" fill="#8ed3ad"/>
<circle cx="85.6" cy="1422.4" r="3.1" fill="#8ed3ad"/>
<circle cx="85.6" cy="1417.4" r="3.1" fill="#8ed3ad"/>
<text x="71.2" y="1486.6" font-size="11.2" text-anchor="end" fill="#333" transform="rotate(-45 71.2 1486.6)" stroke="#333" stroke-width="0.22">Saline</text>
<text x="88.3" y="1486.6" font-size="11.2" text-anchor="end" fill="#333" transform="rotate(-45 88.3 1486.6)" stroke="#333" stroke-width="0.22">MK801</text>
<path d="M63.9,1300.2 L63.9,1298.0 L87.9,1298.0 L87.9,1300.2" fill="none" stroke="#888" stroke-width="1.1"/>
<text x="76.7" y="1291.9" font-size="11" text-anchor="middle" fill="#222" stroke="#222" stroke-width="0.22">0.99</text>
<line x1="124.2" y1="1472.6" x2="124.2" y2="1475.1" stroke="#555" stroke-width="1.1"/>
<line x1="143.7" y1="1472.6" x2="143.7" y2="1475.1" stroke="#555" stroke-width="1.1"/>
<line x1="124.2" y1="1414.1" x2="124.2" y2="1415.8" stroke="#c9c9c9" stroke-width="1.2"/>
<line x1="124.2" y1="1435.8" x2="124.2" y2="1432.5" stroke="#c9c9c9" stroke-width="1.2"/>
<rect x="119.5" y="1415.8" width="9.5" height="16.7" fill="none" stroke="#c9c9c9" stroke-width="1.2"/>
<line x1="119.5" y1="1424.1" x2="128.9" y2="1424.1" stroke="#c9c9c9" stroke-width="1.2"/>
<line x1="143.7" y1="1385.7" x2="143.7" y2="1402.4" stroke="#c9c9c9" stroke-width="1.2"/>
<line x1="143.7" y1="1435.8" x2="143.7" y2="1422.4" stroke="#c9c9c9" stroke-width="1.2"/>
<rect x="138.9" y="1402.4" width="9.5" height="20.1" fill="none" stroke="#c9c9c9" stroke-width="1.2"/>
<line x1="138.9" y1="1410.7" x2="148.4" y2="1410.7" stroke="#c9c9c9" stroke-width="1.2"/>
<line x1="124.2" y1="1414.1" x2="143.7" y2="1385.7" stroke="#4bb2cd" stroke-width="1.1"/>
<line x1="124.2" y1="1415.8" x2="143.7" y2="1392.3" stroke="#4bb2cd" stroke-width="1.1"/>
<line x1="124.2" y1="1417.4" x2="143.7" y2="1399.0" stroke="#4bb2cd" stroke-width="1.1"/>
<line x1="124.2" y1="1419.1" x2="143.7" y2="1402.4" stroke="#4bb2cd" stroke-width="1.1"/>
<line x1="124.2" y1="1420.8" x2="143.7" y2="1405.7" stroke="#4bb2cd" stroke-width="1.1"/>
<line x1="124.2" y1="1422.4" x2="143.7" y2="1409.1" stroke="#4bb2cd" stroke-width="1.1"/>
<line x1="124.2" y1="1424.1" x2="143.7" y2="1412.4" stroke="#4bb2cd" stroke-width="1.1"/>
<line x1="124.2" y1="1425.8" x2="143.7" y2="1414.1" stroke="#4bb2cd" stroke-width="1.1"/>
<line x1="124.2" y1="1427.5" x2="143.7" y2="1417.4" stroke="#4bb2cd" stroke-width="1.1"/>
<line x1="124.2" y1="1429.1" x2="143.7" y2="1420.8" stroke="#4bb2cd" stroke-width="1.1"/>
<line x1="124.2" y1="1430.8" x2="143.7" y2="1422.4" stroke="#4bb2cd" stroke-width="1.1"/>
<line x1="124.2" y1="1432.5" x2="143.7" y2="1425.8" stroke="#4bb2cd" stroke-width="1.1"/>
<line x1="124.2" y1="1434.1" x2="143.7" y2="1430.8" stroke="#4bb2cd" stroke-width="1.1"/>
<line x1="124.2" y1="1435.8" x2="143.7" y2="1435.8" stroke="#4bb2cd" stroke-width="1.1"/>
<circle cx="124.2" cy="1414.1" r="3.1" fill="#4bb2cd"/>
<circle cx="124.2" cy="1415.8" r="3.1" fill="#4bb2cd"/>
<circle cx="124.2" cy="1417.4" r="3.1" fill="#4bb2cd"/>
<circle cx="124.2" cy="1419.1" r="3.1" fill="#4bb2cd"/>
<circle cx="124.2" cy="1420.8" r="3.1" fill="#4bb2cd"/>
<circle cx="124.2" cy="1422.4" r="3.1" fill="#4bb2cd"/>
<circle cx="124.2" cy="1424.1" r="3.1" fill="#4bb2cd"/>
<circle cx="124.2" cy="1425.8" r="3.1" fill="#4bb2cd"/>
<circle cx="124.2" cy="1427.5" r="3.1" fill="#4bb2cd"/>
<circle cx="124.2" cy="1429.1" r="3.1" fill="#4bb2cd"/>
<circle cx="124.2" cy="1430.8" r="3.1" fill="#4bb2cd"/>
<circle cx="124.2" cy="1432.5" r="3.1" fill="#4bb2cd"/>
<circle cx="124.2" cy="1434.1" r="3.1" fill="#4bb2cd"/>
<circle cx="124.2" cy="1435.8" r="3.1" fill="#4bb2cd"/>
<circle cx="143.7" cy="1385.7" r="3.1" fill="#4bb2cd"/>
<circle cx="143.7" cy="1392.3" r="3.1" fill="#4bb2cd"/>
<circle cx="143.7" cy="1399.0" r="3.1" fill="#4bb2cd"/>
<circle cx="143.7" cy="1402.4" r="3.1" fill="#4bb2cd"/>
<circle cx="143.7" cy="1405.7" r="3.1" fill="#4bb2cd"/>
<circle cx="143.7" cy="1409.1" r="3.1" fill="#4bb2cd"/>
<circle cx="143.7" cy="1412.4" r="3.1" fill="#4bb2cd"/>
<circle cx="143.7" cy="1414.1" r="3.1" fill="#4bb2cd"/>
<circle cx="143.7" cy="1417.4" r="3.1" fill="#4bb2cd"/>
<circle cx="143.7" cy="1420.8" r="3.1" fill="#4bb2cd"/>
<circle cx="143.7" cy="1422.4" r="3.1" fill="#4bb2cd"/>
<circle cx="143.7" cy="1425.8" r="3.1" fill="#4bb2cd"/>
<circle cx="143.7" cy="1430.8" r="3.1" fill="#4bb2cd"/>
<circle cx="143.7" cy="1435.8" r="3.1" fill="#4bb2cd"/>
<text x="129.2" y="1486.6" font-size="11.2" text-anchor="end" fill="#333" transform="rotate(-45 129.2 1486.6)" stroke="#333" stroke-width="0.22">Saline</text>
<text x="146.4" y="1486.6" font-size="11.2" text-anchor="end" fill="#333" transform="rotate(-45 146.4 1486.6)" stroke="#333" stroke-width="0.22">MK801</text>
<path d="M121.9,1300.2 L121.9,1298.0 L146.0,1298.0 L146.0,1300.2" fill="none" stroke="#888" stroke-width="1.1"/>
<text x="134.8" y="1291.9" font-size="11" text-anchor="middle" fill="#222" stroke="#222" stroke-width="0.22">0.013</text>
<line x1="181.7" y1="1472.6" x2="181.7" y2="1475.1" stroke="#555" stroke-width="1.1"/>
<line x1="200.8" y1="1472.6" x2="200.8" y2="1475.1" stroke="#555" stroke-width="1.1"/>
<line x1="181.7" y1="1382.3" x2="181.7" y2="1390.7" stroke="#c9c9c9" stroke-width="1.2"/>
<line x1="181.7" y1="1425.8" x2="181.7" y2="1412.4" stroke="#c9c9c9" stroke-width="1.2"/>
<rect x="176.9" y="1390.7" width="9.5" height="21.7" fill="none" stroke="#c9c9c9" stroke-width="1.2"/>
<line x1="176.9" y1="1402.4" x2="186.4" y2="1402.4" stroke="#c9c9c9" stroke-width="1.2"/>
<line x1="200.8" y1="1352.2" x2="200.8" y2="1367.3" stroke="#c9c9c9" stroke-width="1.2"/>
<line x1="200.8" y1="1422.4" x2="200.8" y2="1407.4" stroke="#c9c9c9" stroke-width="1.2"/>
<rect x="196.1" y="1367.3" width="9.5" height="40.1" fill="none" stroke="#c9c9c9" stroke-width="1.2"/>
<line x1="196.1" y1="1394.0" x2="205.6" y2="1394.0" stroke="#c9c9c9" stroke-width="1.2"/>
<line x1="181.7" y1="1382.3" x2="200.8" y2="1368.9" stroke="#2a6db0" stroke-width="1.1"/>
<line x1="181.7" y1="1385.7" x2="200.8" y2="1414.1" stroke="#2a6db0" stroke-width="1.1"/>
<line x1="181.7" y1="1389.0" x2="200.8" y2="1405.7" stroke="#2a6db0" stroke-width="1.1"/>
<line x1="181.7" y1="1392.3" x2="200.8" y2="1412.4" stroke="#2a6db0" stroke-width="1.1"/>
<line x1="181.7" y1="1395.7" x2="200.8" y2="1402.4" stroke="#2a6db0" stroke-width="1.1"/>
<line x1="181.7" y1="1399.0" x2="200.8" y2="1389.0" stroke="#2a6db0" stroke-width="1.1"/>
<line x1="181.7" y1="1400.7" x2="200.8" y2="1417.4" stroke="#2a6db0" stroke-width="1.1"/>
<line x1="181.7" y1="1402.4" x2="200.8" y2="1399.0" stroke="#2a6db0" stroke-width="1.1"/>
<line x1="181.7" y1="1404.0" x2="200.8" y2="1358.9" stroke="#2a6db0" stroke-width="1.1"/>
<line x1="181.7" y1="1405.7" x2="200.8" y2="1395.7" stroke="#2a6db0" stroke-width="1.1"/>
<line x1="181.7" y1="1409.1" x2="200.8" y2="1422.4" stroke="#2a6db0" stroke-width="1.1"/>
<line x1="181.7" y1="1412.4" x2="200.8" y2="1352.2" stroke="#2a6db0" stroke-width="1.1"/>
<line x1="181.7" y1="1422.4" x2="200.8" y2="1362.2" stroke="#2a6db0" stroke-width="1.1"/>
<line x1="181.7" y1="1425.8" x2="200.8" y2="1394.0" stroke="#2a6db0" stroke-width="1.1"/>
<circle cx="181.7" cy="1382.3" r="3.1" fill="#2a6db0"/>
<circle cx="181.7" cy="1385.7" r="3.1" fill="#2a6db0"/>
<circle cx="181.7" cy="1389.0" r="3.1" fill="#2a6db0"/>
<circle cx="181.7" cy="1392.3" r="3.1" fill="#2a6db0"/>
<circle cx="181.7" cy="1395.7" r="3.1" fill="#2a6db0"/>
<circle cx="181.7" cy="1399.0" r="3.1" fill="#2a6db0"/>
<circle cx="181.7" cy="1400.7" r="3.1" fill="#2a6db0"/>
<circle cx="181.7" cy="1402.4" r="3.1" fill="#2a6db0"/>
<circle cx="181.7" cy="1404.0" r="3.1" fill="#2a6db0"/>
<circle cx="181.7" cy="1405.7" r="3.1" fill="#2a6db0"/>
<circle cx="181.7" cy="1409.1" r="3.1" fill="#2a6db0"/>
<circle cx="181.7" cy="1412.4" r="3.1" fill="#2a6db0"/>
<circle cx="181.7" cy="1422.4" r="3.1" fill="#2a6db0"/>
<circle cx="181.7" cy="1425.8" r="3.1" fill="#2a6db0"/>
<circle cx="200.8" cy="1368.9" r="3.1" fill="#2a6db0"/>
<circle cx="200.8" cy="1414.1" r="3.1" fill="#2a6db0"/>
<circle cx="200.8" cy="1405.7" r="3.1" fill="#2a6db0"/>
<circle cx="200.8" cy="1412.4" r="3.1" fill="#2a6db0"/>
<circle cx="200.8" cy="1402.4" r="3.1" fill="#2a6db0"/>
<circle cx="200.8" cy="1389.0" r="3.1" fill="#2a6db0"/>
<circle cx="200.8" cy="1417.4" r="3.1" fill="#2a6db0"/>
<circle cx="200.8" cy="1399.0" r="3.1" fill="#2a6db0"/>
<circle cx="200.8" cy="1358.9" r="3.1" fill="#2a6db0"/>
<circle cx="200.8" cy="1395.7" r="3.1" fill="#2a6db0"/>
<circle cx="200.8" cy="1422.4" r="3.1" fill="#2a6db0"/>
<circle cx="200.8" cy="1352.2" r="3.1" fill="#2a6db0"/>
<circle cx="200.8" cy="1362.2" r="3.1" fill="#2a6db0"/>
<circle cx="200.8" cy="1394.0" r="3.1" fill="#2a6db0"/>
<text x="186.7" y="1486.6" font-size="11.2" text-anchor="end" fill="#333" transform="rotate(-45 186.7 1486.6)" stroke="#333" stroke-width="0.22">Saline</text>
<text x="203.5" y="1486.6" font-size="11.2" text-anchor="end" fill="#333" transform="rotate(-45 203.5 1486.6)" stroke="#333" stroke-width="0.22">MK801</text>
<path d="M179.4,1300.2 L179.4,1298.0 L203.1,1298.0 L203.1,1300.2" fill="none" stroke="#888" stroke-width="1.1"/>
<text x="192.1" y="1291.9" font-size="11" text-anchor="middle" fill="#222" stroke="#222" stroke-width="0.22">0.13</text>
<text x="9.6" y="1389.0" font-size="11" text-anchor="middle" fill="#111" transform="rotate(-90 9.6 1389.0)" stroke="#111" stroke-width="0.22"><tspan font-style="italic">P</tspan><tspan font-size="10.5" dy="6">ws</tspan></text>
<text x="-0.5" y="1289.6" font-size="22" text-anchor="start" fill="#1a1a1a" font-weight="bold">o</text>
<text x="36.3" y="1291.9" font-size="11" text-anchor="start" fill="#222" stroke="#222" stroke-width="0.22"><tspan font-style="italic">P</tspan> =</text>
<line x1="311.6" y1="1305.4" x2="311.6" y2="1472.6" stroke="#555" stroke-width="1.1"/>
<line x1="309.1" y1="1472.6" x2="311.6" y2="1472.6" stroke="#555" stroke-width="1.1"/>
<text x="302.6" y="1476.5" font-size="11" text-anchor="end" fill="#4d4d4d" stroke="#4d4d4d" stroke-width="0.22">0.00</text>
<line x1="309.1" y1="1439.2" x2="311.6" y2="1439.2" stroke="#555" stroke-width="1.1"/>
<text x="302.6" y="1443.1" font-size="11" text-anchor="end" fill="#4d4d4d" stroke="#4d4d4d" stroke-width="0.22">0.02</text>
<line x1="309.1" y1="1405.7" x2="311.6" y2="1405.7" stroke="#555" stroke-width="1.1"/>
<text x="302.6" y="1409.6" font-size="11" text-anchor="end" fill="#4d4d4d" stroke="#4d4d4d" stroke-width="0.22">0.04</text>
<line x1="309.1" y1="1372.3" x2="311.6" y2="1372.3" stroke="#555" stroke-width="1.1"/>
<text x="302.6" y="1376.2" font-size="11" text-anchor="end" fill="#4d4d4d" stroke="#4d4d4d" stroke-width="0.22">0.06</text>
<line x1="309.1" y1="1338.8" x2="311.6" y2="1338.8" stroke="#555" stroke-width="1.1"/>
<text x="302.6" y="1342.7" font-size="11" text-anchor="end" fill="#4d4d4d" stroke="#4d4d4d" stroke-width="0.22">0.08</text>
<line x1="309.1" y1="1305.4" x2="311.6" y2="1305.4" stroke="#555" stroke-width="1.1"/>
<text x="302.6" y="1309.3" font-size="11" text-anchor="end" fill="#4d4d4d" stroke="#4d4d4d" stroke-width="0.22">0.10</text>
<line x1="311.6" y1="1472.6" x2="353.3" y2="1472.6" stroke="#555" stroke-width="1.1"/>
<line x1="369.4" y1="1472.6" x2="411.4" y2="1472.6" stroke="#555" stroke-width="1.1"/>
<line x1="427.2" y1="1472.6" x2="468.3" y2="1472.6" stroke="#555" stroke-width="1.1"/>
<line x1="323.4" y1="1472.6" x2="323.4" y2="1475.1" stroke="#555" stroke-width="1.1"/>
<line x1="342.5" y1="1472.6" x2="342.5" y2="1475.1" stroke="#555" stroke-width="1.1"/>
<line x1="323.4" y1="1405.7" x2="323.4" y2="1410.7" stroke="#c9c9c9" stroke-width="1.2"/>
<line x1="323.4" y1="1442.5" x2="323.4" y2="1434.1" stroke="#c9c9c9" stroke-width="1.2"/>
<rect x="318.6" y="1410.7" width="9.5" height="23.4" fill="none" stroke="#c9c9c9" stroke-width="1.2"/>
<line x1="318.6" y1="1422.4" x2="328.1" y2="1422.4" stroke="#c9c9c9" stroke-width="1.2"/>
<line x1="342.5" y1="1409.1" x2="342.5" y2="1417.4" stroke="#c9c9c9" stroke-width="1.2"/>
<line x1="342.5" y1="1434.1" x2="342.5" y2="1429.1" stroke="#c9c9c9" stroke-width="1.2"/>
<rect x="337.8" y="1417.4" width="9.5" height="11.7" fill="none" stroke="#c9c9c9" stroke-width="1.2"/>
<line x1="337.8" y1="1422.4" x2="347.2" y2="1422.4" stroke="#c9c9c9" stroke-width="1.2"/>
<line x1="323.4" y1="1405.7" x2="342.5" y2="1417.4" stroke="#8ed3ad" stroke-width="1.1"/>
<line x1="323.4" y1="1409.1" x2="342.5" y2="1432.5" stroke="#8ed3ad" stroke-width="1.1"/>
<line x1="323.4" y1="1412.4" x2="342.5" y2="1424.1" stroke="#8ed3ad" stroke-width="1.1"/>
<line x1="323.4" y1="1415.8" x2="342.5" y2="1430.8" stroke="#8ed3ad" stroke-width="1.1"/>
<line x1="323.4" y1="1419.1" x2="342.5" y2="1420.8" stroke="#8ed3ad" stroke-width="1.1"/>
<line x1="323.4" y1="1422.4" x2="342.5" y2="1429.1" stroke="#8ed3ad" stroke-width="1.1"/>
<line x1="323.4" y1="1424.1" x2="342.5" y2="1425.8" stroke="#8ed3ad" stroke-width="1.1"/>
<line x1="323.4" y1="1425.8" x2="342.5" y2="1427.5" stroke="#8ed3ad" stroke-width="1.1"/>
<line x1="323.4" y1="1429.1" x2="342.5" y2="1394.0" stroke="#8ed3ad" stroke-width="1.1"/>
<line x1="323.4" y1="1432.5" x2="342.5" y2="1422.4" stroke="#8ed3ad" stroke-width="1.1"/>
<line x1="323.4" y1="1435.8" x2="342.5" y2="1414.1" stroke="#8ed3ad" stroke-width="1.1"/>
<line x1="323.4" y1="1437.5" x2="342.5" y2="1434.1" stroke="#8ed3ad" stroke-width="1.1"/>
<line x1="323.4" y1="1439.2" x2="342.5" y2="1419.1" stroke="#8ed3ad" stroke-width="1.1"/>
<line x1="323.4" y1="1442.5" x2="342.5" y2="1409.1" stroke="#8ed3ad" stroke-width="1.1"/>
<circle cx="323.4" cy="1405.7" r="3.1" fill="#8ed3ad"/>
<circle cx="323.4" cy="1409.1" r="3.1" fill="#8ed3ad"/>
<circle cx="323.4" cy="1412.4" r="3.1" fill="#8ed3ad"/>
<circle cx="323.4" cy="1415.8" r="3.1" fill="#8ed3ad"/>
<circle cx="323.4" cy="1419.1" r="3.1" fill="#8ed3ad"/>
<circle cx="323.4" cy="1422.4" r="3.1" fill="#8ed3ad"/>
<circle cx="323.4" cy="1424.1" r="3.1" fill="#8ed3ad"/>
<circle cx="323.4" cy="1425.8" r="3.1" fill="#8ed3ad"/>
<circle cx="323.4" cy="1429.1" r="3.1" fill="#8ed3ad"/>
<circle cx="323.4" cy="1432.5" r="3.1" fill="#8ed3ad"/>
<circle cx="323.4" cy="1435.8" r="3.1" fill="#8ed3ad"/>
<circle cx="323.4" cy="1437.5" r="3.1" fill="#8ed3ad"/>
<circle cx="323.4" cy="1439.2" r="3.1" fill="#8ed3ad"/>
<circle cx="323.4" cy="1442.5" r="3.1" fill="#8ed3ad"/>
<circle cx="342.5" cy="1417.4" r="3.1" fill="#8ed3ad"/>
<circle cx="342.5" cy="1432.5" r="3.1" fill="#8ed3ad"/>
<circle cx="342.5" cy="1424.1" r="3.1" fill="#8ed3ad"/>
<circle cx="342.5" cy="1430.8" r="3.1" fill="#8ed3ad"/>
<circle cx="342.5" cy="1420.8" r="3.1" fill="#8ed3ad"/>
<circle cx="342.5" cy="1429.1" r="3.1" fill="#8ed3ad"/>
<circle cx="342.5" cy="1425.8" r="3.1" fill="#8ed3ad"/>
<circle cx="342.5" cy="1427.5" r="3.1" fill="#8ed3ad"/>
<circle cx="342.5" cy="1394.0" r="3.1" fill="#8ed3ad"/>
<circle cx="342.5" cy="1422.4" r="3.1" fill="#8ed3ad"/>
<circle cx="342.5" cy="1414.1" r="3.1" fill="#8ed3ad"/>
<circle cx="342.5" cy="1434.1" r="3.1" fill="#8ed3ad"/>
<circle cx="342.5" cy="1419.1" r="3.1" fill="#8ed3ad"/>
<circle cx="342.5" cy="1409.1" r="3.1" fill="#8ed3ad"/>
<text x="328.4" y="1486.6" font-size="11.2" text-anchor="end" fill="#333" transform="rotate(-45 328.4 1486.6)" stroke="#333" stroke-width="0.22">Saline</text>
<text x="345.2" y="1486.6" font-size="11.2" text-anchor="end" fill="#333" transform="rotate(-45 345.2 1486.6)" stroke="#333" stroke-width="0.22">MK801</text>
<path d="M321.1,1300.2 L321.1,1298.0 L344.8,1298.0 L344.8,1300.2" fill="none" stroke="#888" stroke-width="1.1"/>
<text x="333.8" y="1291.9" font-size="11" text-anchor="middle" fill="#222" stroke="#222" stroke-width="0.22">0.78</text>
<line x1="380.5" y1="1472.6" x2="380.5" y2="1475.1" stroke="#555" stroke-width="1.1"/>
<line x1="400.3" y1="1472.6" x2="400.3" y2="1475.1" stroke="#555" stroke-width="1.1"/>
<line x1="380.5" y1="1410.7" x2="380.5" y2="1415.8" stroke="#c9c9c9" stroke-width="1.2"/>
<line x1="380.5" y1="1435.8" x2="380.5" y2="1424.1" stroke="#c9c9c9" stroke-width="1.2"/>
<rect x="375.8" y="1415.8" width="9.5" height="8.4" fill="none" stroke="#c9c9c9" stroke-width="1.2"/>
<line x1="375.8" y1="1420.8" x2="385.2" y2="1420.8" stroke="#c9c9c9" stroke-width="1.2"/>
<line x1="400.3" y1="1424.1" x2="400.3" y2="1430.8" stroke="#c9c9c9" stroke-width="1.2"/>
<line x1="400.3" y1="1447.5" x2="400.3" y2="1440.8" stroke="#c9c9c9" stroke-width="1.2"/>
<rect x="395.6" y="1430.8" width="9.5" height="10.0" fill="none" stroke="#c9c9c9" stroke-width="1.2"/>
<line x1="395.6" y1="1435.8" x2="405.1" y2="1435.8" stroke="#c9c9c9" stroke-width="1.2"/>
<line x1="380.5" y1="1384.0" x2="400.3" y2="1424.1" stroke="#4bb2cd" stroke-width="1.1"/>
<line x1="380.5" y1="1387.3" x2="400.3" y2="1425.8" stroke="#4bb2cd" stroke-width="1.1"/>
<line x1="380.5" y1="1410.7" x2="400.3" y2="1427.5" stroke="#4bb2cd" stroke-width="1.1"/>
<line x1="380.5" y1="1414.1" x2="400.3" y2="1429.1" stroke="#4bb2cd" stroke-width="1.1"/>
<line x1="380.5" y1="1415.8" x2="400.3" y2="1430.8" stroke="#4bb2cd" stroke-width="1.1"/>
<line x1="380.5" y1="1417.4" x2="400.3" y2="1432.5" stroke="#4bb2cd" stroke-width="1.1"/>
<line x1="380.5" y1="1419.1" x2="400.3" y2="1434.1" stroke="#4bb2cd" stroke-width="1.1"/>
<line x1="380.5" y1="1420.8" x2="400.3" y2="1435.8" stroke="#4bb2cd" stroke-width="1.1"/>
<line x1="380.5" y1="1422.4" x2="400.3" y2="1437.5" stroke="#4bb2cd" stroke-width="1.1"/>
<line x1="380.5" y1="1424.1" x2="400.3" y2="1439.2" stroke="#4bb2cd" stroke-width="1.1"/>
<line x1="380.5" y1="1425.8" x2="400.3" y2="1440.8" stroke="#4bb2cd" stroke-width="1.1"/>
<line x1="380.5" y1="1429.1" x2="400.3" y2="1442.5" stroke="#4bb2cd" stroke-width="1.1"/>
<line x1="380.5" y1="1432.5" x2="400.3" y2="1444.2" stroke="#4bb2cd" stroke-width="1.1"/>
<line x1="380.5" y1="1435.8" x2="400.3" y2="1447.5" stroke="#4bb2cd" stroke-width="1.1"/>
<circle cx="380.5" cy="1384.0" r="3.1" fill="#4bb2cd"/>
<circle cx="380.5" cy="1387.3" r="3.1" fill="#4bb2cd"/>
<circle cx="380.5" cy="1410.7" r="3.1" fill="#4bb2cd"/>
<circle cx="380.5" cy="1414.1" r="3.1" fill="#4bb2cd"/>
<circle cx="380.5" cy="1415.8" r="3.1" fill="#4bb2cd"/>
<circle cx="380.5" cy="1417.4" r="3.1" fill="#4bb2cd"/>
<circle cx="380.5" cy="1419.1" r="3.1" fill="#4bb2cd"/>
<circle cx="380.5" cy="1420.8" r="3.1" fill="#4bb2cd"/>
<circle cx="380.5" cy="1422.4" r="3.1" fill="#4bb2cd"/>
<circle cx="380.5" cy="1424.1" r="3.1" fill="#4bb2cd"/>
<circle cx="380.5" cy="1425.8" r="3.1" fill="#4bb2cd"/>
<circle cx="380.5" cy="1429.1" r="3.1" fill="#4bb2cd"/>
<circle cx="380.5" cy="1432.5" r="3.1" fill="#4bb2cd"/>
<circle cx="380.5" cy="1435.8" r="3.1" fill="#4bb2cd"/>
<circle cx="400.3" cy="1424.1" r="3.1" fill="#4bb2cd"/>
<circle cx="400.3" cy="1425.8" r="3.1" fill="#4bb2cd"/>
<circle cx="400.3" cy="1427.5" r="3.1" fill="#4bb2cd"/>
<circle cx="400.3" cy="1429.1" r="3.1" fill="#4bb2cd"/>
<circle cx="400.3" cy="1430.8" r="3.1" fill="#4bb2cd"/>
<circle cx="400.3" cy="1432.5" r="3.1" fill="#4bb2cd"/>
<circle cx="400.3" cy="1434.1" r="3.1" fill="#4bb2cd"/>
<circle cx="400.3" cy="1435.8" r="3.1" fill="#4bb2cd"/>
<circle cx="400.3" cy="1437.5" r="3.1" fill="#4bb2cd"/>
<circle cx="400.3" cy="1439.2" r="3.1" fill="#4bb2cd"/>
<circle cx="400.3" cy="1440.8" r="3.1" fill="#4bb2cd"/>
<circle cx="400.3" cy="1442.5" r="3.1" fill="#4bb2cd"/>
<circle cx="400.3" cy="1444.2" r="3.1" fill="#4bb2cd"/>
<circle cx="400.3" cy="1447.5" r="3.1" fill="#4bb2cd"/>
<text x="385.5" y="1486.6" font-size="11.2" text-anchor="end" fill="#333" transform="rotate(-45 385.5 1486.6)" stroke="#333" stroke-width="0.22">Saline</text>
<text x="403.0" y="1486.6" font-size="11.2" text-anchor="end" fill="#333" transform="rotate(-45 403.0 1486.6)" stroke="#333" stroke-width="0.22">MK801</text>
<path d="M378.2,1300.2 L378.2,1298.0 L402.6,1298.0 L402.6,1300.2" fill="none" stroke="#888" stroke-width="1.1"/>
<text x="391.2" y="1291.9" font-size="11" text-anchor="middle" fill="#222" stroke="#222" stroke-width="0.22">1.0 × 10<tspan dy="-4" font-size="7.5">-3</tspan></text>
<line x1="438.9" y1="1472.6" x2="438.9" y2="1475.1" stroke="#555" stroke-width="1.1"/>
<line x1="457.8" y1="1472.6" x2="457.8" y2="1475.1" stroke="#555" stroke-width="1.1"/>
<line x1="438.9" y1="1394.0" x2="438.9" y2="1399.7" stroke="#c9c9c9" stroke-width="1.2"/>
<line x1="438.9" y1="1432.5" x2="438.9" y2="1422.4" stroke="#c9c9c9" stroke-width="1.2"/>
<rect x="434.1" y="1399.7" width="9.5" height="22.7" fill="none" stroke="#c9c9c9" stroke-width="1.2"/>
<line x1="434.1" y1="1417.4" x2="443.6" y2="1417.4" stroke="#c9c9c9" stroke-width="1.2"/>
<line x1="457.8" y1="1413.1" x2="457.8" y2="1423.3" stroke="#c9c9c9" stroke-width="1.2"/>
<line x1="457.8" y1="1440.8" x2="457.8" y2="1433.6" stroke="#c9c9c9" stroke-width="1.2"/>
<rect x="453.1" y="1423.3" width="9.5" height="10.4" fill="none" stroke="#c9c9c9" stroke-width="1.2"/>
<line x1="453.1" y1="1429.1" x2="462.6" y2="1429.1" stroke="#c9c9c9" stroke-width="1.2"/>
<line x1="438.9" y1="1356.4" x2="457.8" y2="1413.1" stroke="#2a6db0" stroke-width="1.1"/>
<line x1="438.9" y1="1394.0" x2="457.8" y2="1420.8" stroke="#2a6db0" stroke-width="1.1"/>
<line x1="438.9" y1="1399.0" x2="457.8" y2="1422.4" stroke="#2a6db0" stroke-width="1.1"/>
<line x1="438.9" y1="1400.7" x2="457.8" y2="1424.1" stroke="#2a6db0" stroke-width="1.1"/>
<line x1="438.9" y1="1409.1" x2="457.8" y2="1425.8" stroke="#2a6db0" stroke-width="1.1"/>
<line x1="438.9" y1="1414.1" x2="457.8" y2="1427.5" stroke="#2a6db0" stroke-width="1.1"/>
<line x1="438.9" y1="1415.8" x2="457.8" y2="1429.1" stroke="#2a6db0" stroke-width="1.1"/>
<line x1="438.9" y1="1419.1" x2="457.8" y2="1430.8" stroke="#2a6db0" stroke-width="1.1"/>
<line x1="438.9" y1="1420.8" x2="457.8" y2="1432.5" stroke="#2a6db0" stroke-width="1.1"/>
<line x1="438.9" y1="1424.1" x2="457.8" y2="1434.1" stroke="#2a6db0" stroke-width="1.1"/>
<line x1="438.9" y1="1425.8" x2="457.8" y2="1435.8" stroke="#2a6db0" stroke-width="1.1"/>
<line x1="438.9" y1="1429.1" x2="457.8" y2="1437.5" stroke="#2a6db0" stroke-width="1.1"/>
<line x1="438.9" y1="1430.8" x2="457.8" y2="1439.2" stroke="#2a6db0" stroke-width="1.1"/>
<line x1="438.9" y1="1432.5" x2="457.8" y2="1440.8" stroke="#2a6db0" stroke-width="1.1"/>
<circle cx="438.9" cy="1356.4" r="3.1" fill="#2a6db0"/>
<circle cx="438.9" cy="1394.0" r="3.1" fill="#2a6db0"/>
<circle cx="438.9" cy="1399.0" r="3.1" fill="#2a6db0"/>
<circle cx="438.9" cy="1400.7" r="3.1" fill="#2a6db0"/>
<circle cx="438.9" cy="1409.1" r="3.1" fill="#2a6db0"/>
<circle cx="438.9" cy="1414.1" r="3.1" fill="#2a6db0"/>
<circle cx="438.9" cy="1415.8" r="3.1" fill="#2a6db0"/>
<circle cx="438.9" cy="1419.1" r="3.1" fill="#2a6db0"/>
<circle cx="438.9" cy="1420.8" r="3.1" fill="#2a6db0"/>
<circle cx="438.9" cy="1424.1" r="3.1" fill="#2a6db0"/>
<circle cx="438.9" cy="1425.8" r="3.1" fill="#2a6db0"/>
<circle cx="438.9" cy="1429.1" r="3.1" fill="#2a6db0"/>
<circle cx="438.9" cy="1430.8" r="3.1" fill="#2a6db0"/>
<circle cx="438.9" cy="1432.5" r="3.1" fill="#2a6db0"/>
<circle cx="457.8" cy="1413.1" r="3.1" fill="#2a6db0"/>
<circle cx="457.8" cy="1420.8" r="3.1" fill="#2a6db0"/>
<circle cx="457.8" cy="1422.4" r="3.1" fill="#2a6db0"/>
<circle cx="457.8" cy="1424.1" r="3.1" fill="#2a6db0"/>
<circle cx="457.8" cy="1425.8" r="3.1" fill="#2a6db0"/>
<circle cx="457.8" cy="1427.5" r="3.1" fill="#2a6db0"/>
<circle cx="457.8" cy="1429.1" r="3.1" fill="#2a6db0"/>
<circle cx="457.8" cy="1430.8" r="3.1" fill="#2a6db0"/>
<circle cx="457.8" cy="1432.5" r="3.1" fill="#2a6db0"/>
<circle cx="457.8" cy="1434.1" r="3.1" fill="#2a6db0"/>
<circle cx="457.8" cy="1435.8" r="3.1" fill="#2a6db0"/>
<circle cx="457.8" cy="1437.5" r="3.1" fill="#2a6db0"/>
<circle cx="457.8" cy="1439.2" r="3.1" fill="#2a6db0"/>
<circle cx="457.8" cy="1440.8" r="3.1" fill="#2a6db0"/>
<text x="443.9" y="1486.6" font-size="11.2" text-anchor="end" fill="#333" transform="rotate(-45 443.9 1486.6)" stroke="#333" stroke-width="0.22">Saline</text>
<text x="460.5" y="1486.6" font-size="11.2" text-anchor="end" fill="#333" transform="rotate(-45 460.5 1486.6)" stroke="#333" stroke-width="0.22">MK801</text>
<path d="M436.6,1300.2 L436.6,1298.0 L460.1,1298.0 L460.1,1300.2" fill="none" stroke="#888" stroke-width="1.1"/>
<text x="449.2" y="1291.9" font-size="11" text-anchor="middle" fill="#222" stroke="#222" stroke-width="0.22">0.010</text>
<text x="266.8" y="1389.0" font-size="11" text-anchor="middle" fill="#111" transform="rotate(-90 266.8 1389.0)" stroke="#111" stroke-width="0.22"><tspan font-style="italic">P</tspan><tspan font-size="10.5" dy="6">sw</tspan></text>
<text x="246.0" y="1288.5" font-size="22" text-anchor="start" fill="#1a1a1a" font-weight="bold">p</text>
<text x="292.5" y="1291.9" font-size="11" text-anchor="start" fill="#222" stroke="#222" stroke-width="0.22"><tspan font-style="italic">P</tspan> =</text>
</svg>
</body></html>
